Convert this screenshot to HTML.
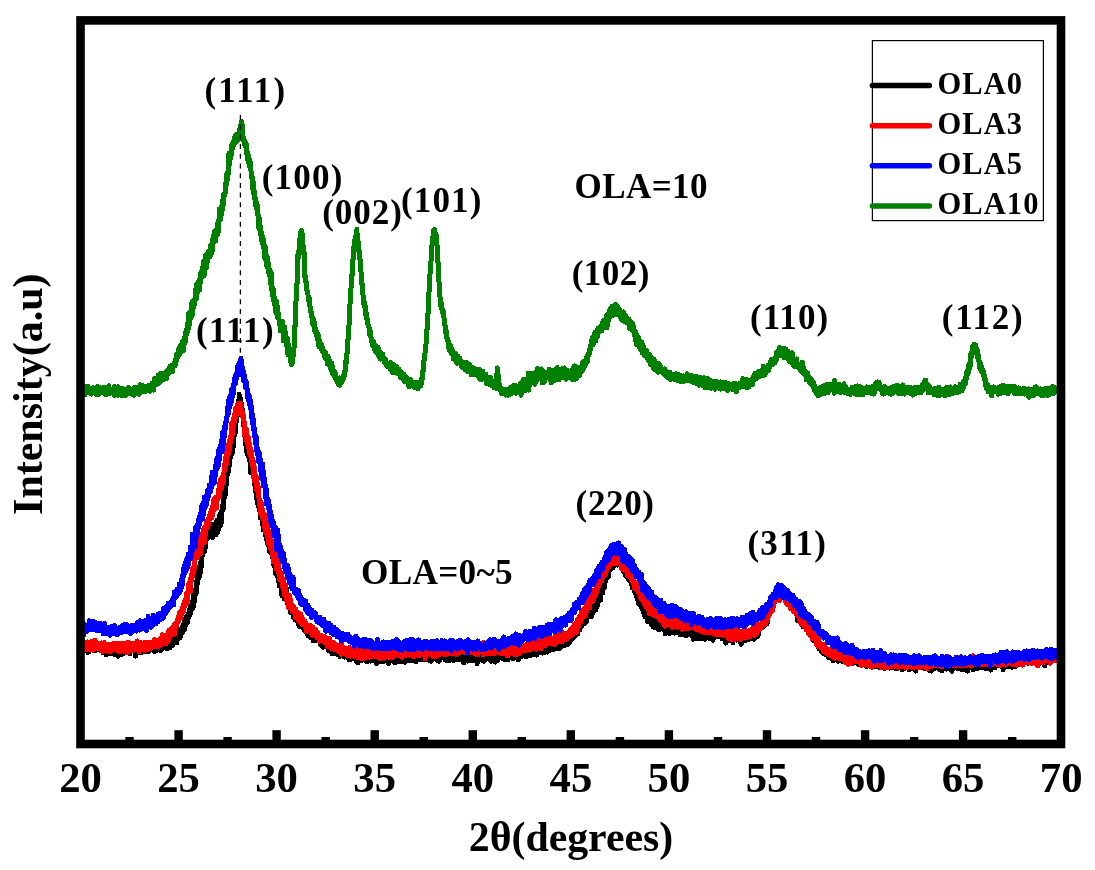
<!DOCTYPE html>
<html><head><meta charset="utf-8"><title>XRD</title>
<style>html,body{margin:0;padding:0;background:#fff;}svg{display:block;}</style>
</head><body>
<svg width="1095" height="870" viewBox="0 0 1095 870">
<rect width="100%" height="100%" fill="#fff"/>
<g fill="none" stroke-width="5" stroke-linejoin="round" stroke-linecap="round" shape-rendering="crispEdges">
<path stroke="#000" d="M82.0,649.2 82.2,650.2 82.4,649.1 82.6,645.7 82.8,650.3 83.0,649.3 83.2,647.3 83.4,649.6 83.6,649.1 83.8,648.9 84.0,648.4 84.2,649.4 84.4,646.8 84.5,647.9 84.7,647.3 84.9,649.5 85.1,648.3 85.3,647.6 85.5,646.6 85.7,647.7 85.9,648.2 86.1,647.6 86.3,650.9 86.5,650.3 86.7,642.5 86.9,644.2 87.1,647.8 87.3,647.2 87.5,648.6 87.7,648.6 87.9,652.5 88.1,645.8 88.3,647.3 88.5,652.3 88.7,649.4 88.9,649.4 89.1,647.0 89.3,644.6 89.4,648.4 89.6,648.3 89.8,645.5 90.0,646.6 90.2,647.9 90.4,646.1 90.6,647.8 90.8,648.2 91.0,648.1 91.2,647.0 91.4,649.3 91.6,649.9 91.8,648.7 92.0,646.3 92.2,649.5 92.4,647.0 92.6,649.8 92.8,645.8 93.0,649.9 93.2,648.0 93.4,645.4 93.6,647.3 93.8,648.1 94.0,648.6 94.2,646.0 94.3,645.7 94.5,648.4 94.7,647.0 94.9,648.5 95.1,649.6 95.3,644.6 95.5,648.5 95.7,650.6 95.9,647.4 96.1,646.3 96.3,649.6 96.5,648.5 96.7,649.9 96.9,647.3 97.1,644.9 97.3,647.8 97.5,647.1 97.7,649.7 97.9,648.5 98.1,644.7 98.3,645.6 98.5,650.0 98.7,649.6 98.9,646.9 99.1,648.2 99.2,649.2 99.4,649.3 99.6,650.1 99.8,648.9 100.0,648.2 100.2,647.9 100.4,650.6 100.6,643.8 100.8,648.2 101.0,648.6 101.2,645.6 101.4,649.3 101.6,647.3 101.8,650.5 102.0,648.5 102.2,650.2 102.4,651.4 102.6,649.7 102.8,647.1 103.0,645.8 103.2,652.7 103.4,648.8 103.6,647.7 103.8,649.5 104.0,648.8 104.1,651.0 104.3,649.4 104.5,649.4 104.7,647.9 104.9,650.4 105.1,647.3 105.3,650.9 105.5,652.7 105.7,646.5 105.9,644.6 106.1,651.0 106.3,655.0 106.5,647.7 106.7,647.2 106.9,651.1 107.1,648.2 107.3,648.9 107.5,649.3 107.7,651.1 107.9,649.2 108.1,650.7 108.3,649.8 108.5,648.4 108.7,649.5 108.9,648.3 109.0,650.3 109.2,648.0 109.4,648.0 109.6,653.3 109.8,650.2 110.0,650.3 110.2,651.5 110.4,649.5 110.6,650.0 110.8,651.3 111.0,651.0 111.2,648.1 111.4,652.2 111.6,649.3 111.8,648.3 112.0,648.6 112.2,649.7 112.4,653.9 112.6,648.1 112.8,650.8 113.0,646.1 113.2,650.5 113.4,652.4 113.6,650.0 113.8,649.2 113.9,651.0 114.1,651.9 114.3,651.9 114.5,654.6 114.7,650.9 114.9,649.3 115.1,650.2 115.3,650.3 115.5,650.7 115.7,650.4 115.9,650.8 116.1,647.0 116.3,652.2 116.5,649.3 116.7,648.0 116.9,651.8 117.1,653.2 117.3,651.4 117.5,650.8 117.7,648.5 117.9,656.3 118.1,652.2 118.3,648.0 118.5,648.8 118.7,650.6 118.8,647.2 119.0,650.7 119.2,649.4 119.4,652.9 119.6,652.3 119.8,644.8 120.0,650.4 120.2,647.0 120.4,652.6 120.6,650.7 120.8,651.4 121.0,648.1 121.2,654.1 121.4,654.5 121.6,648.1 121.8,651.0 122.0,648.9 122.2,650.2 122.4,647.6 122.6,654.1 122.8,648.2 123.0,649.6 123.2,651.3 123.4,648.9 123.6,649.7 123.7,649.0 123.9,649.9 124.1,647.8 124.3,649.3 124.5,649.7 124.7,649.5 124.9,650.3 125.1,649.5 125.3,651.7 125.5,649.5 125.7,649.8 125.9,648.7 126.1,649.0 126.3,647.5 126.5,651.1 126.7,647.7 126.9,648.5 127.1,650.8 127.3,650.9 127.5,649.2 127.7,645.9 127.9,650.9 128.1,650.5 128.3,647.1 128.5,651.6 128.6,648.5 128.8,647.6 129.0,650.2 129.2,649.6 129.4,650.4 129.6,646.6 129.8,653.7 130.0,648.7 130.2,646.7 130.4,651.2 130.6,649.2 130.8,650.6 131.0,649.2 131.2,649.7 131.4,650.4 131.6,648.3 131.8,651.2 132.0,648.9 132.2,648.0 132.4,650.0 132.6,650.7 132.8,649.3 133.0,648.0 133.2,651.1 133.4,646.1 133.5,647.6 133.7,649.8 133.9,646.9 134.1,649.8 134.3,649.6 134.5,651.6 134.7,647.8 134.9,648.4 135.1,650.4 135.3,644.6 135.5,656.1 135.7,648.2 135.9,648.1 136.1,651.4 136.3,649.5 136.5,645.9 136.7,650.9 136.9,651.3 137.1,648.6 137.3,649.0 137.5,650.5 137.7,647.6 137.9,650.4 138.1,649.9 138.3,648.1 138.4,646.6 138.6,649.0 138.8,647.6 139.0,651.5 139.2,649.7 139.4,651.0 139.6,649.7 139.8,649.9 140.0,647.7 140.2,650.7 140.4,653.0 140.6,648.7 140.8,648.1 141.0,649.0 141.2,648.3 141.4,647.8 141.6,649.5 141.8,648.6 142.0,652.2 142.2,649.2 142.4,649.8 142.6,651.1 142.8,648.5 143.0,652.1 143.2,647.8 143.3,647.4 143.5,648.3 143.7,648.8 143.9,646.1 144.1,649.0 144.3,645.5 144.5,651.9 144.7,648.8 144.9,647.6 145.1,647.0 145.3,648.1 145.5,648.4 145.7,646.7 145.9,646.9 146.1,648.4 146.3,647.7 146.5,650.7 146.7,651.1 146.9,648.8 147.1,649.7 147.3,645.9 147.5,650.0 147.7,648.6 147.9,649.6 148.1,651.9 148.2,643.8 148.4,649.1 148.6,646.2 148.8,649.7 149.0,645.7 149.2,647.4 149.4,648.8 149.6,649.6 149.8,648.5 150.0,646.6 150.2,647.1 150.4,650.1 150.6,648.2 150.8,644.6 151.0,649.9 151.2,649.0 151.4,649.9 151.6,647.3 151.8,649.7 152.0,645.7 152.2,649.1 152.4,646.9 152.6,649.3 152.8,649.9 153.0,646.2 153.1,647.6 153.3,647.8 153.5,650.2 153.7,649.1 153.9,645.1 154.1,648.5 154.3,649.1 154.5,651.9 154.7,644.0 154.9,646.3 155.1,650.2 155.3,644.5 155.5,644.8 155.7,648.4 155.9,649.4 156.1,645.8 156.3,648.3 156.5,647.4 156.7,650.3 156.9,647.1 157.1,649.1 157.3,645.1 157.5,646.6 157.7,646.7 157.9,649.3 158.0,648.1 158.2,645.3 158.4,648.2 158.6,648.4 158.8,646.5 159.0,646.2 159.2,646.3 159.4,643.1 159.6,647.0 159.8,647.1 160.0,644.7 160.2,648.1 160.4,643.6 160.6,645.3 160.8,645.4 161.0,650.5 161.2,643.0 161.4,647.5 161.6,648.2 161.8,647.0 162.0,648.7 162.2,644.1 162.4,641.3 162.6,647.7 162.8,643.5 162.9,645.3 163.1,643.5 163.3,648.1 163.5,647.7 163.7,644.3 163.9,647.7 164.1,646.0 164.3,645.4 164.5,645.8 164.7,645.2 164.9,646.9 165.1,646.2 165.3,644.7 165.5,647.5 165.7,644.1 165.9,645.9 166.1,646.1 166.3,648.3 166.5,644.1 166.7,648.7 166.9,645.4 167.1,644.5 167.3,643.5 167.5,646.0 167.7,644.8 167.8,642.3 168.0,642.2 168.2,643.3 168.4,642.9 168.6,646.6 168.8,647.1 169.0,645.9 169.2,644.7 169.4,642.9 169.6,643.8 169.8,645.5 170.0,648.0 170.2,645.3 170.4,642.6 170.6,643.1 170.8,641.9 171.0,641.1 171.2,642.2 171.4,642.9 171.6,646.2 171.8,642.3 172.0,644.9 172.2,645.6 172.4,641.8 172.6,644.9 172.7,642.8 172.9,640.2 173.1,641.5 173.3,640.8 173.5,640.1 173.7,640.0 173.9,640.5 174.1,640.9 174.3,637.9 174.5,639.6 174.7,636.1 174.9,639.8 175.1,640.3 175.3,639.1 175.5,639.2 175.7,639.6 175.9,636.7 176.1,637.4 176.3,638.8 176.5,639.7 176.7,638.1 176.9,642.6 177.1,636.6 177.3,638.7 177.5,639.1 177.6,635.8 177.8,634.1 178.0,633.0 178.2,635.7 178.4,637.6 178.6,635.5 178.8,635.0 179.0,633.6 179.2,635.4 179.4,629.2 179.6,634.2 179.8,633.5 180.0,630.1 180.2,637.6 180.4,629.5 180.6,629.9 180.8,629.4 181.0,634.1 181.2,629.4 181.4,632.5 181.6,632.0 181.8,631.0 182.0,627.1 182.2,628.3 182.4,633.0 182.5,626.1 182.7,626.7 182.9,627.8 183.1,629.6 183.3,627.9 183.5,628.6 183.7,624.2 183.9,628.3 184.1,627.0 184.3,621.7 184.5,628.3 184.7,629.6 184.9,622.2 185.1,623.6 185.3,626.2 185.5,619.2 185.7,617.6 185.9,618.7 186.1,619.9 186.3,619.4 186.5,621.6 186.7,620.3 186.9,616.4 187.1,620.0 187.3,622.6 187.4,620.5 187.6,619.5 187.8,616.8 188.0,618.5 188.2,613.5 188.4,617.0 188.6,614.5 188.8,616.8 189.0,614.8 189.2,610.6 189.4,612.9 189.6,615.0 189.8,609.0 190.0,609.8 190.2,608.0 190.4,605.1 190.6,612.6 190.8,613.2 191.0,611.0 191.2,608.6 191.4,607.1 191.6,607.5 191.8,603.7 192.0,608.4 192.2,608.3 192.3,607.4 192.5,602.0 192.7,603.3 192.9,601.9 193.1,607.7 193.3,601.7 193.5,594.3 193.7,601.1 193.9,605.3 194.1,600.7 194.3,600.6 194.5,597.1 194.7,589.8 194.9,589.6 195.1,590.7 195.3,593.6 195.5,594.2 195.7,594.7 195.9,590.5 196.1,593.9 196.3,589.0 196.5,586.6 196.7,590.8 196.9,584.0 197.1,577.0 197.2,581.4 197.4,584.0 197.6,572.5 197.8,580.3 198.0,579.2 198.2,574.4 198.4,573.0 198.6,575.2 198.8,573.7 199.0,578.4 199.2,574.3 199.4,566.6 199.6,567.8 199.8,571.7 200.0,574.4 200.2,568.3 200.4,566.9 200.6,570.9 200.8,563.6 201.0,561.5 201.2,556.7 201.4,558.5 201.6,566.1 201.8,553.1 202.0,556.6 202.1,550.7 202.3,554.5 202.5,555.8 202.7,550.9 202.9,553.0 203.1,551.8 203.3,549.8 203.5,552.9 203.7,548.9 203.9,544.4 204.1,542.3 204.3,541.0 204.5,544.6 204.7,541.3 204.9,550.6 205.1,547.0 205.3,539.6 205.5,538.6 205.7,544.6 205.9,532.3 206.1,536.4 206.3,540.4 206.5,533.8 206.7,534.7 206.9,534.7 207.0,537.6 207.2,535.5 207.4,536.0 207.6,536.4 207.8,534.3 208.0,537.6 208.2,531.4 208.4,528.9 208.6,527.7 208.8,528.1 209.0,531.4 209.2,536.5 209.4,533.6 209.6,530.9 209.8,529.3 210.0,531.0 210.2,531.3 210.4,530.7 210.6,527.8 210.8,530.8 211.0,535.6 211.2,525.1 211.4,531.4 211.6,525.1 211.8,532.6 211.9,529.5 212.1,525.0 212.3,532.1 212.5,537.7 212.7,532.0 212.9,535.3 213.1,531.2 213.3,524.3 213.5,532.9 213.7,529.8 213.9,526.3 214.1,533.5 214.3,531.8 214.5,529.0 214.7,533.5 214.9,527.7 215.1,532.5 215.3,527.3 215.5,532.0 215.7,526.6 215.9,534.9 216.1,530.8 216.3,534.6 216.5,527.1 216.7,528.1 216.8,532.3 217.0,520.4 217.2,525.8 217.4,532.6 217.6,530.5 217.8,532.1 218.0,527.7 218.2,530.4 218.4,525.9 218.6,523.6 218.8,522.4 219.0,525.9 219.2,525.6 219.4,525.1 219.6,515.2 219.8,519.7 220.0,523.6 220.2,525.2 220.4,521.2 220.6,518.8 220.8,512.7 221.0,525.4 221.2,513.7 221.4,521.5 221.6,519.8 221.7,514.3 221.9,510.3 222.1,511.3 222.3,505.8 222.5,509.2 222.7,507.0 222.9,507.4 223.1,507.5 223.3,508.7 223.5,500.4 223.7,503.8 223.9,496.5 224.1,494.8 224.3,494.4 224.5,491.8 224.7,496.9 224.9,495.4 225.1,495.2 225.3,489.5 225.5,489.1 225.7,484.9 225.9,481.6 226.1,485.4 226.3,483.4 226.5,477.4 226.6,481.5 226.8,472.5 227.0,476.2 227.2,473.3 227.4,472.3 227.6,469.1 227.8,474.4 228.0,471.8 228.2,472.5 228.4,467.8 228.6,461.9 228.8,463.7 229.0,459.8 229.2,464.1 229.4,465.4 229.6,461.5 229.8,457.4 230.0,457.2 230.2,458.2 230.4,451.9 230.6,456.2 230.8,455.5 231.0,452.3 231.2,451.8 231.4,452.9 231.5,448.9 231.7,448.0 231.9,452.4 232.1,449.7 232.3,453.6 232.5,443.9 232.7,440.4 232.9,448.3 233.1,446.8 233.3,441.0 233.5,437.9 233.7,440.5 233.9,434.5 234.1,436.8 234.3,430.2 234.5,433.9 234.7,427.0 234.9,430.5 235.1,433.5 235.3,426.9 235.5,428.0 235.7,422.5 235.9,420.2 236.1,417.0 236.3,422.4 236.4,418.1 236.6,421.4 236.8,412.4 237.0,413.6 237.2,413.1 237.4,415.3 237.6,415.0 237.8,406.9 238.0,404.3 238.2,401.4 238.4,408.6 238.6,403.6 238.8,401.1 239.0,401.9 239.2,394.4 239.4,396.1 239.6,403.0 239.8,401.4 240.0,400.8 240.2,397.9 240.4,402.7 240.6,406.5 240.8,399.0 241.0,403.2 241.2,402.9 241.3,406.1 241.5,406.3 241.7,407.0 241.9,406.3 242.1,409.9 242.3,409.6 242.5,412.2 242.7,413.8 242.9,417.1 243.1,415.1 243.3,417.5 243.5,423.2 243.7,421.9 243.9,424.1 244.1,429.6 244.3,430.4 244.5,432.3 244.7,435.0 244.9,433.2 245.1,439.8 245.3,443.9 245.5,443.2 245.7,438.5 245.9,444.5 246.1,441.7 246.2,444.9 246.4,446.9 246.6,443.3 246.8,452.4 247.0,448.5 247.2,452.0 247.4,452.1 247.6,455.0 247.8,455.1 248.0,447.0 248.2,452.5 248.4,446.0 248.6,452.1 248.8,456.4 249.0,457.7 249.2,459.5 249.4,454.6 249.6,457.5 249.8,457.5 250.0,462.0 250.2,463.8 250.4,458.2 250.6,472.5 250.8,461.0 251.0,460.6 251.1,464.7 251.3,466.1 251.5,466.4 251.7,463.4 251.9,471.3 252.1,467.6 252.3,473.5 252.5,474.0 252.7,466.3 252.9,468.3 253.1,469.3 253.3,474.4 253.5,474.9 253.7,476.7 253.9,474.2 254.1,479.4 254.3,483.7 254.5,475.8 254.7,480.6 254.9,483.2 255.1,483.1 255.3,484.0 255.5,491.6 255.7,491.1 255.9,490.8 256.0,486.6 256.2,497.6 256.4,492.5 256.6,490.6 256.8,492.5 257.0,493.1 257.2,502.7 257.4,497.5 257.6,498.1 257.8,491.9 258.0,502.5 258.2,497.6 258.4,498.4 258.6,505.1 258.8,501.3 259.0,507.9 259.2,509.8 259.4,501.2 259.6,507.6 259.8,503.8 260.0,509.6 260.2,513.7 260.4,507.1 260.6,518.3 260.8,512.3 260.9,510.3 261.1,514.6 261.3,518.5 261.5,512.2 261.7,517.6 261.9,513.9 262.1,523.2 262.3,520.5 262.5,519.4 262.7,525.0 262.9,518.2 263.1,522.0 263.3,530.1 263.5,524.4 263.7,530.1 263.9,527.0 264.1,524.9 264.3,527.1 264.5,528.9 264.7,528.1 264.9,527.5 265.1,528.4 265.3,526.8 265.5,532.7 265.7,534.4 265.8,536.3 266.0,528.6 266.2,537.9 266.4,535.9 266.6,532.0 266.8,537.6 267.0,540.7 267.2,540.4 267.4,541.7 267.6,543.1 267.8,543.6 268.0,541.1 268.2,535.0 268.4,540.0 268.6,544.2 268.8,542.1 269.0,546.4 269.2,547.4 269.4,545.5 269.6,552.0 269.8,543.2 270.0,550.0 270.2,546.0 270.4,545.5 270.6,550.5 270.7,547.1 270.9,552.5 271.1,546.4 271.3,550.9 271.5,548.6 271.7,551.2 271.9,551.3 272.1,549.4 272.3,555.8 272.5,550.2 272.7,551.6 272.9,558.4 273.1,559.3 273.3,558.9 273.5,558.5 273.7,565.5 273.9,554.7 274.1,557.0 274.3,556.9 274.5,563.8 274.7,562.5 274.9,566.1 275.1,566.5 275.3,563.5 275.5,562.4 275.6,562.8 275.8,574.3 276.0,571.3 276.2,571.0 276.4,569.0 276.6,570.4 276.8,570.9 277.0,571.9 277.2,566.0 277.4,574.5 277.6,574.3 277.8,577.2 278.0,577.6 278.2,580.4 278.4,578.2 278.6,581.4 278.8,571.0 279.0,576.3 279.2,586.2 279.4,577.0 279.6,580.7 279.8,584.4 280.0,579.7 280.2,585.4 280.4,578.9 280.5,577.8 280.7,580.1 280.9,579.5 281.1,585.3 281.3,584.8 281.5,587.3 281.7,583.3 281.9,595.5 282.1,587.2 282.3,587.8 282.5,589.9 282.7,588.0 282.9,587.2 283.1,589.9 283.3,593.1 283.5,592.7 283.7,594.0 283.9,589.5 284.1,589.3 284.3,598.8 284.5,591.9 284.7,594.7 284.9,596.0 285.1,598.8 285.3,590.2 285.4,593.5 285.6,594.1 285.8,595.1 286.0,588.7 286.2,596.8 286.4,588.1 286.6,599.1 286.8,600.4 287.0,601.1 287.2,595.7 287.4,603.3 287.6,597.9 287.8,597.2 288.0,598.5 288.2,599.5 288.4,603.3 288.6,606.0 288.8,596.9 289.0,602.5 289.2,607.7 289.4,605.9 289.6,607.4 289.8,601.3 290.0,609.8 290.2,603.5 290.3,608.1 290.5,611.3 290.7,612.9 290.9,610.1 291.1,611.4 291.3,608.3 291.5,609.0 291.7,613.2 291.9,610.9 292.1,610.9 292.3,608.2 292.5,612.2 292.7,613.7 292.9,610.7 293.1,611.7 293.3,616.9 293.5,613.9 293.7,613.1 293.9,611.5 294.1,613.0 294.3,614.2 294.5,618.2 294.7,613.9 294.9,619.8 295.1,613.8 295.2,615.4 295.4,618.5 295.6,616.3 295.8,615.2 296.0,617.1 296.2,618.7 296.4,614.0 296.6,617.6 296.8,618.2 297.0,617.8 297.2,620.7 297.4,618.0 297.6,618.7 297.8,619.9 298.0,621.7 298.2,619.8 298.4,624.0 298.6,618.7 298.8,624.0 299.0,619.3 299.2,621.2 299.4,622.6 299.6,626.7 299.8,624.3 300.0,621.6 300.1,625.7 300.3,622.5 300.5,621.4 300.7,624.4 300.9,623.9 301.1,626.0 301.3,622.8 301.5,625.2 301.7,626.0 301.9,625.4 302.1,624.9 302.3,623.6 302.5,627.4 302.7,625.9 302.9,626.9 303.1,625.2 303.3,626.3 303.5,624.1 303.7,626.8 303.9,628.6 304.1,627.3 304.3,629.2 304.5,628.2 304.7,630.7 304.9,627.4 305.0,624.4 305.2,629.2 305.4,628.1 305.6,626.5 305.8,630.3 306.0,629.6 306.2,630.2 306.4,628.7 306.6,630.0 306.8,630.3 307.0,633.9 307.2,628.6 307.4,630.3 307.6,631.3 307.8,626.9 308.0,627.3 308.2,635.8 308.4,627.3 308.6,632.7 308.8,629.7 309.0,630.1 309.2,627.6 309.4,630.1 309.6,634.0 309.8,629.4 309.9,633.9 310.1,633.5 310.3,637.4 310.5,632.1 310.7,636.1 310.9,635.4 311.1,633.0 311.3,630.1 311.5,637.2 311.7,631.1 311.9,633.2 312.1,636.4 312.3,637.0 312.5,632.9 312.7,634.8 312.9,634.5 313.1,637.8 313.3,640.8 313.5,631.5 313.7,637.7 313.9,629.6 314.1,636.0 314.3,633.7 314.5,640.6 314.7,636.8 314.8,635.0 315.0,635.6 315.2,635.6 315.4,637.4 315.6,636.8 315.8,638.7 316.0,640.8 316.2,639.1 316.4,635.1 316.6,634.4 316.8,636.4 317.0,640.5 317.2,637.6 317.4,637.0 317.6,638.9 317.8,635.7 318.0,636.4 318.2,640.1 318.4,638.5 318.6,638.3 318.8,640.1 319.0,638.3 319.2,638.2 319.4,638.9 319.6,641.3 319.7,640.3 319.9,637.7 320.1,639.8 320.3,641.9 320.5,644.7 320.7,638.4 320.9,641.7 321.1,640.5 321.3,643.0 321.5,642.3 321.7,644.6 321.9,642.7 322.1,640.6 322.3,640.7 322.5,642.9 322.7,643.0 322.9,647.4 323.1,646.0 323.3,640.1 323.5,643.5 323.7,640.0 323.9,639.5 324.1,644.7 324.3,644.4 324.5,641.2 324.6,647.0 324.8,641.6 325.0,641.3 325.2,645.3 325.4,644.6 325.6,643.9 325.8,644.2 326.0,645.0 326.2,644.3 326.4,644.4 326.6,640.9 326.8,642.2 327.0,646.5 327.2,643.8 327.4,646.6 327.6,648.2 327.8,645.0 328.0,646.4 328.2,650.3 328.4,647.6 328.6,650.1 328.8,649.6 329.0,648.1 329.2,646.4 329.4,645.0 329.5,644.6 329.7,648.0 329.9,648.1 330.1,646.9 330.3,649.2 330.5,646.3 330.7,650.0 330.9,647.9 331.1,647.8 331.3,648.0 331.5,647.9 331.7,653.4 331.9,645.0 332.1,648.9 332.3,651.2 332.5,650.2 332.7,648.2 332.9,652.6 333.1,646.9 333.3,646.5 333.5,650.5 333.7,646.4 333.9,644.6 334.1,651.5 334.3,651.3 334.4,651.4 334.6,649.0 334.8,650.4 335.0,648.2 335.2,653.9 335.4,652.0 335.6,652.0 335.8,646.6 336.0,652.3 336.2,653.8 336.4,653.4 336.6,652.6 336.8,651.0 337.0,650.4 337.2,652.5 337.4,652.1 337.6,651.9 337.8,650.9 338.0,655.0 338.2,649.3 338.4,651.7 338.6,650.6 338.8,654.0 339.0,654.9 339.2,654.6 339.3,653.7 339.5,649.3 339.7,656.5 339.9,653.4 340.1,652.2 340.3,652.5 340.5,651.8 340.7,653.4 340.9,653.3 341.1,652.0 341.3,647.5 341.5,652.7 341.7,653.8 341.9,654.0 342.1,652.7 342.3,654.0 342.5,655.2 342.7,652.2 342.9,656.2 343.1,649.3 343.3,650.8 343.5,651.6 343.7,648.5 343.9,651.5 344.1,656.1 344.2,656.2 344.4,653.9 344.6,657.2 344.8,654.3 345.0,652.8 345.2,654.4 345.4,653.7 345.6,655.5 345.8,651.0 346.0,656.2 346.2,653.2 346.4,656.0 346.6,651.1 346.8,653.5 347.0,654.5 347.2,656.3 347.4,652.0 347.6,657.9 347.8,655.6 348.0,653.6 348.2,657.2 348.4,654.9 348.6,657.1 348.8,659.5 349.0,656.4 349.1,653.9 349.3,654.1 349.5,656.2 349.7,655.7 349.9,653.4 350.1,653.8 350.3,656.6 350.5,660.0 350.7,650.0 350.9,656.8 351.1,655.0 351.3,657.0 351.5,657.2 351.7,655.6 351.9,653.5 352.1,652.8 352.3,651.9 352.5,658.2 352.7,655.3 352.9,654.7 353.1,655.3 353.3,653.2 353.5,656.5 353.7,658.6 353.9,658.3 354.0,652.9 354.2,658.8 354.4,654.6 354.6,652.3 354.8,653.7 355.0,654.3 355.2,656.3 355.4,654.2 355.6,653.3 355.8,655.8 356.0,660.3 356.2,655.0 356.4,657.4 356.6,656.7 356.8,661.9 357.0,652.8 357.2,658.8 357.4,654.1 357.6,655.5 357.8,656.5 358.0,663.1 358.2,655.2 358.4,653.0 358.6,659.4 358.8,655.2 358.9,656.4 359.1,656.9 359.3,657.1 359.5,656.6 359.7,657.5 359.9,657.8 360.1,658.8 360.3,656.2 360.5,655.6 360.7,655.0 360.9,658.3 361.1,657.1 361.3,658.3 361.5,658.3 361.7,660.6 361.9,657.7 362.1,658.8 362.3,654.9 362.5,655.2 362.7,656.7 362.9,654.9 363.1,658.8 363.3,654.7 363.5,657.5 363.7,652.5 363.8,655.2 364.0,656.8 364.2,657.0 364.4,653.9 364.6,657.7 364.8,659.5 365.0,658.8 365.2,656.2 365.4,656.4 365.6,655.2 365.8,658.8 366.0,660.5 366.2,656.6 366.4,654.2 366.6,658.0 366.8,659.1 367.0,652.2 367.2,658.0 367.4,662.0 367.6,659.3 367.8,658.8 368.0,658.5 368.2,659.9 368.4,655.9 368.6,656.1 368.7,658.6 368.9,656.4 369.1,658.3 369.3,654.0 369.5,659.3 369.7,659.5 369.9,657.9 370.1,658.2 370.3,661.1 370.5,655.7 370.7,656.1 370.9,655.7 371.1,657.1 371.3,655.9 371.5,658.0 371.7,656.7 371.9,655.1 372.1,654.9 372.3,660.4 372.5,657.9 372.7,657.6 372.9,658.1 373.1,657.9 373.3,659.5 373.5,659.2 373.6,656.9 373.8,656.4 374.0,655.9 374.2,655.6 374.4,660.9 374.6,656.3 374.8,654.1 375.0,656.4 375.2,656.5 375.4,658.8 375.6,656.4 375.8,659.2 376.0,658.9 376.2,660.7 376.4,662.5 376.6,663.8 376.8,660.9 377.0,655.8 377.2,657.4 377.4,658.7 377.6,662.3 377.8,659.5 378.0,660.6 378.2,657.8 378.4,659.4 378.5,659.6 378.7,657.3 378.9,659.7 379.1,660.3 379.3,657.9 379.5,660.2 379.7,661.5 379.9,658.3 380.1,658.2 380.3,657.6 380.5,657.0 380.7,658.5 380.9,657.4 381.1,657.6 381.3,656.7 381.5,655.1 381.7,656.3 381.9,658.9 382.1,655.8 382.3,656.9 382.5,661.5 382.7,660.4 382.9,656.8 383.1,659.4 383.3,656.9 383.4,661.4 383.6,657.0 383.8,658.3 384.0,660.9 384.2,656.5 384.4,660.8 384.6,656.5 384.8,658.6 385.0,657.6 385.2,658.0 385.4,658.5 385.6,658.0 385.8,656.1 386.0,659.9 386.2,659.6 386.4,660.7 386.6,660.9 386.8,655.4 387.0,660.7 387.2,660.7 387.4,657.0 387.6,660.2 387.8,661.0 388.0,657.0 388.2,655.3 388.3,657.4 388.5,663.7 388.7,658.5 388.9,655.6 389.1,657.5 389.3,656.1 389.5,657.2 389.7,658.2 389.9,652.9 390.1,658.7 390.3,660.8 390.5,657.6 390.7,657.2 390.9,660.2 391.1,655.5 391.3,655.5 391.5,655.2 391.7,657.7 391.9,658.7 392.1,657.8 392.3,659.0 392.5,659.6 392.7,658.9 392.9,656.3 393.1,657.4 393.2,660.4 393.4,655.8 393.6,657.4 393.8,657.0 394.0,657.5 394.2,655.7 394.4,655.2 394.6,663.0 394.8,659.7 395.0,656.4 395.2,657.7 395.4,659.2 395.6,657.1 395.8,659.0 396.0,656.6 396.2,657.1 396.4,657.6 396.6,656.8 396.8,652.8 397.0,657.8 397.2,658.3 397.4,658.7 397.6,655.7 397.8,658.4 398.0,658.1 398.1,654.1 398.3,653.3 398.5,658.6 398.7,655.7 398.9,659.7 399.1,661.9 399.3,656.5 399.5,656.2 399.7,657.6 399.9,658.9 400.1,655.3 400.3,660.1 400.5,659.5 400.7,658.9 400.9,656.5 401.1,659.4 401.3,659.2 401.5,655.1 401.7,661.7 401.9,656.9 402.1,658.2 402.3,656.4 402.5,658.2 402.7,659.8 402.9,655.8 403.0,654.1 403.2,656.5 403.4,654.8 403.6,655.9 403.8,657.1 404.0,657.2 404.2,660.0 404.4,655.3 404.6,658.0 404.8,656.3 405.0,660.1 405.2,662.4 405.4,657.9 405.6,660.6 405.8,656.2 406.0,654.1 406.2,654.7 406.4,654.1 406.6,655.3 406.8,656.7 407.0,659.5 407.2,658.6 407.4,658.1 407.6,656.3 407.8,655.7 407.9,657.2 408.1,657.4 408.3,657.6 408.5,657.9 408.7,656.9 408.9,653.2 409.1,654.8 409.3,655.4 409.5,660.5 409.7,656.2 409.9,658.4 410.1,660.0 410.3,657.7 410.5,656.2 410.7,656.4 410.9,654.9 411.1,657.6 411.3,659.2 411.5,658.1 411.7,658.5 411.9,658.4 412.1,660.9 412.3,655.6 412.5,657.2 412.7,658.3 412.8,659.4 413.0,652.0 413.2,655.8 413.4,656.4 413.6,654.8 413.8,658.5 414.0,657.3 414.2,656.0 414.4,653.5 414.6,654.1 414.8,654.8 415.0,657.7 415.2,654.3 415.4,652.6 415.6,653.8 415.8,655.5 416.0,660.1 416.2,661.7 416.4,655.7 416.6,658.6 416.8,659.5 417.0,659.2 417.2,656.4 417.4,654.0 417.6,655.6 417.7,652.9 417.9,657.1 418.1,658.2 418.3,652.8 418.5,656.5 418.7,657.2 418.9,659.1 419.1,659.3 419.3,658.1 419.5,655.1 419.7,655.8 419.9,658.9 420.1,655.3 420.3,656.4 420.5,659.6 420.7,656.7 420.9,653.7 421.1,655.9 421.3,657.7 421.5,656.1 421.7,658.8 421.9,659.0 422.1,655.1 422.3,655.4 422.5,656.2 422.6,654.0 422.8,657.1 423.0,656.0 423.2,657.9 423.4,655.1 423.6,654.6 423.8,660.0 424.0,654.6 424.2,655.1 424.4,654.8 424.6,655.7 424.8,654.4 425.0,656.2 425.2,654.9 425.4,655.4 425.6,657.0 425.8,657.7 426.0,657.2 426.2,654.8 426.4,657.0 426.6,656.0 426.8,656.0 427.0,652.7 427.2,657.6 427.4,655.9 427.5,659.6 427.7,657.5 427.9,653.9 428.1,653.4 428.3,658.5 428.5,654.4 428.7,657.5 428.9,655.6 429.1,660.4 429.3,656.3 429.5,659.2 429.7,658.8 429.9,655.2 430.1,655.5 430.3,659.1 430.5,656.1 430.7,654.4 430.9,658.6 431.1,661.3 431.3,656.1 431.5,659.0 431.7,655.8 431.9,658.9 432.1,655.7 432.3,658.8 432.4,657.2 432.6,655.8 432.8,656.6 433.0,655.1 433.2,653.9 433.4,654.0 433.6,656.0 433.8,654.0 434.0,657.1 434.2,657.2 434.4,657.1 434.6,655.2 434.8,656.3 435.0,656.1 435.2,658.8 435.4,654.5 435.6,655.4 435.8,655.7 436.0,655.9 436.2,654.7 436.4,654.9 436.6,658.2 436.8,654.9 437.0,658.0 437.2,660.3 437.3,658.8 437.5,652.5 437.7,657.7 437.9,657.2 438.1,657.3 438.3,652.9 438.5,657.7 438.7,654.0 438.9,658.8 439.1,658.4 439.3,661.3 439.5,655.4 439.7,653.1 439.9,658.3 440.1,658.0 440.3,655.4 440.5,658.9 440.7,657.6 440.9,653.6 441.1,655.5 441.3,655.3 441.5,656.0 441.7,656.6 441.9,654.8 442.1,655.8 442.2,657.4 442.4,656.1 442.6,655.7 442.8,655.6 443.0,656.0 443.2,652.4 443.4,656.6 443.6,654.2 443.8,656.5 444.0,653.3 444.2,658.1 444.4,656.7 444.6,653.5 444.8,656.7 445.0,654.7 445.2,659.9 445.4,657.3 445.6,654.7 445.8,656.8 446.0,656.2 446.2,658.7 446.4,657.0 446.6,657.4 446.8,654.1 447.0,657.9 447.1,660.6 447.3,657.6 447.5,656.3 447.7,656.7 447.9,654.5 448.1,656.8 448.3,654.2 448.5,656.5 448.7,655.6 448.9,654.7 449.1,657.6 449.3,653.4 449.5,656.4 449.7,653.8 449.9,660.1 450.1,660.4 450.3,658.2 450.5,660.3 450.7,657.7 450.9,657.6 451.1,655.6 451.3,654.7 451.5,656.8 451.7,655.4 451.9,655.6 452.0,658.0 452.2,656.3 452.4,653.4 452.6,656.1 452.8,655.0 453.0,656.0 453.2,654.4 453.4,659.0 453.6,660.4 453.8,654.4 454.0,657.9 454.2,657.8 454.4,654.5 454.6,656.8 454.8,659.5 455.0,658.3 455.2,659.9 455.4,654.3 455.6,655.2 455.8,657.3 456.0,657.4 456.2,656.7 456.4,655.9 456.6,655.9 456.8,655.5 456.9,657.6 457.1,651.2 457.3,659.9 457.5,655.7 457.7,653.9 457.9,657.8 458.1,653.9 458.3,657.5 458.5,656.0 458.7,658.0 458.9,658.4 459.1,659.4 459.3,655.8 459.5,656.2 459.7,656.8 459.9,654.0 460.1,658.0 460.3,657.1 460.5,654.1 460.7,659.3 460.9,659.6 461.1,654.2 461.3,658.0 461.5,659.4 461.7,658.6 461.8,654.9 462.0,654.1 462.2,656.7 462.4,655.9 462.6,656.9 462.8,656.7 463.0,658.0 463.2,655.8 463.4,656.6 463.6,662.9 463.8,656.7 464.0,658.5 464.2,657.6 464.4,657.4 464.6,655.2 464.8,658.1 465.0,656.9 465.2,658.7 465.4,661.2 465.6,657.4 465.8,658.6 466.0,655.0 466.2,657.3 466.4,660.2 466.6,657.0 466.7,655.8 466.9,657.5 467.1,656.7 467.3,656.6 467.5,656.4 467.7,661.1 467.9,655.4 468.1,656.3 468.3,656.0 468.5,659.6 468.7,656.6 468.9,659.8 469.1,657.5 469.3,657.1 469.5,654.3 469.7,659.6 469.9,658.3 470.1,658.0 470.3,657.0 470.5,656.4 470.7,654.7 470.9,659.1 471.1,657.8 471.3,656.5 471.5,656.0 471.6,657.5 471.8,657.1 472.0,660.6 472.2,658.8 472.4,656.1 472.6,655.1 472.8,656.8 473.0,655.5 473.2,657.5 473.4,658.1 473.6,658.6 473.8,658.2 474.0,657.0 474.2,658.6 474.4,655.6 474.6,657.2 474.8,659.0 475.0,658.0 475.2,654.8 475.4,655.1 475.6,654.2 475.8,661.0 476.0,654.3 476.2,657.1 476.4,661.1 476.5,659.6 476.7,660.1 476.9,656.4 477.1,658.9 477.3,663.6 477.5,657.4 477.7,658.3 477.9,656.8 478.1,657.4 478.3,658.2 478.5,660.3 478.7,655.7 478.9,654.6 479.1,657.5 479.3,657.9 479.5,660.3 479.7,658.9 479.9,656.2 480.1,658.6 480.3,659.7 480.5,658.1 480.7,656.8 480.9,658.9 481.1,656.8 481.3,653.8 481.4,660.2 481.6,654.9 481.8,656.8 482.0,656.9 482.2,656.8 482.4,656.9 482.6,654.6 482.8,658.6 483.0,657.6 483.2,657.6 483.4,659.6 483.6,659.7 483.8,660.2 484.0,661.2 484.2,658.4 484.4,654.4 484.6,657.9 484.8,657.5 485.0,657.6 485.2,656.3 485.4,655.7 485.6,659.1 485.8,659.4 486.0,655.2 486.2,658.5 486.3,657.1 486.5,656.7 486.7,658.8 486.9,657.3 487.1,656.3 487.3,657.5 487.5,653.4 487.7,656.2 487.9,656.5 488.1,654.6 488.3,657.7 488.5,657.9 488.7,656.1 488.9,657.0 489.1,658.7 489.3,659.4 489.5,655.8 489.7,658.0 489.9,659.4 490.1,657.2 490.3,655.7 490.5,655.7 490.7,656.6 490.9,655.1 491.1,661.2 491.2,656.0 491.4,657.9 491.6,657.5 491.8,658.4 492.0,656.4 492.2,654.5 492.4,660.4 492.6,656.9 492.8,657.3 493.0,657.5 493.2,659.6 493.4,658.6 493.6,659.4 493.8,658.7 494.0,657.3 494.2,657.5 494.4,655.5 494.6,653.1 494.8,656.5 495.0,654.8 495.2,662.1 495.4,660.0 495.6,659.2 495.8,655.7 496.0,661.0 496.1,653.4 496.3,654.4 496.5,655.2 496.7,654.8 496.9,657.0 497.1,657.1 497.3,660.6 497.5,658.7 497.7,659.1 497.9,657.5 498.1,656.4 498.3,655.2 498.5,653.6 498.7,654.8 498.9,655.8 499.1,658.1 499.3,653.1 499.5,653.8 499.7,656.9 499.9,654.4 500.1,657.1 500.3,655.6 500.5,654.9 500.7,653.7 500.9,656.2 501.0,654.9 501.2,655.1 501.4,655.0 501.6,656.7 501.8,656.6 502.0,652.8 502.2,655.9 502.4,657.0 502.6,658.3 502.8,657.8 503.0,656.6 503.2,653.8 503.4,654.6 503.6,658.0 503.8,654.7 504.0,658.1 504.2,658.6 504.4,653.9 504.6,656.9 504.8,655.8 505.0,660.1 505.2,657.6 505.4,654.9 505.6,656.7 505.8,654.0 505.9,655.6 506.1,656.3 506.3,656.1 506.5,656.4 506.7,653.9 506.9,652.0 507.1,655.0 507.3,653.9 507.5,654.3 507.7,660.0 507.9,658.0 508.1,655.3 508.3,652.7 508.5,653.0 508.7,656.3 508.9,657.7 509.1,655.0 509.3,655.8 509.5,656.0 509.7,657.6 509.9,651.7 510.1,655.7 510.3,656.2 510.5,657.3 510.7,656.2 510.8,653.1 511.0,654.2 511.2,652.2 511.4,655.7 511.6,655.7 511.8,656.3 512.0,653.3 512.2,652.9 512.4,658.3 512.6,655.5 512.8,658.7 513.0,656.0 513.2,652.1 513.4,656.7 513.6,657.5 513.8,654.1 514.0,651.1 514.2,656.3 514.4,654.6 514.6,655.5 514.8,649.4 515.0,655.8 515.2,649.3 515.4,653.0 515.6,656.6 515.7,651.1 515.9,650.9 516.1,653.8 516.3,658.0 516.5,657.9 516.7,653.4 516.9,656.6 517.1,655.7 517.3,655.1 517.5,655.2 517.7,653.0 517.9,656.1 518.1,656.6 518.3,659.9 518.5,656.2 518.7,649.3 518.9,651.8 519.1,654.9 519.3,654.4 519.5,650.4 519.7,653.9 519.9,653.4 520.1,654.0 520.3,653.8 520.5,655.9 520.6,657.0 520.8,655.4 521.0,651.7 521.2,652.2 521.4,652.5 521.6,653.7 521.8,653.0 522.0,653.1 522.2,651.9 522.4,655.7 522.6,655.4 522.8,655.6 523.0,653.5 523.2,654.5 523.4,651.7 523.6,651.5 523.8,652.4 524.0,654.7 524.2,653.1 524.4,651.1 524.6,653.6 524.8,654.2 525.0,653.6 525.2,651.9 525.4,653.4 525.5,652.3 525.7,652.5 525.9,652.9 526.1,654.6 526.3,656.8 526.5,656.2 526.7,654.3 526.9,652.1 527.1,652.3 527.3,652.3 527.5,655.2 527.7,647.1 527.9,653.3 528.1,648.7 528.3,652.7 528.5,655.4 528.7,650.7 528.9,647.9 529.1,655.2 529.3,655.6 529.5,653.5 529.7,655.0 529.9,650.7 530.1,654.7 530.3,655.8 530.4,653.6 530.6,652.8 530.8,654.8 531.0,654.5 531.2,650.6 531.4,654.9 531.6,653.6 531.8,652.3 532.0,654.6 532.2,653.8 532.4,653.4 532.6,650.8 532.8,653.5 533.0,649.5 533.2,651.5 533.4,648.2 533.6,648.1 533.8,652.5 534.0,651.4 534.2,651.7 534.4,652.7 534.6,652.2 534.8,649.6 535.0,651.5 535.2,651.2 535.3,650.2 535.5,651.0 535.7,650.4 535.9,649.8 536.1,650.4 536.3,651.6 536.5,655.3 536.7,649.3 536.9,652.0 537.1,647.9 537.3,654.1 537.5,650.1 537.7,651.1 537.9,653.4 538.1,652.7 538.3,647.6 538.5,651.8 538.7,650.1 538.9,651.8 539.1,650.8 539.3,652.0 539.5,651.0 539.7,650.1 539.9,652.8 540.1,647.1 540.2,649.4 540.4,648.2 540.6,649.9 540.8,649.2 541.0,649.8 541.2,649.0 541.4,649.0 541.6,646.6 541.8,649.8 542.0,650.5 542.2,648.6 542.4,648.4 542.6,648.4 542.8,653.2 543.0,650.1 543.2,650.4 543.4,649.0 543.6,648.5 543.8,647.7 544.0,652.7 544.2,645.9 544.4,650.0 544.6,649.3 544.8,648.8 545.0,646.0 545.1,646.7 545.3,651.2 545.5,647.7 545.7,650.9 545.9,650.4 546.1,650.2 546.3,650.5 546.5,646.4 546.7,647.9 546.9,650.2 547.1,646.2 547.3,652.2 547.5,647.5 547.7,648.5 547.9,646.5 548.1,649.3 548.3,647.0 548.5,648.0 548.7,646.1 548.9,650.9 549.1,644.9 549.3,649.2 549.5,648.7 549.7,649.1 549.9,646.0 550.0,650.2 550.2,650.0 550.4,648.3 550.6,648.6 550.8,647.6 551.0,649.2 551.2,646.1 551.4,648.9 551.6,648.5 551.8,644.7 552.0,642.1 552.2,647.3 552.4,647.1 552.6,650.0 552.8,647.5 553.0,646.3 553.2,644.4 553.4,647.0 553.6,645.9 553.8,644.8 554.0,646.8 554.2,649.2 554.4,647.1 554.6,644.7 554.8,647.5 554.9,644.5 555.1,643.4 555.3,647.7 555.5,645.4 555.7,648.8 555.9,647.1 556.1,644.7 556.3,646.8 556.5,649.0 556.7,645.8 556.9,643.9 557.1,644.7 557.3,644.3 557.5,643.5 557.7,643.2 557.9,646.7 558.1,648.1 558.3,644.9 558.5,647.3 558.7,647.4 558.9,649.0 559.1,645.0 559.3,644.6 559.5,646.1 559.7,645.4 559.8,645.7 560.0,647.8 560.2,644.1 560.4,645.3 560.6,642.7 560.8,644.4 561.0,643.2 561.2,643.0 561.4,644.0 561.6,643.5 561.8,645.1 562.0,645.9 562.2,641.0 562.4,646.2 562.6,639.3 562.8,644.4 563.0,645.3 563.2,642.4 563.4,643.2 563.6,641.9 563.8,645.4 564.0,636.7 564.2,641.2 564.4,639.1 564.6,643.5 564.7,645.8 564.9,645.5 565.1,644.2 565.3,643.3 565.5,641.0 565.7,645.1 565.9,643.7 566.1,640.5 566.3,639.4 566.5,640.7 566.7,644.2 566.9,644.4 567.1,645.0 567.3,639.8 567.5,640.5 567.7,644.0 567.9,641.4 568.1,642.4 568.3,637.7 568.5,639.6 568.7,640.2 568.9,639.3 569.1,638.9 569.3,636.1 569.5,642.9 569.6,639.5 569.8,635.9 570.0,641.1 570.2,638.7 570.4,639.9 570.6,637.7 570.8,636.2 571.0,636.1 571.2,638.2 571.4,638.9 571.6,638.1 571.8,638.2 572.0,639.1 572.2,636.9 572.4,638.2 572.6,638.2 572.8,636.2 573.0,635.1 573.2,634.1 573.4,632.2 573.6,631.1 573.8,637.1 574.0,634.0 574.2,632.5 574.4,636.9 574.5,635.3 574.7,633.1 574.9,634.9 575.1,632.0 575.3,632.9 575.5,635.9 575.7,633.9 575.9,630.7 576.1,632.6 576.3,633.4 576.5,630.2 576.7,629.3 576.9,634.1 577.1,629.0 577.3,626.5 577.5,629.4 577.7,633.9 577.9,630.0 578.1,630.5 578.3,623.2 578.5,626.6 578.7,630.2 578.9,626.4 579.1,629.9 579.3,627.8 579.4,627.3 579.6,630.0 579.8,624.8 580.0,624.6 580.2,625.6 580.4,625.6 580.6,621.0 580.8,627.3 581.0,624.8 581.2,623.7 581.4,625.2 581.6,622.6 581.8,626.0 582.0,623.2 582.2,624.4 582.4,620.5 582.6,621.6 582.8,622.8 583.0,619.6 583.2,620.0 583.4,621.1 583.6,623.6 583.8,622.5 584.0,622.6 584.2,621.0 584.3,622.2 584.5,623.4 584.7,620.0 584.9,620.4 585.1,620.5 585.3,614.4 585.5,618.5 585.7,619.5 585.9,620.1 586.1,617.4 586.3,620.1 586.5,616.2 586.7,617.1 586.9,621.2 587.1,613.9 587.3,616.7 587.5,616.3 587.7,616.2 587.9,615.0 588.1,617.5 588.3,613.3 588.5,612.5 588.7,616.5 588.9,612.4 589.1,615.8 589.2,614.8 589.4,612.9 589.6,613.5 589.8,613.9 590.0,614.9 590.2,612.2 590.4,612.9 590.6,609.9 590.8,612.3 591.0,608.3 591.2,612.4 591.4,611.2 591.6,616.9 591.8,614.8 592.0,611.2 592.2,613.6 592.4,611.8 592.6,608.2 592.8,604.9 593.0,613.0 593.2,611.0 593.4,605.2 593.6,611.1 593.8,611.5 594.0,607.4 594.1,610.6 594.3,604.4 594.5,607.7 594.7,608.0 594.9,609.5 595.1,608.3 595.3,607.6 595.5,608.0 595.7,604.8 595.9,609.6 596.1,604.9 596.3,607.2 596.5,604.9 596.7,604.0 596.9,605.5 597.1,604.8 597.3,606.5 597.5,605.4 597.7,601.1 597.9,603.2 598.1,601.7 598.3,599.1 598.5,597.9 598.7,600.7 598.9,598.3 599.0,595.7 599.2,598.3 599.4,598.6 599.6,597.7 599.8,594.0 600.0,595.0 600.2,599.2 600.4,593.5 600.6,594.0 600.8,599.9 601.0,594.5 601.2,591.8 601.4,587.7 601.6,592.7 601.8,587.9 602.0,590.7 602.2,588.0 602.4,585.4 602.6,593.1 602.8,588.1 603.0,590.1 603.2,589.0 603.4,584.8 603.6,586.2 603.8,584.5 603.9,587.2 604.1,585.3 604.3,582.7 604.5,587.2 604.7,583.7 604.9,583.0 605.1,579.2 605.3,581.7 605.5,576.3 605.7,580.6 605.9,576.5 606.1,578.8 606.3,577.0 606.5,577.7 606.7,577.5 606.9,575.9 607.1,575.3 607.3,571.1 607.5,569.5 607.7,577.1 607.9,574.8 608.1,569.0 608.3,577.1 608.5,569.9 608.7,572.5 608.8,571.8 609.0,570.5 609.2,571.3 609.4,565.7 609.6,568.7 609.8,567.7 610.0,568.1 610.2,566.8 610.4,565.4 610.6,564.7 610.8,568.5 611.0,563.6 611.2,566.4 611.4,566.0 611.6,564.5 611.8,565.5 612.0,565.4 612.2,562.3 612.4,564.3 612.6,568.1 612.8,560.0 613.0,561.8 613.2,560.3 613.4,567.3 613.6,558.2 613.7,561.7 613.9,563.9 614.1,559.0 614.3,560.8 614.5,559.1 614.7,557.3 614.9,560.5 615.1,561.9 615.3,559.5 615.5,560.9 615.7,562.3 615.9,563.6 616.1,557.2 616.3,562.1 616.5,558.9 616.7,555.6 616.9,558.5 617.1,562.3 617.3,561.5 617.5,557.9 617.7,565.1 617.9,562.1 618.1,561.0 618.3,559.9 618.5,562.5 618.6,560.6 618.8,564.7 619.0,562.8 619.2,563.7 619.4,561.5 619.6,558.7 619.8,564.1 620.0,560.3 620.2,562.9 620.4,563.4 620.6,561.6 620.8,566.2 621.0,560.5 621.2,568.3 621.4,563.2 621.6,567.5 621.8,568.7 622.0,563.4 622.2,564.0 622.4,568.6 622.6,567.0 622.8,567.0 623.0,562.4 623.2,563.2 623.4,569.2 623.5,571.8 623.7,566.6 623.9,566.6 624.1,569.7 624.3,570.7 624.5,571.3 624.7,569.1 624.9,565.6 625.1,574.7 625.3,570.0 625.5,574.8 625.7,566.9 625.9,573.3 626.1,571.4 626.3,570.3 626.5,575.9 626.7,577.1 626.9,572.7 627.1,576.2 627.3,572.2 627.5,573.7 627.7,575.0 627.9,575.1 628.1,577.9 628.3,573.6 628.4,579.5 628.6,579.8 628.8,577.2 629.0,575.1 629.2,572.4 629.4,578.6 629.6,577.3 629.8,579.6 630.0,577.1 630.2,580.0 630.4,580.2 630.6,580.7 630.8,581.8 631.0,582.1 631.2,584.2 631.4,580.2 631.6,584.3 631.8,583.3 632.0,582.3 632.2,581.2 632.4,587.7 632.6,585.1 632.8,583.7 633.0,585.5 633.2,585.8 633.3,584.9 633.5,583.3 633.7,587.5 633.9,587.2 634.1,587.3 634.3,590.9 634.5,585.7 634.7,587.1 634.9,590.3 635.1,592.4 635.3,592.3 635.5,593.1 635.7,586.4 635.9,593.4 636.1,593.7 636.3,594.9 636.5,592.0 636.7,595.4 636.9,597.1 637.1,599.0 637.3,596.3 637.5,593.0 637.7,596.8 637.9,598.7 638.1,598.9 638.2,602.7 638.4,598.2 638.6,596.7 638.8,598.1 639.0,601.7 639.2,598.7 639.4,598.6 639.6,599.6 639.8,604.9 640.0,603.1 640.2,602.2 640.4,605.5 640.6,605.6 640.8,602.2 641.0,606.9 641.2,606.0 641.4,601.0 641.6,603.5 641.8,607.4 642.0,608.4 642.2,607.0 642.4,605.8 642.6,609.1 642.8,604.7 643.0,610.7 643.1,609.5 643.3,610.2 643.5,609.1 643.7,613.0 643.9,606.1 644.1,609.8 644.3,613.6 644.5,611.0 644.7,616.4 644.9,614.3 645.1,611.9 645.3,616.6 645.5,614.2 645.7,616.1 645.9,613.6 646.1,614.0 646.3,617.3 646.5,616.2 646.7,614.5 646.9,614.5 647.1,618.3 647.3,621.1 647.5,615.4 647.7,619.1 647.9,611.2 648.0,614.9 648.2,619.8 648.4,622.0 648.6,618.7 648.8,620.0 649.0,619.5 649.2,621.4 649.4,616.8 649.6,620.8 649.8,618.5 650.0,618.9 650.2,619.8 650.4,619.5 650.6,618.4 650.8,619.7 651.0,618.2 651.2,623.9 651.4,622.2 651.6,619.9 651.8,624.5 652.0,623.9 652.2,622.3 652.4,620.1 652.6,622.0 652.8,622.8 652.9,624.8 653.1,621.4 653.3,620.6 653.5,627.2 653.7,625.3 653.9,623.0 654.1,620.3 654.3,623.6 654.5,625.1 654.7,624.4 654.9,624.7 655.1,623.0 655.3,625.6 655.5,621.8 655.7,622.2 655.9,622.2 656.1,622.0 656.3,627.9 656.5,619.8 656.7,624.2 656.9,621.6 657.1,621.1 657.3,624.2 657.5,620.6 657.7,624.0 657.8,629.4 658.0,624.1 658.2,625.4 658.4,622.6 658.6,625.7 658.8,621.3 659.0,625.2 659.2,624.5 659.4,629.7 659.6,624.8 659.8,624.2 660.0,623.9 660.2,622.5 660.4,627.0 660.6,628.6 660.8,624.6 661.0,627.0 661.2,624.7 661.4,626.5 661.6,626.7 661.8,622.5 662.0,624.1 662.2,627.9 662.4,621.7 662.6,626.0 662.7,625.3 662.9,624.0 663.1,626.3 663.3,626.9 663.5,627.5 663.7,620.5 663.9,630.1 664.1,625.4 664.3,628.8 664.5,626.3 664.7,625.3 664.9,626.5 665.1,633.8 665.3,630.3 665.5,626.1 665.7,627.4 665.9,629.4 666.1,628.3 666.3,627.2 666.5,626.7 666.7,624.7 666.9,628.8 667.1,629.7 667.3,632.2 667.5,626.1 667.6,628.8 667.8,627.3 668.0,630.2 668.2,627.2 668.4,626.1 668.6,623.8 668.8,629.2 669.0,628.0 669.2,630.2 669.4,626.5 669.6,633.5 669.8,626.2 670.0,628.9 670.2,628.8 670.4,630.3 670.6,627.5 670.8,625.9 671.0,625.8 671.2,629.8 671.4,628.3 671.6,628.8 671.8,626.3 672.0,628.4 672.2,628.6 672.4,629.6 672.5,625.0 672.7,626.5 672.9,632.1 673.1,627.4 673.3,628.2 673.5,627.5 673.7,625.1 673.9,626.0 674.1,629.3 674.3,627.0 674.5,633.1 674.7,625.2 674.9,624.3 675.1,627.8 675.3,626.0 675.5,631.8 675.7,627.8 675.9,629.9 676.1,625.6 676.3,630.3 676.5,630.3 676.7,631.6 676.9,629.4 677.1,630.1 677.3,629.4 677.4,631.1 677.6,628.1 677.8,630.3 678.0,627.9 678.2,630.7 678.4,628.6 678.6,627.8 678.8,627.8 679.0,632.6 679.2,625.9 679.4,626.1 679.6,630.8 679.8,627.3 680.0,628.5 680.2,628.5 680.4,634.7 680.6,628.2 680.8,628.1 681.0,628.9 681.2,630.3 681.4,631.0 681.6,626.6 681.8,630.9 682.0,634.3 682.2,626.1 682.3,631.4 682.5,631.9 682.7,630.6 682.9,629.9 683.1,625.1 683.3,633.1 683.5,629.7 683.7,630.1 683.9,633.3 684.1,625.5 684.3,630.6 684.5,632.1 684.7,632.4 684.9,632.2 685.1,635.5 685.3,631.7 685.5,633.3 685.7,632.9 685.9,628.0 686.1,629.6 686.3,636.0 686.5,630.8 686.7,631.4 686.9,628.7 687.1,630.9 687.2,628.8 687.4,630.4 687.6,633.1 687.8,630.1 688.0,630.6 688.2,635.0 688.4,633.1 688.6,633.3 688.8,634.4 689.0,631.1 689.2,631.5 689.4,627.9 689.6,634.1 689.8,632.1 690.0,632.6 690.2,630.3 690.4,634.1 690.6,634.2 690.8,633.3 691.0,629.5 691.2,631.2 691.4,633.0 691.6,631.3 691.8,634.0 692.0,635.5 692.1,631.7 692.3,633.0 692.5,631.9 692.7,635.7 692.9,635.5 693.1,639.4 693.3,633.7 693.5,631.7 693.7,634.7 693.9,633.3 694.1,634.3 694.3,636.6 694.5,633.3 694.7,635.6 694.9,629.4 695.1,636.4 695.3,634.4 695.5,633.6 695.7,633.1 695.9,637.3 696.1,633.2 696.3,637.1 696.5,633.3 696.7,634.5 696.9,635.2 697.0,638.9 697.2,635.0 697.4,635.0 697.6,634.4 697.8,633.9 698.0,633.3 698.2,638.6 698.4,637.8 698.6,633.1 698.8,635.0 699.0,632.1 699.2,636.7 699.4,636.2 699.6,634.9 699.8,632.9 700.0,636.4 700.2,636.1 700.4,634.3 700.6,636.3 700.8,631.8 701.0,633.4 701.2,632.6 701.4,635.0 701.6,638.4 701.8,634.8 701.9,637.2 702.1,634.7 702.3,633.8 702.5,636.9 702.7,635.9 702.9,637.8 703.1,636.8 703.3,632.9 703.5,629.2 703.7,635.0 703.9,632.2 704.1,631.6 704.3,631.5 704.5,633.3 704.7,634.3 704.9,634.7 705.1,639.2 705.3,632.1 705.5,634.7 705.7,632.0 705.9,632.5 706.1,634.9 706.3,635.6 706.5,631.9 706.7,637.2 706.8,632.7 707.0,636.8 707.2,634.6 707.4,636.7 707.6,636.0 707.8,634.1 708.0,635.8 708.2,631.8 708.4,631.9 708.6,633.9 708.8,637.7 709.0,633.1 709.2,633.4 709.4,638.4 709.6,634.8 709.8,634.7 710.0,632.4 710.2,634.8 710.4,636.0 710.6,634.6 710.8,636.4 711.0,635.4 711.2,637.0 711.4,636.5 711.6,634.4 711.7,636.6 711.9,638.7 712.1,635.4 712.3,632.1 712.5,635.1 712.7,634.3 712.9,640.4 713.1,636.4 713.3,632.3 713.5,634.3 713.7,637.9 713.9,632.2 714.1,633.6 714.3,634.7 714.5,634.4 714.7,633.4 714.9,635.0 715.1,631.6 715.3,633.4 715.5,633.4 715.7,634.0 715.9,634.0 716.1,634.7 716.3,633.9 716.5,633.8 716.6,635.5 716.8,636.7 717.0,636.8 717.2,632.2 717.4,635.2 717.6,636.3 717.8,634.1 718.0,635.7 718.2,634.2 718.4,635.5 718.6,631.4 718.8,635.7 719.0,633.6 719.2,633.1 719.4,634.0 719.6,636.8 719.8,636.7 720.0,635.2 720.2,636.6 720.4,633.8 720.6,632.0 720.8,630.6 721.0,634.6 721.2,634.4 721.4,634.8 721.5,634.9 721.7,637.4 721.9,632.7 722.1,633.1 722.3,638.9 722.5,636.5 722.7,634.1 722.9,630.4 723.1,633.0 723.3,634.0 723.5,634.7 723.7,635.3 723.9,634.4 724.1,637.4 724.3,632.3 724.5,634.3 724.7,633.5 724.9,636.7 725.1,635.4 725.3,636.7 725.5,635.2 725.7,643.2 725.9,636.6 726.1,633.5 726.3,635.1 726.4,634.3 726.6,636.8 726.8,637.3 727.0,636.1 727.2,634.9 727.4,633.8 727.6,638.8 727.8,637.8 728.0,629.0 728.2,635.6 728.4,633.6 728.6,634.7 728.8,639.2 729.0,633.1 729.2,633.3 729.4,641.0 729.6,634.6 729.8,635.2 730.0,638.2 730.2,634.6 730.4,635.9 730.6,636.4 730.8,638.9 731.0,632.4 731.2,634.1 731.3,635.7 731.5,638.0 731.7,634.6 731.9,637.1 732.1,635.0 732.3,635.3 732.5,638.9 732.7,635.7 732.9,642.7 733.1,637.0 733.3,638.7 733.5,637.9 733.7,633.0 733.9,633.1 734.1,637.5 734.3,634.1 734.5,635.3 734.7,635.8 734.9,634.6 735.1,639.2 735.3,638.3 735.5,637.0 735.7,637.9 735.9,634.7 736.1,638.6 736.2,634.9 736.4,640.2 736.6,635.4 736.8,635.7 737.0,639.4 737.2,638.3 737.4,634.9 737.6,638.3 737.8,637.0 738.0,637.1 738.2,638.4 738.4,638.4 738.6,639.3 738.8,638.2 739.0,637.9 739.2,637.0 739.4,640.4 739.6,635.5 739.8,641.4 740.0,642.0 740.2,642.0 740.4,637.0 740.6,641.9 740.8,639.8 741.0,639.7 741.1,644.5 741.3,637.8 741.5,638.7 741.7,634.7 741.9,632.6 742.1,638.1 742.3,638.4 742.5,639.0 742.7,638.2 742.9,633.2 743.1,638.3 743.3,640.0 743.5,640.9 743.7,635.5 743.9,635.6 744.1,636.1 744.3,636.2 744.5,634.1 744.7,636.1 744.9,641.0 745.1,635.3 745.3,633.5 745.5,636.9 745.7,636.4 745.9,639.0 746.0,635.9 746.2,637.1 746.4,635.6 746.6,635.3 746.8,638.1 747.0,637.6 747.2,637.1 747.4,638.3 747.6,635.3 747.8,637.1 748.0,637.4 748.2,639.5 748.4,632.8 748.6,636.0 748.8,637.7 749.0,635.4 749.2,636.7 749.4,637.9 749.6,637.4 749.8,632.5 750.0,633.5 750.2,629.9 750.4,637.4 750.6,636.3 750.8,638.7 750.9,635.7 751.1,633.0 751.3,637.7 751.5,632.4 751.7,635.1 751.9,634.5 752.1,636.5 752.3,636.7 752.5,633.7 752.7,632.8 752.9,634.2 753.1,632.9 753.3,636.1 753.5,634.7 753.7,636.8 753.9,639.3 754.1,631.5 754.3,631.9 754.5,634.2 754.7,633.8 754.9,632.0 755.1,628.9 755.3,638.1 755.5,632.5 755.7,629.6 755.8,626.7 756.0,634.9 756.2,632.4 756.4,631.5 756.6,629.0 756.8,630.9 757.0,630.1 757.2,625.3 757.4,636.6 757.6,631.4 757.8,629.5 758.0,628.0 758.2,628.6 758.4,635.2 758.6,630.5 758.8,626.4 759.0,631.2 759.2,630.2 759.4,630.1 759.6,628.4 759.8,628.2 760.0,628.9 760.2,627.7 760.4,624.9 760.6,625.6 760.7,627.6 760.9,623.8 761.1,626.9 761.3,626.2 761.5,628.3 761.7,626.8 761.9,625.5 762.1,625.2 762.3,626.5 762.5,627.4 762.7,622.5 762.9,621.1 763.1,622.6 763.3,618.7 763.5,621.8 763.7,625.2 763.9,625.1 764.1,626.1 764.3,622.3 764.5,622.1 764.7,620.0 764.9,619.8 765.1,621.3 765.3,622.3 765.5,620.8 765.6,614.7 765.8,620.1 766.0,618.6 766.2,616.7 766.4,618.0 766.6,619.3 766.8,617.1 767.0,614.7 767.2,623.8 767.4,614.0 767.6,616.1 767.8,617.5 768.0,612.1 768.2,615.0 768.4,611.2 768.6,612.1 768.8,610.5 769.0,616.0 769.2,608.1 769.4,612.1 769.6,610.5 769.8,605.3 770.0,613.7 770.2,607.7 770.4,608.0 770.5,608.7 770.7,605.6 770.9,605.4 771.1,606.7 771.3,604.3 771.5,606.2 771.7,608.5 771.9,602.6 772.1,600.8 772.3,603.9 772.5,604.7 772.7,605.0 772.9,600.3 773.1,596.8 773.3,604.2 773.5,603.4 773.7,605.0 773.9,598.6 774.1,601.9 774.3,602.6 774.5,595.3 774.7,602.0 774.9,602.5 775.1,600.1 775.3,599.7 775.4,599.8 775.6,597.0 775.8,593.9 776.0,594.8 776.2,596.3 776.4,594.4 776.6,598.7 776.8,594.9 777.0,595.4 777.2,591.0 777.4,596.1 777.6,593.2 777.8,598.4 778.0,590.2 778.2,595.1 778.4,593.1 778.6,593.0 778.8,597.9 779.0,596.0 779.2,591.4 779.4,596.8 779.6,591.6 779.8,595.1 780.0,588.8 780.2,592.2 780.3,592.2 780.5,592.1 780.7,588.9 780.9,588.2 781.1,592.8 781.3,594.3 781.5,592.9 781.7,592.1 781.9,589.2 782.1,592.3 782.3,591.7 782.5,591.3 782.7,593.6 782.9,593.7 783.1,594.4 783.3,592.9 783.5,591.6 783.7,593.2 783.9,593.1 784.1,590.0 784.3,593.3 784.5,590.2 784.7,589.6 784.9,592.6 785.1,593.2 785.2,596.7 785.4,594.4 785.6,596.6 785.8,599.1 786.0,596.0 786.2,596.9 786.4,594.5 786.6,598.4 786.8,596.8 787.0,597.0 787.2,594.4 787.4,595.1 787.6,596.0 787.8,598.1 788.0,600.8 788.2,594.7 788.4,597.8 788.6,598.2 788.8,604.7 789.0,599.0 789.2,598.5 789.4,601.9 789.6,597.7 789.8,602.0 790.0,597.0 790.1,606.2 790.3,601.5 790.5,600.9 790.7,599.1 790.9,602.2 791.1,603.1 791.3,601.4 791.5,606.4 791.7,603.0 791.9,604.4 792.1,605.2 792.3,608.0 792.5,604.2 792.7,605.6 792.9,606.5 793.1,607.6 793.3,602.1 793.5,609.5 793.7,606.8 793.9,605.8 794.1,607.7 794.3,603.6 794.5,606.6 794.7,609.2 794.9,612.3 795.0,609.3 795.2,610.7 795.4,609.4 795.6,612.5 795.8,609.8 796.0,612.2 796.2,610.6 796.4,609.4 796.6,609.7 796.8,610.8 797.0,615.4 797.2,620.4 797.4,612.8 797.6,611.9 797.8,615.1 798.0,615.3 798.2,613.2 798.4,619.2 798.6,617.1 798.8,617.5 799.0,615.7 799.2,616.2 799.4,618.4 799.6,613.2 799.8,614.8 799.9,617.1 800.1,613.8 800.3,621.2 800.5,616.2 800.7,616.9 800.9,618.9 801.1,621.9 801.3,618.6 801.5,617.2 801.7,617.1 801.9,620.1 802.1,618.5 802.3,625.5 802.5,623.2 802.7,613.4 802.9,618.8 803.1,622.0 803.3,626.7 803.5,617.2 803.7,621.0 803.9,625.1 804.1,621.0 804.3,623.1 804.5,622.1 804.7,625.0 804.8,621.3 805.0,624.1 805.2,621.1 805.4,626.9 805.6,626.3 805.8,625.2 806.0,625.6 806.2,625.9 806.4,625.3 806.6,626.8 806.8,627.6 807.0,626.9 807.2,626.1 807.4,626.8 807.6,627.0 807.8,629.3 808.0,629.0 808.2,633.3 808.4,628.9 808.6,629.7 808.8,628.5 809.0,630.4 809.2,629.5 809.4,628.9 809.6,631.5 809.7,634.9 809.9,629.8 810.1,630.6 810.3,632.3 810.5,633.2 810.7,635.8 810.9,631.9 811.1,633.3 811.3,632.2 811.5,632.3 811.7,633.5 811.9,632.4 812.1,636.1 812.3,637.7 812.5,634.6 812.7,634.5 812.9,639.2 813.1,636.2 813.3,640.2 813.5,631.0 813.7,637.2 813.9,635.7 814.1,637.0 814.3,640.2 814.5,641.1 814.6,638.7 814.8,641.4 815.0,637.2 815.2,640.5 815.4,639.9 815.6,636.9 815.8,642.7 816.0,639.7 816.2,642.3 816.4,640.1 816.6,642.3 816.8,643.6 817.0,642.5 817.2,641.8 817.4,644.4 817.6,643.8 817.8,642.8 818.0,644.0 818.2,644.0 818.4,643.7 818.6,646.6 818.8,648.7 819.0,644.2 819.2,645.3 819.4,643.8 819.5,643.2 819.7,648.7 819.9,645.1 820.1,647.5 820.3,644.2 820.5,646.0 820.7,648.5 820.9,648.8 821.1,648.5 821.3,649.1 821.5,648.9 821.7,650.8 821.9,652.4 822.1,650.3 822.3,649.1 822.5,647.4 822.7,648.8 822.9,649.3 823.1,653.2 823.3,647.2 823.5,649.0 823.7,648.7 823.9,652.8 824.1,649.7 824.3,647.6 824.4,647.3 824.6,652.3 824.8,648.5 825.0,654.3 825.2,654.4 825.4,650.1 825.6,651.8 825.8,652.7 826.0,649.8 826.2,650.5 826.4,651.8 826.6,653.2 826.8,653.9 827.0,649.7 827.2,654.1 827.4,653.5 827.6,653.3 827.8,653.1 828.0,656.2 828.2,657.4 828.4,653.4 828.6,654.1 828.8,651.3 829.0,653.8 829.2,656.1 829.3,654.5 829.5,655.5 829.7,654.7 829.9,655.2 830.1,656.4 830.3,656.6 830.5,651.2 830.7,654.8 830.9,649.4 831.1,655.4 831.3,654.3 831.5,654.3 831.7,658.7 831.9,656.3 832.1,657.9 832.3,657.0 832.5,659.2 832.7,655.3 832.9,655.4 833.1,655.8 833.3,660.9 833.5,655.2 833.7,656.2 833.9,658.9 834.1,658.1 834.2,655.3 834.4,659.8 834.6,657.4 834.8,659.4 835.0,657.7 835.2,658.1 835.4,655.1 835.6,659.5 835.8,655.3 836.0,656.9 836.2,659.0 836.4,656.2 836.6,657.1 836.8,657.0 837.0,657.3 837.2,658.2 837.4,654.1 837.6,656.1 837.8,661.3 838.0,653.3 838.2,656.0 838.4,658.9 838.6,653.7 838.8,655.7 839.0,655.8 839.1,660.6 839.3,655.8 839.5,658.8 839.7,656.4 839.9,657.7 840.1,655.4 840.3,654.8 840.5,656.9 840.7,655.1 840.9,657.5 841.1,658.2 841.3,658.8 841.5,661.1 841.7,660.9 841.9,655.9 842.1,656.6 842.3,661.5 842.5,658.1 842.7,657.5 842.9,660.4 843.1,657.1 843.3,660.2 843.5,657.8 843.7,661.0 843.9,658.2 844.0,660.2 844.2,660.7 844.4,661.8 844.6,657.0 844.8,657.9 845.0,655.9 845.2,655.3 845.4,657.8 845.6,659.1 845.8,661.3 846.0,658.1 846.2,662.7 846.4,659.3 846.6,660.7 846.8,658.5 847.0,656.5 847.2,662.2 847.4,658.5 847.6,661.4 847.8,658.5 848.0,660.4 848.2,658.9 848.4,658.6 848.6,659.0 848.8,660.7 848.9,657.0 849.1,657.5 849.3,661.4 849.5,658.0 849.7,659.9 849.9,656.9 850.1,659.1 850.3,661.8 850.5,659.8 850.7,660.1 850.9,658.9 851.1,659.9 851.3,656.2 851.5,656.5 851.7,660.6 851.9,656.3 852.1,662.4 852.3,661.6 852.5,657.5 852.7,655.6 852.9,655.1 853.1,660.6 853.3,659.8 853.5,662.7 853.7,661.0 853.8,663.2 854.0,661.9 854.2,658.3 854.4,659.8 854.6,658.5 854.8,659.6 855.0,659.2 855.2,659.8 855.4,663.0 855.6,659.2 855.8,658.0 856.0,659.1 856.2,659.4 856.4,659.3 856.6,660.1 856.8,659.6 857.0,662.7 857.2,662.3 857.4,659.0 857.6,662.5 857.8,663.4 858.0,660.6 858.2,659.0 858.4,661.6 858.6,660.6 858.7,661.4 858.9,658.7 859.1,664.9 859.3,660.4 859.5,661.9 859.7,659.7 859.9,661.2 860.1,656.4 860.3,658.4 860.5,656.1 860.7,663.0 860.9,658.3 861.1,658.0 861.3,663.3 861.5,660.1 861.7,660.8 861.9,663.3 862.1,662.2 862.3,661.8 862.5,662.5 862.7,657.4 862.9,663.8 863.1,663.9 863.3,665.0 863.5,657.2 863.6,659.7 863.8,660.3 864.0,664.8 864.2,662.6 864.4,665.0 864.6,662.4 864.8,660.3 865.0,659.0 865.2,660.4 865.4,664.3 865.6,659.9 865.8,658.1 866.0,662.2 866.2,664.4 866.4,666.5 866.6,664.2 866.8,663.6 867.0,658.2 867.2,661.0 867.4,661.1 867.6,662.1 867.8,660.0 868.0,663.4 868.2,664.3 868.4,662.1 868.5,661.3 868.7,662.3 868.9,662.7 869.1,663.5 869.3,660.3 869.5,664.9 869.7,662.1 869.9,661.7 870.1,663.4 870.3,660.7 870.5,663.8 870.7,666.4 870.9,663.0 871.1,662.6 871.3,661.2 871.5,665.1 871.7,664.5 871.9,659.3 872.1,664.2 872.3,661.0 872.5,660.0 872.7,662.2 872.9,661.0 873.1,664.6 873.3,659.9 873.4,659.8 873.6,660.5 873.8,662.1 874.0,663.6 874.2,660.3 874.4,661.1 874.6,659.4 874.8,662.1 875.0,660.5 875.2,666.8 875.4,666.4 875.6,660.8 875.8,662.9 876.0,663.5 876.2,661.6 876.4,661.9 876.6,664.0 876.8,662.2 877.0,662.1 877.2,662.7 877.4,665.2 877.6,662.3 877.8,663.6 878.0,663.3 878.2,664.3 878.3,662.5 878.5,661.9 878.7,661.6 878.9,663.4 879.1,663.2 879.3,662.5 879.5,663.5 879.7,667.7 879.9,664.6 880.1,659.5 880.3,665.6 880.5,663.4 880.7,661.2 880.9,665.8 881.1,663.0 881.3,665.2 881.5,662.0 881.7,665.3 881.9,662.7 882.1,665.2 882.3,664.9 882.5,661.1 882.7,664.1 882.9,664.3 883.1,663.3 883.2,659.9 883.4,664.0 883.6,662.8 883.8,665.8 884.0,661.4 884.2,665.4 884.4,663.8 884.6,668.5 884.8,661.6 885.0,665.4 885.2,662.6 885.4,661.8 885.6,665.7 885.8,664.8 886.0,665.7 886.2,660.6 886.4,661.4 886.6,664.9 886.8,662.1 887.0,666.4 887.2,667.1 887.4,663.6 887.6,663.9 887.8,663.9 888.0,663.3 888.1,663.8 888.3,663.5 888.5,664.8 888.7,663.3 888.9,663.0 889.1,663.4 889.3,662.8 889.5,663.9 889.7,665.1 889.9,668.1 890.1,660.9 890.3,661.4 890.5,664.0 890.7,664.2 890.9,664.1 891.1,667.8 891.3,660.6 891.5,663.9 891.7,661.8 891.9,663.7 892.1,665.3 892.3,661.5 892.5,666.3 892.7,662.7 892.9,662.3 893.0,661.2 893.2,663.0 893.4,662.9 893.6,666.0 893.8,661.4 894.0,664.9 894.2,666.1 894.4,664.0 894.6,666.0 894.8,663.2 895.0,665.3 895.2,663.9 895.4,668.7 895.6,664.0 895.8,664.0 896.0,665.4 896.2,663.6 896.4,664.3 896.6,665.3 896.8,666.4 897.0,663.5 897.2,664.8 897.4,664.4 897.6,666.1 897.8,666.3 897.9,665.5 898.1,665.3 898.3,668.3 898.5,663.1 898.7,668.0 898.9,665.9 899.1,661.9 899.3,665.1 899.5,662.1 899.7,664.7 899.9,661.0 900.1,666.3 900.3,663.4 900.5,668.2 900.7,663.6 900.9,665.1 901.1,662.4 901.3,664.8 901.5,665.1 901.7,666.0 901.9,669.9 902.1,668.3 902.3,666.6 902.5,664.5 902.7,664.6 902.8,664.5 903.0,663.5 903.2,666.5 903.4,665.1 903.6,666.2 903.8,664.8 904.0,666.0 904.2,668.7 904.4,666.0 904.6,667.1 904.8,663.7 905.0,665.1 905.2,664.6 905.4,666.4 905.6,666.0 905.8,664.1 906.0,666.1 906.2,665.7 906.4,662.4 906.6,665.4 906.8,667.8 907.0,663.8 907.2,667.7 907.4,666.9 907.6,665.9 907.7,666.5 907.9,664.1 908.1,667.0 908.3,662.9 908.5,663.5 908.7,666.7 908.9,663.6 909.1,669.6 909.3,666.4 909.5,667.5 909.7,667.6 909.9,665.0 910.1,665.8 910.3,666.7 910.5,665.8 910.7,668.9 910.9,667.8 911.1,666.3 911.3,668.3 911.5,666.0 911.7,667.4 911.9,666.2 912.1,665.4 912.3,664.1 912.5,664.6 912.6,666.1 912.8,666.8 913.0,661.8 913.2,665.2 913.4,667.1 913.6,665.7 913.8,663.9 914.0,664.0 914.2,669.3 914.4,662.9 914.6,665.4 914.8,667.6 915.0,662.2 915.2,667.3 915.4,663.1 915.6,668.0 915.8,671.2 916.0,663.7 916.2,666.0 916.4,666.8 916.6,665.0 916.8,667.2 917.0,664.8 917.2,665.1 917.4,664.6 917.5,666.1 917.7,667.1 917.9,668.1 918.1,666.0 918.3,664.2 918.5,665.3 918.7,665.3 918.9,665.5 919.1,667.4 919.3,666.0 919.5,666.5 919.7,666.4 919.9,666.1 920.1,665.4 920.3,667.7 920.5,666.2 920.7,666.1 920.9,664.2 921.1,665.0 921.3,665.2 921.5,667.5 921.7,663.0 921.9,667.8 922.1,666.6 922.3,665.0 922.4,664.8 922.6,667.4 922.8,666.8 923.0,662.6 923.2,665.1 923.4,664.7 923.6,666.3 923.8,665.2 924.0,667.3 924.2,665.5 924.4,665.9 924.6,668.9 924.8,666.0 925.0,665.5 925.2,666.6 925.4,664.0 925.6,663.4 925.8,666.5 926.0,665.4 926.2,663.8 926.4,668.3 926.6,667.9 926.8,667.0 927.0,665.5 927.2,666.2 927.3,665.4 927.5,668.2 927.7,663.8 927.9,667.1 928.1,666.6 928.3,664.4 928.5,667.8 928.7,665.9 928.9,670.2 929.1,668.9 929.3,666.5 929.5,665.9 929.7,665.3 929.9,665.2 930.1,667.2 930.3,663.9 930.5,668.5 930.7,668.0 930.9,666.4 931.1,668.1 931.3,671.1 931.5,667.2 931.7,669.9 931.9,666.1 932.1,665.5 932.2,668.6 932.4,663.0 932.6,668.5 932.8,666.6 933.0,665.7 933.2,666.8 933.4,666.9 933.6,669.0 933.8,668.3 934.0,667.0 934.2,666.2 934.4,664.8 934.6,667.0 934.8,661.7 935.0,668.5 935.2,666.6 935.4,663.4 935.6,667.7 935.8,664.9 936.0,665.7 936.2,663.2 936.4,665.2 936.6,666.9 936.8,666.4 937.0,667.2 937.1,665.2 937.3,667.7 937.5,663.7 937.7,665.5 937.9,661.5 938.1,666.0 938.3,665.5 938.5,666.2 938.7,667.6 938.9,669.1 939.1,664.3 939.3,666.1 939.5,662.7 939.7,670.0 939.9,669.0 940.1,667.4 940.3,668.8 940.5,668.1 940.7,665.3 940.9,667.9 941.1,668.7 941.3,668.0 941.5,666.3 941.7,665.7 941.9,671.0 942.0,667.0 942.2,667.5 942.4,663.7 942.6,667.7 942.8,666.9 943.0,664.8 943.2,668.9 943.4,666.4 943.6,667.6 943.8,667.3 944.0,665.0 944.2,666.9 944.4,669.0 944.6,664.2 944.8,664.3 945.0,664.6 945.2,667.7 945.4,665.4 945.6,666.9 945.8,668.5 946.0,664.1 946.2,669.1 946.4,666.3 946.6,665.9 946.8,669.2 946.9,667.1 947.1,663.7 947.3,666.1 947.5,664.7 947.7,666.7 947.9,665.3 948.1,665.5 948.3,668.0 948.5,662.9 948.7,666.7 948.9,665.7 949.1,666.7 949.3,661.5 949.5,664.3 949.7,665.3 949.9,669.3 950.1,663.6 950.3,663.9 950.5,665.7 950.7,666.6 950.9,664.8 951.1,666.2 951.3,662.8 951.5,669.3 951.7,665.3 951.8,666.2 952.0,671.2 952.2,664.9 952.4,663.5 952.6,664.0 952.8,669.1 953.0,665.5 953.2,664.4 953.4,665.8 953.6,665.8 953.8,667.8 954.0,667.2 954.2,666.6 954.4,666.8 954.6,664.3 954.8,663.4 955.0,666.6 955.2,666.8 955.4,666.1 955.6,666.3 955.8,667.0 956.0,663.5 956.2,665.1 956.4,664.0 956.6,662.1 956.7,666.7 956.9,665.2 957.1,666.5 957.3,666.9 957.5,663.9 957.7,668.6 957.9,666.2 958.1,667.6 958.3,668.9 958.5,664.7 958.7,664.4 958.9,665.9 959.1,667.7 959.3,667.8 959.5,661.7 959.7,668.3 959.9,664.6 960.1,666.4 960.3,662.9 960.5,663.8 960.7,666.2 960.9,662.0 961.1,667.0 961.3,664.4 961.5,666.0 961.6,665.7 961.8,664.3 962.0,667.9 962.2,669.9 962.4,666.6 962.6,662.0 962.8,665.6 963.0,664.9 963.2,667.1 963.4,665.4 963.6,669.5 963.8,666.6 964.0,666.5 964.2,664.6 964.4,663.6 964.6,665.1 964.8,665.6 965.0,666.2 965.2,665.6 965.4,664.7 965.6,665.3 965.8,664.3 966.0,663.3 966.2,663.5 966.4,666.1 966.5,666.6 966.7,664.7 966.9,664.9 967.1,666.2 967.3,664.9 967.5,671.2 967.7,665.4 967.9,664.1 968.1,661.6 968.3,665.5 968.5,667.1 968.7,665.0 968.9,667.5 969.1,663.9 969.3,664.9 969.5,664.7 969.7,663.6 969.9,662.2 970.1,663.2 970.3,661.3 970.5,666.5 970.7,664.7 970.9,664.8 971.1,663.9 971.3,666.8 971.4,663.4 971.6,668.3 971.8,667.1 972.0,663.6 972.2,664.6 972.4,666.2 972.6,667.4 972.8,663.4 973.0,664.0 973.2,669.8 973.4,666.7 973.6,666.7 973.8,668.7 974.0,665.8 974.2,664.0 974.4,661.6 974.6,666.6 974.8,662.7 975.0,666.2 975.2,661.1 975.4,664.0 975.6,664.8 975.8,662.4 976.0,663.8 976.2,663.3 976.3,665.1 976.5,662.4 976.7,664.3 976.9,667.5 977.1,667.6 977.3,668.5 977.5,665.6 977.7,664.0 977.9,665.5 978.1,666.2 978.3,665.4 978.5,667.6 978.7,663.5 978.9,664.4 979.1,661.8 979.3,664.0 979.5,667.2 979.7,664.9 979.9,666.2 980.1,665.6 980.3,666.6 980.5,663.1 980.7,665.8 980.9,666.1 981.1,667.0 981.2,667.5 981.4,663.8 981.6,662.0 981.8,663.5 982.0,667.3 982.2,662.8 982.4,662.1 982.6,662.2 982.8,662.2 983.0,666.1 983.2,663.2 983.4,663.5 983.6,666.9 983.8,666.5 984.0,666.4 984.2,663.2 984.4,661.4 984.6,665.4 984.8,668.1 985.0,664.0 985.2,664.1 985.4,658.4 985.6,668.0 985.8,664.3 986.0,661.3 986.1,664.5 986.3,663.5 986.5,665.9 986.7,668.8 986.9,663.1 987.1,664.9 987.3,663.9 987.5,663.3 987.7,665.5 987.9,667.6 988.1,665.5 988.3,663.8 988.5,665.6 988.7,665.1 988.9,666.2 989.1,663.5 989.3,664.9 989.5,667.8 989.7,664.6 989.9,666.5 990.1,664.6 990.3,664.7 990.5,663.1 990.7,670.1 990.9,666.9 991.0,666.8 991.2,666.8 991.4,662.6 991.6,663.1 991.8,664.2 992.0,661.3 992.2,662.8 992.4,666.1 992.6,660.4 992.8,662.8 993.0,664.3 993.2,664.3 993.4,664.4 993.6,663.0 993.8,666.2 994.0,659.9 994.2,665.3 994.4,661.5 994.6,663.0 994.8,664.3 995.0,667.6 995.2,662.7 995.4,661.6 995.6,666.3 995.8,664.3 995.9,664.4 996.1,665.5 996.3,666.4 996.5,664.7 996.7,660.3 996.9,664.0 997.1,664.4 997.3,662.1 997.5,662.4 997.7,665.6 997.9,664.8 998.1,662.6 998.3,665.5 998.5,664.6 998.7,661.8 998.9,663.8 999.1,661.8 999.3,662.6 999.5,664.9 999.7,661.9 999.9,661.9 1000.1,665.0 1000.3,662.3 1000.5,663.8 1000.7,663.8 1000.8,664.0 1001.0,665.0 1001.2,663.4 1001.4,662.7 1001.6,663.3 1001.8,666.5 1002.0,666.0 1002.2,664.1 1002.4,666.6 1002.6,665.6 1002.8,662.1 1003.0,667.1 1003.2,669.7 1003.4,664.9 1003.6,661.0 1003.8,667.1 1004.0,665.3 1004.2,663.9 1004.4,660.2 1004.6,663.9 1004.8,663.5 1005.0,663.5 1005.2,663.3 1005.4,666.0 1005.6,663.3 1005.7,664.9 1005.9,660.4 1006.1,662.1 1006.3,664.0 1006.5,662.3 1006.7,664.1 1006.9,663.9 1007.1,664.4 1007.3,663.3 1007.5,665.2 1007.7,661.3 1007.9,663.2 1008.1,666.9 1008.3,663.1 1008.5,666.9 1008.7,664.6 1008.9,663.4 1009.1,664.0 1009.3,666.9 1009.5,663.2 1009.7,661.6 1009.9,664.7 1010.1,665.1 1010.3,665.4 1010.5,660.7 1010.6,664.4 1010.8,663.8 1011.0,663.1 1011.2,662.6 1011.4,664.4 1011.6,663.4 1011.8,663.4 1012.0,667.4 1012.2,663.5 1012.4,661.1 1012.6,661.5 1012.8,661.8 1013.0,660.1 1013.2,665.4 1013.4,666.8 1013.6,661.9 1013.8,664.9 1014.0,661.6 1014.2,661.7 1014.4,659.6 1014.6,662.9 1014.8,665.4 1015.0,665.4 1015.2,663.9 1015.4,662.3 1015.5,665.2 1015.7,666.2 1015.9,661.2 1016.1,663.2 1016.3,662.5 1016.5,661.3 1016.7,660.2 1016.9,660.9 1017.1,662.7 1017.3,662.9 1017.5,662.7 1017.7,664.9 1017.9,661.0 1018.1,659.8 1018.3,659.9 1018.5,663.0 1018.7,661.1 1018.9,658.8 1019.1,663.9 1019.3,664.8 1019.5,662.3 1019.7,663.2 1019.9,659.1 1020.1,659.0 1020.3,662.1 1020.4,662.1 1020.6,661.3 1020.8,661.1 1021.0,660.4 1021.2,664.4 1021.4,659.8 1021.6,661.2 1021.8,663.5 1022.0,659.4 1022.2,661.6 1022.4,661.0 1022.6,662.4 1022.8,656.4 1023.0,660.5 1023.2,659.5 1023.4,663.2 1023.6,660.9 1023.8,659.8 1024.0,662.7 1024.2,662.1 1024.4,662.8 1024.6,662.9 1024.8,662.2 1025.0,659.5 1025.2,661.2 1025.3,661.2 1025.5,661.3 1025.7,661.2 1025.9,660.6 1026.1,659.6 1026.3,660.2 1026.5,658.4 1026.7,658.5 1026.9,661.7 1027.1,659.5 1027.3,660.3 1027.5,659.0 1027.7,656.8 1027.9,659.2 1028.1,663.2 1028.3,659.7 1028.5,658.5 1028.7,661.2 1028.9,658.8 1029.1,658.5 1029.3,656.6 1029.5,656.3 1029.7,660.4 1029.9,659.9 1030.1,659.6 1030.2,660.9 1030.4,658.5 1030.6,659.5 1030.8,657.7 1031.0,657.6 1031.2,657.8 1031.4,661.2 1031.6,660.6 1031.8,657.2 1032.0,658.5 1032.2,659.4 1032.4,657.5 1032.6,660.4 1032.8,657.5 1033.0,658.3 1033.2,658.3 1033.4,655.2 1033.6,655.4 1033.8,657.1 1034.0,661.2 1034.2,659.9 1034.4,659.7 1034.6,657.5 1034.8,657.8 1035.0,658.8 1035.1,659.2 1035.3,655.6 1035.5,657.2 1035.7,657.0 1035.9,661.2 1036.1,657.4 1036.3,656.9 1036.5,660.1 1036.7,657.6 1036.9,660.3 1037.1,656.5 1037.3,662.1 1037.5,658.2 1037.7,658.6 1037.9,657.8 1038.1,658.2 1038.3,658.3 1038.5,657.6 1038.7,660.7 1038.9,653.7 1039.1,655.8 1039.3,657.5 1039.5,657.9 1039.7,661.1 1039.9,659.3 1040.0,658.2 1040.2,656.6 1040.4,662.1 1040.6,659.9 1040.8,663.2 1041.0,655.2 1041.2,661.6 1041.4,657.9 1041.6,656.4 1041.8,658.4 1042.0,658.4 1042.2,657.5 1042.4,655.2 1042.6,657.4 1042.8,655.6 1043.0,658.3 1043.2,655.4 1043.4,658.6 1043.6,657.3 1043.8,660.0 1044.0,656.6 1044.2,655.4 1044.4,655.3 1044.6,658.7 1044.8,666.0 1044.9,655.4 1045.1,656.9 1045.3,661.2 1045.5,659.4 1045.7,660.7 1045.9,658.8 1046.1,659.1 1046.3,658.2 1046.5,655.9 1046.7,658.6 1046.9,656.2 1047.1,659.4 1047.3,652.7 1047.5,654.0 1047.7,657.8 1047.9,658.3 1048.1,661.8 1048.3,656.5 1048.5,659.4 1048.7,654.5 1048.9,662.9 1049.1,652.9 1049.3,661.1 1049.5,657.4 1049.7,654.5 1049.8,657.0 1050.0,659.9 1050.2,657.8 1050.4,656.4 1050.6,658.4 1050.8,658.1 1051.0,659.9 1051.2,659.5 1051.4,657.2 1051.6,656.6 1051.8,658.2 1052.0,657.8 1052.2,658.7 1052.4,656.1 1052.6,658.4 1052.8,656.6 1053.0,659.3 1053.2,658.8 1053.4,657.7 1053.6,655.1 1053.8,660.5 1054.0,656.6 1054.2,657.4 1054.4,658.2 1054.6,659.2 1054.7,657.3 1054.9,657.3 1055.1,655.5 1055.3,660.5 1055.5,657.5 1055.7,657.5 1055.9,654.3 1056.1,657.3 1056.3,660.3 1056.5,660.7 1056.7,656.5 1056.9,658.7 1057.1,659.9 1057.3,655.8 1057.5,657.9 1057.7,660.1 1057.9,660.9"/>
<path stroke="#f00" d="M82.0,646.6 82.2,645.1 82.4,645.3 82.6,641.0 82.8,649.9 83.0,648.5 83.2,645.4 83.4,647.6 83.6,646.6 83.8,644.8 84.0,648.0 84.2,645.3 84.4,645.2 84.5,644.2 84.7,646.8 84.9,645.6 85.1,647.0 85.3,644.5 85.5,646.0 85.7,643.9 85.9,647.5 86.1,646.1 86.3,646.4 86.5,646.6 86.7,643.5 86.9,647.3 87.1,650.0 87.3,642.2 87.5,642.0 87.7,642.4 87.9,647.4 88.1,645.9 88.3,647.8 88.5,647.1 88.7,646.0 88.9,646.1 89.1,645.2 89.3,647.3 89.4,643.1 89.6,644.6 89.8,646.0 90.0,649.3 90.2,643.9 90.4,643.2 90.6,644.3 90.8,647.5 91.0,645.0 91.2,648.2 91.4,641.5 91.6,647.8 91.8,647.6 92.0,642.5 92.2,645.8 92.4,648.0 92.6,645.6 92.8,647.5 93.0,650.4 93.2,646.0 93.4,644.8 93.6,643.8 93.8,646.8 94.0,645.0 94.2,645.0 94.3,645.2 94.5,646.8 94.7,643.2 94.9,642.2 95.1,640.3 95.3,647.9 95.5,645.6 95.7,648.6 95.9,645.4 96.1,643.8 96.3,646.4 96.5,645.2 96.7,642.8 96.9,643.6 97.1,649.1 97.3,646.2 97.5,646.3 97.7,644.9 97.9,644.0 98.1,647.4 98.3,645.3 98.5,643.9 98.7,645.3 98.9,643.7 99.1,646.0 99.2,648.0 99.4,643.9 99.6,648.7 99.8,644.3 100.0,646.1 100.2,644.0 100.4,645.4 100.6,646.0 100.8,645.0 101.0,644.5 101.2,644.5 101.4,644.3 101.6,642.8 101.8,645.5 102.0,647.0 102.2,648.1 102.4,647.6 102.6,651.4 102.8,647.0 103.0,645.4 103.2,650.3 103.4,644.2 103.6,648.5 103.8,644.5 104.0,647.3 104.1,642.5 104.3,648.5 104.5,646.4 104.7,644.7 104.9,650.3 105.1,648.4 105.3,647.0 105.5,645.3 105.7,646.9 105.9,646.6 106.1,648.5 106.3,648.7 106.5,645.7 106.7,646.0 106.9,646.1 107.1,644.4 107.3,646.0 107.5,647.1 107.7,648.8 107.9,650.1 108.1,645.7 108.3,648.6 108.5,646.5 108.7,651.8 108.9,647.4 109.0,648.6 109.2,645.6 109.4,645.9 109.6,648.1 109.8,646.9 110.0,648.4 110.2,644.4 110.4,649.1 110.6,645.9 110.8,651.3 111.0,647.2 111.2,650.1 111.4,644.9 111.6,648.7 111.8,645.9 112.0,646.8 112.2,647.9 112.4,647.1 112.6,648.3 112.8,649.4 113.0,649.2 113.2,647.6 113.4,645.0 113.6,646.1 113.8,647.4 113.9,643.4 114.1,649.3 114.3,647.3 114.5,647.2 114.7,649.7 114.9,649.2 115.1,648.2 115.3,645.7 115.5,648.4 115.7,648.5 115.9,645.9 116.1,649.9 116.3,648.8 116.5,643.6 116.7,647.9 116.9,645.0 117.1,650.0 117.3,649.3 117.5,645.4 117.7,645.8 117.9,647.8 118.1,647.1 118.3,650.8 118.5,649.2 118.7,647.0 118.8,648.8 119.0,643.3 119.2,648.2 119.4,649.4 119.6,647.2 119.8,646.0 120.0,648.7 120.2,651.6 120.4,647.9 120.6,645.1 120.8,650.5 121.0,643.5 121.2,648.5 121.4,646.2 121.6,649.4 121.8,645.6 122.0,650.2 122.2,648.0 122.4,643.8 122.6,643.2 122.8,646.7 123.0,650.0 123.2,647.6 123.4,647.4 123.6,646.8 123.7,648.8 123.9,648.0 124.1,647.8 124.3,645.2 124.5,649.7 124.7,650.1 124.9,644.5 125.1,652.0 125.3,648.7 125.5,646.1 125.7,643.2 125.9,648.5 126.1,648.3 126.3,645.9 126.5,643.4 126.7,649.4 126.9,645.8 127.1,646.1 127.3,653.0 127.5,651.5 127.7,649.0 127.9,646.1 128.1,648.4 128.3,642.2 128.5,647.2 128.6,645.4 128.8,644.3 129.0,643.7 129.2,648.1 129.4,647.1 129.6,647.3 129.8,648.7 130.0,645.2 130.2,644.3 130.4,643.2 130.6,646.2 130.8,648.5 131.0,646.6 131.2,648.2 131.4,644.4 131.6,645.9 131.8,645.2 132.0,644.2 132.2,650.7 132.4,648.6 132.6,645.2 132.8,645.2 133.0,646.7 133.2,643.8 133.4,647.7 133.5,644.1 133.7,646.0 133.9,644.6 134.1,645.8 134.3,644.0 134.5,643.5 134.7,644.7 134.9,645.3 135.1,646.1 135.3,646.9 135.5,649.9 135.7,648.4 135.9,646.2 136.1,648.2 136.3,645.2 136.5,649.7 136.7,647.8 136.9,643.8 137.1,648.2 137.3,648.3 137.5,641.0 137.7,645.0 137.9,645.6 138.1,642.6 138.3,644.4 138.4,644.6 138.6,647.6 138.8,647.2 139.0,652.0 139.2,645.7 139.4,648.9 139.6,646.7 139.8,647.1 140.0,644.1 140.2,642.5 140.4,644.9 140.6,648.1 140.8,649.8 141.0,647.7 141.2,647.5 141.4,644.7 141.6,649.6 141.8,649.2 142.0,645.3 142.2,646.3 142.4,644.3 142.6,649.4 142.8,647.2 143.0,646.1 143.2,647.2 143.3,647.2 143.5,645.4 143.7,643.7 143.9,643.5 144.1,642.6 144.3,647.2 144.5,650.8 144.7,642.6 144.9,646.4 145.1,647.0 145.3,644.0 145.5,646.5 145.7,643.8 145.9,648.6 146.1,644.8 146.3,646.2 146.5,647.4 146.7,645.0 146.9,642.1 147.1,644.8 147.3,647.4 147.5,645.6 147.7,646.2 147.9,643.5 148.1,646.0 148.2,647.2 148.4,645.7 148.6,649.6 148.8,645.1 149.0,643.3 149.2,642.1 149.4,647.8 149.6,645.2 149.8,647.4 150.0,646.2 150.2,648.6 150.4,647.8 150.6,644.3 150.8,645.7 151.0,647.3 151.2,642.4 151.4,648.0 151.6,647.4 151.8,646.9 152.0,644.3 152.2,645.3 152.4,642.3 152.6,644.7 152.8,643.3 153.0,644.7 153.1,643.4 153.3,645.0 153.5,646.8 153.7,641.5 153.9,646.1 154.1,639.9 154.3,639.5 154.5,643.7 154.7,643.9 154.9,644.8 155.1,640.3 155.3,643.6 155.5,643.9 155.7,646.2 155.9,643.3 156.1,644.6 156.3,641.3 156.5,642.9 156.7,642.3 156.9,644.6 157.1,641.0 157.3,641.2 157.5,644.2 157.7,646.7 157.9,643.6 158.0,643.3 158.2,641.9 158.4,644.8 158.6,643.6 158.8,646.0 159.0,643.0 159.2,640.1 159.4,640.8 159.6,639.8 159.8,639.2 160.0,644.4 160.2,643.3 160.4,638.9 160.6,645.2 160.8,641.8 161.0,639.1 161.2,641.9 161.4,640.8 161.6,639.1 161.8,636.5 162.0,640.6 162.2,641.0 162.4,634.7 162.6,641.3 162.8,641.3 162.9,638.8 163.1,639.9 163.3,639.0 163.5,637.6 163.7,638.5 163.9,642.0 164.1,635.8 164.3,639.3 164.5,639.0 164.7,636.9 164.9,637.4 165.1,635.1 165.3,636.1 165.5,637.8 165.7,638.4 165.9,635.5 166.1,643.9 166.3,635.9 166.5,637.2 166.7,636.3 166.9,635.7 167.1,639.2 167.3,635.2 167.5,638.9 167.7,638.3 167.8,633.4 168.0,637.7 168.2,633.9 168.4,641.1 168.6,634.1 168.8,632.7 169.0,630.3 169.2,631.5 169.4,632.8 169.6,631.7 169.8,631.0 170.0,632.0 170.2,632.8 170.4,636.3 170.6,629.1 170.8,631.4 171.0,630.3 171.2,628.8 171.4,629.1 171.6,629.7 171.8,633.0 172.0,630.7 172.2,629.7 172.4,632.0 172.6,631.0 172.7,629.6 172.9,630.6 173.1,627.6 173.3,630.6 173.5,629.9 173.7,627.6 173.9,625.5 174.1,631.3 174.3,627.8 174.5,634.1 174.7,625.5 174.9,628.5 175.1,625.3 175.3,626.5 175.5,627.5 175.7,623.4 175.9,624.7 176.1,624.9 176.3,624.4 176.5,625.2 176.7,625.8 176.9,625.0 177.1,623.3 177.3,621.5 177.5,619.4 177.6,619.9 177.8,620.0 178.0,622.4 178.2,619.6 178.4,617.2 178.6,621.1 178.8,617.4 179.0,617.1 179.2,617.9 179.4,619.0 179.6,612.0 179.8,614.5 180.0,617.0 180.2,615.3 180.4,613.7 180.6,613.9 180.8,617.9 181.0,613.2 181.2,615.4 181.4,615.1 181.6,611.7 181.8,613.3 182.0,610.7 182.2,609.8 182.4,608.0 182.5,612.2 182.7,608.7 182.9,607.8 183.1,605.9 183.3,612.3 183.5,609.2 183.7,606.6 183.9,604.7 184.1,602.1 184.3,605.9 184.5,605.4 184.7,600.7 184.9,606.3 185.1,604.8 185.3,600.1 185.5,600.5 185.7,600.2 185.9,601.0 186.1,599.5 186.3,593.7 186.5,604.0 186.7,599.3 186.9,602.0 187.1,601.4 187.3,595.6 187.4,596.9 187.6,597.6 187.8,597.1 188.0,593.1 188.2,590.9 188.4,592.4 188.6,588.8 188.8,588.9 189.0,583.0 189.2,589.7 189.4,585.1 189.6,585.9 189.8,586.9 190.0,587.3 190.2,592.0 190.4,585.1 190.6,578.5 190.8,582.9 191.0,579.4 191.2,581.8 191.4,577.0 191.6,575.9 191.8,575.5 192.0,574.0 192.2,568.7 192.3,571.7 192.5,572.9 192.7,576.1 192.9,569.8 193.1,568.4 193.3,570.7 193.5,569.6 193.7,572.3 193.9,567.7 194.1,564.6 194.3,568.5 194.5,568.2 194.7,560.3 194.9,561.7 195.1,554.5 195.3,558.4 195.5,555.8 195.7,557.5 195.9,555.9 196.1,556.3 196.3,555.8 196.5,557.3 196.7,555.7 196.9,552.3 197.1,549.1 197.2,557.4 197.4,557.4 197.6,550.3 197.8,553.3 198.0,545.4 198.2,544.7 198.4,548.6 198.6,554.2 198.8,544.8 199.0,545.0 199.2,553.0 199.4,540.2 199.6,548.6 199.8,547.5 200.0,544.5 200.2,545.4 200.4,553.4 200.6,539.7 200.8,542.1 201.0,541.8 201.2,539.7 201.4,536.9 201.6,546.6 201.8,541.3 202.0,533.8 202.1,537.0 202.3,540.3 202.5,539.7 202.7,532.7 202.9,536.9 203.1,537.5 203.3,537.4 203.5,536.9 203.7,528.5 203.9,540.8 204.1,534.5 204.3,539.5 204.5,542.7 204.7,531.5 204.9,527.1 205.1,533.9 205.3,529.7 205.5,528.2 205.7,525.5 205.9,534.5 206.1,526.5 206.3,522.5 206.5,525.3 206.7,522.2 206.9,526.3 207.0,523.7 207.2,520.9 207.4,526.1 207.6,521.2 207.8,525.4 208.0,526.7 208.2,520.5 208.4,518.9 208.6,521.3 208.8,523.2 209.0,519.5 209.2,519.4 209.4,518.2 209.6,518.9 209.8,519.4 210.0,514.2 210.2,514.4 210.4,515.7 210.6,512.6 210.8,514.9 211.0,515.7 211.2,513.2 211.4,510.6 211.6,509.5 211.8,517.8 211.9,514.2 212.1,506.6 212.3,507.1 212.5,516.1 212.7,514.3 212.9,509.0 213.1,512.1 213.3,502.3 213.5,507.0 213.7,509.1 213.9,499.5 214.1,502.8 214.3,507.8 214.5,508.6 214.7,502.0 214.9,504.7 215.1,508.8 215.3,501.3 215.5,497.5 215.7,501.5 215.9,499.9 216.1,505.3 216.3,500.9 216.5,497.0 216.7,507.7 216.8,497.1 217.0,500.0 217.2,500.2 217.4,500.1 217.6,497.4 217.8,498.3 218.0,495.5 218.2,490.2 218.4,493.9 218.6,493.4 218.8,492.9 219.0,493.5 219.2,490.2 219.4,496.5 219.6,496.7 219.8,482.9 220.0,490.0 220.2,486.8 220.4,479.5 220.6,489.4 220.8,485.2 221.0,485.3 221.2,483.6 221.4,489.0 221.6,488.7 221.7,484.6 221.9,485.2 222.1,481.5 222.3,481.5 222.5,477.5 222.7,479.3 222.9,475.7 223.1,478.5 223.3,479.2 223.5,476.3 223.7,478.4 223.9,482.6 224.1,464.8 224.3,471.1 224.5,468.0 224.7,467.4 224.9,463.1 225.1,467.0 225.3,464.8 225.5,462.4 225.7,462.7 225.9,460.4 226.1,453.2 226.3,464.1 226.5,458.2 226.6,454.9 226.8,458.2 227.0,453.8 227.2,447.4 227.4,457.2 227.6,447.2 227.8,451.3 228.0,451.4 228.2,454.7 228.4,453.1 228.6,448.4 228.8,444.1 229.0,444.3 229.2,448.5 229.4,449.8 229.6,444.4 229.8,439.2 230.0,444.0 230.2,438.0 230.4,436.8 230.6,436.2 230.8,438.2 231.0,436.0 231.2,437.5 231.4,437.6 231.5,433.8 231.7,422.8 231.9,424.1 232.1,429.6 232.3,427.9 232.5,434.8 232.7,426.1 232.9,424.8 233.1,427.1 233.3,426.5 233.5,422.0 233.7,423.1 233.9,417.8 234.1,417.4 234.3,422.4 234.5,414.3 234.7,419.9 234.9,418.4 235.1,417.9 235.3,417.6 235.5,416.0 235.7,408.0 235.9,410.6 236.1,411.2 236.3,415.0 236.4,409.0 236.6,409.7 236.8,410.2 237.0,414.4 237.2,406.5 237.4,406.4 237.6,411.4 237.8,403.6 238.0,410.0 238.2,407.6 238.4,404.3 238.6,407.2 238.8,405.5 239.0,408.6 239.2,409.0 239.4,412.1 239.6,408.0 239.8,408.4 240.0,406.6 240.2,408.3 240.4,411.5 240.6,403.6 240.8,410.9 241.0,408.0 241.2,410.0 241.3,411.1 241.5,413.0 241.7,411.7 241.9,410.5 242.1,412.9 242.3,412.6 242.5,412.5 242.7,414.3 242.9,417.2 243.1,416.3 243.3,417.7 243.5,415.2 243.7,419.9 243.9,416.6 244.1,425.1 244.3,421.8 244.5,429.0 244.7,434.7 244.9,426.4 245.1,432.1 245.3,430.6 245.5,428.9 245.7,429.0 245.9,433.8 246.1,438.0 246.2,435.3 246.4,429.6 246.6,432.1 246.8,435.8 247.0,442.2 247.2,439.2 247.4,440.2 247.6,444.1 247.8,440.0 248.0,441.2 248.2,441.7 248.4,436.9 248.6,445.6 248.8,446.2 249.0,449.0 249.2,442.2 249.4,444.4 249.6,451.4 249.8,450.1 250.0,454.7 250.2,447.7 250.4,452.3 250.6,450.2 250.8,454.6 251.0,452.7 251.1,457.3 251.3,460.2 251.5,459.8 251.7,452.1 251.9,462.7 252.1,462.0 252.3,457.8 252.5,459.4 252.7,463.6 252.9,466.6 253.1,464.1 253.3,461.1 253.5,468.8 253.7,469.5 253.9,478.5 254.1,466.5 254.3,481.0 254.5,479.3 254.7,475.3 254.9,481.2 255.1,476.7 255.3,480.9 255.5,475.9 255.7,479.8 255.9,477.0 256.0,476.1 256.2,481.7 256.4,481.4 256.6,486.7 256.8,490.1 257.0,486.0 257.2,487.8 257.4,489.2 257.6,483.7 257.8,491.5 258.0,491.6 258.2,492.3 258.4,489.6 258.6,487.5 258.8,494.5 259.0,497.5 259.2,502.0 259.4,502.3 259.6,504.4 259.8,501.5 260.0,505.2 260.2,501.4 260.4,505.3 260.6,507.3 260.8,514.4 260.9,506.7 261.1,502.3 261.3,512.6 261.5,505.9 261.7,509.3 261.9,509.4 262.1,508.2 262.3,516.9 262.5,515.2 262.7,511.8 262.9,515.1 263.1,514.2 263.3,518.7 263.5,516.1 263.7,515.5 263.9,516.8 264.1,518.3 264.3,521.6 264.5,518.2 264.7,521.9 264.9,524.5 265.1,531.9 265.3,527.4 265.5,514.7 265.7,524.1 265.8,525.2 266.0,528.4 266.2,533.5 266.4,531.3 266.6,521.3 266.8,531.2 267.0,531.1 267.2,532.9 267.4,536.9 267.6,528.9 267.8,537.3 268.0,528.3 268.2,534.9 268.4,536.7 268.6,544.0 268.8,534.2 269.0,531.3 269.2,540.3 269.4,536.2 269.6,544.7 269.8,537.3 270.0,537.3 270.2,545.4 270.4,542.0 270.6,545.8 270.7,537.9 270.9,549.4 271.1,542.1 271.3,547.7 271.5,542.0 271.7,540.7 271.9,545.9 272.1,548.0 272.3,553.6 272.5,550.0 272.7,551.9 272.9,552.4 273.1,561.6 273.3,548.5 273.5,556.5 273.7,552.2 273.9,554.3 274.1,552.1 274.3,558.8 274.5,551.0 274.7,551.4 274.9,556.0 275.1,553.3 275.3,560.5 275.5,562.0 275.6,556.7 275.8,562.8 276.0,558.4 276.2,561.2 276.4,562.1 276.6,569.3 276.8,563.4 277.0,560.9 277.2,561.5 277.4,569.6 277.6,560.2 277.8,565.1 278.0,566.1 278.2,559.5 278.4,567.1 278.6,573.0 278.8,570.9 279.0,567.7 279.2,574.0 279.4,574.0 279.6,580.0 279.8,571.0 280.0,573.0 280.2,575.2 280.4,575.3 280.5,576.8 280.7,576.8 280.9,575.5 281.1,573.0 281.3,577.3 281.5,575.1 281.7,577.0 281.9,579.4 282.1,583.8 282.3,585.7 282.5,579.7 282.7,585.0 282.9,587.4 283.1,585.1 283.3,580.1 283.5,578.9 283.7,589.8 283.9,590.8 284.1,589.1 284.3,585.0 284.5,594.4 284.7,594.1 284.9,590.2 285.1,590.1 285.3,584.6 285.4,594.6 285.6,586.8 285.8,595.4 286.0,596.1 286.2,594.4 286.4,600.1 286.6,594.0 286.8,597.7 287.0,598.9 287.2,597.5 287.4,595.6 287.6,601.9 287.8,599.6 288.0,597.9 288.2,598.5 288.4,600.0 288.6,608.0 288.8,600.8 289.0,600.0 289.2,597.6 289.4,597.5 289.6,595.6 289.8,603.5 290.0,603.2 290.2,599.9 290.3,598.7 290.5,603.2 290.7,602.9 290.9,600.4 291.1,606.6 291.3,606.4 291.5,606.1 291.7,609.3 291.9,604.7 292.1,610.6 292.3,605.3 292.5,609.3 292.7,609.9 292.9,608.1 293.1,609.9 293.3,606.4 293.5,606.2 293.7,609.6 293.9,608.7 294.1,612.1 294.3,611.1 294.5,612.8 294.7,612.4 294.9,612.5 295.1,612.5 295.2,611.8 295.4,611.8 295.6,618.0 295.8,609.4 296.0,613.4 296.2,616.5 296.4,615.4 296.6,618.0 296.8,616.3 297.0,612.4 297.2,614.8 297.4,612.6 297.6,618.4 297.8,619.7 298.0,615.7 298.2,618.2 298.4,616.3 298.6,614.2 298.8,616.7 299.0,614.4 299.2,617.0 299.4,619.0 299.6,620.5 299.8,622.0 300.0,618.5 300.1,620.1 300.3,620.8 300.5,621.3 300.7,613.8 300.9,618.7 301.1,622.6 301.3,618.4 301.5,621.8 301.7,623.4 301.9,617.4 302.1,621.5 302.3,622.7 302.5,622.4 302.7,619.1 302.9,623.6 303.1,621.8 303.3,625.1 303.5,624.4 303.7,622.4 303.9,624.3 304.1,622.5 304.3,622.7 304.5,620.9 304.7,624.2 304.9,626.7 305.0,625.3 305.2,625.2 305.4,624.1 305.6,624.5 305.8,627.5 306.0,622.7 306.2,630.9 306.4,626.3 306.6,631.5 306.8,629.4 307.0,626.0 307.2,628.8 307.4,627.9 307.6,628.5 307.8,629.5 308.0,626.6 308.2,626.7 308.4,627.3 308.6,625.3 308.8,628.0 309.0,629.2 309.2,629.5 309.4,629.5 309.6,628.4 309.8,631.2 309.9,625.0 310.1,628.8 310.3,629.2 310.5,632.0 310.7,631.7 310.9,632.1 311.1,630.6 311.3,632.8 311.5,628.6 311.7,631.1 311.9,626.5 312.1,635.1 312.3,635.0 312.5,630.3 312.7,629.9 312.9,627.3 313.1,628.7 313.3,632.5 313.5,632.0 313.7,629.3 313.9,631.6 314.1,631.3 314.3,634.0 314.5,634.7 314.7,632.8 314.8,633.7 315.0,633.5 315.2,629.1 315.4,634.2 315.6,633.8 315.8,635.8 316.0,630.3 316.2,636.1 316.4,633.2 316.6,635.3 316.8,637.5 317.0,631.8 317.2,632.3 317.4,637.4 317.6,632.9 317.8,633.5 318.0,637.0 318.2,635.4 318.4,637.6 318.6,636.7 318.8,636.2 319.0,638.5 319.2,641.2 319.4,636.4 319.6,640.0 319.7,639.4 319.9,637.3 320.1,638.2 320.3,635.3 320.5,636.1 320.7,638.2 320.9,637.6 321.1,640.7 321.3,635.2 321.5,637.5 321.7,636.9 321.9,638.1 322.1,641.0 322.3,636.1 322.5,640.6 322.7,637.7 322.9,638.4 323.1,641.3 323.3,638.7 323.5,640.9 323.7,639.9 323.9,639.4 324.1,639.1 324.3,636.3 324.5,638.6 324.6,640.7 324.8,640.9 325.0,637.4 325.2,642.9 325.4,642.1 325.6,638.2 325.8,638.9 326.0,642.4 326.2,637.7 326.4,640.0 326.6,641.6 326.8,641.5 327.0,641.8 327.2,642.9 327.4,640.5 327.6,641.3 327.8,646.9 328.0,639.7 328.2,641.8 328.4,643.1 328.6,641.7 328.8,645.8 329.0,643.5 329.2,645.0 329.4,638.0 329.5,646.2 329.7,646.3 329.9,642.4 330.1,646.8 330.3,644.8 330.5,646.3 330.7,648.3 330.9,644.8 331.1,642.6 331.3,644.8 331.5,642.3 331.7,643.4 331.9,643.6 332.1,643.8 332.3,647.9 332.5,647.3 332.7,643.8 332.9,648.2 333.1,642.4 333.3,644.7 333.5,645.9 333.7,648.8 333.9,647.9 334.1,647.5 334.3,649.3 334.4,648.2 334.6,649.7 334.8,645.3 335.0,643.5 335.2,646.3 335.4,649.0 335.6,647.9 335.8,649.3 336.0,649.0 336.2,648.7 336.4,649.5 336.6,646.3 336.8,650.2 337.0,645.9 337.2,647.9 337.4,645.3 337.6,649.3 337.8,645.1 338.0,651.4 338.2,645.7 338.4,649.2 338.6,648.4 338.8,646.9 339.0,651.4 339.2,648.0 339.3,652.0 339.5,646.9 339.7,647.5 339.9,645.0 340.1,650.4 340.3,651.2 340.5,649.8 340.7,649.1 340.9,647.6 341.1,654.4 341.3,651.2 341.5,645.9 341.7,649.1 341.9,644.4 342.1,653.1 342.3,654.0 342.5,653.0 342.7,649.9 342.9,648.9 343.1,647.2 343.3,651.3 343.5,648.7 343.7,649.5 343.9,649.1 344.1,649.8 344.2,652.4 344.4,654.0 344.6,650.9 344.8,650.7 345.0,648.4 345.2,648.3 345.4,648.7 345.6,652.7 345.8,651.5 346.0,653.0 346.2,652.0 346.4,650.3 346.6,648.6 346.8,650.5 347.0,648.4 347.2,655.5 347.4,652.0 347.6,650.7 347.8,655.6 348.0,650.8 348.2,652.8 348.4,651.3 348.6,652.5 348.8,651.0 349.0,652.9 349.1,654.8 349.3,649.3 349.5,647.4 349.7,654.8 349.9,652.4 350.1,653.9 350.3,651.6 350.5,655.4 350.7,656.0 350.9,649.9 351.1,653.8 351.3,651.2 351.5,649.1 351.7,651.9 351.9,653.7 352.1,649.8 352.3,650.0 352.5,655.2 352.7,652.8 352.9,653.6 353.1,650.4 353.3,651.5 353.5,653.1 353.7,653.3 353.9,653.2 354.0,656.3 354.2,653.3 354.4,649.9 354.6,651.3 354.8,653.0 355.0,655.8 355.2,651.7 355.4,652.4 355.6,653.2 355.8,651.8 356.0,651.6 356.2,652.8 356.4,655.4 356.6,654.4 356.8,652.8 357.0,654.2 357.2,650.8 357.4,655.5 357.6,655.0 357.8,654.1 358.0,650.2 358.2,657.8 358.4,647.6 358.6,651.6 358.8,651.8 358.9,655.1 359.1,650.6 359.3,654.2 359.5,653.4 359.7,653.2 359.9,655.5 360.1,656.7 360.3,654.6 360.5,653.3 360.7,649.2 360.9,656.9 361.1,653.3 361.3,650.1 361.5,654.3 361.7,656.9 361.9,653.7 362.1,651.6 362.3,658.6 362.5,655.3 362.7,654.7 362.9,656.1 363.1,649.6 363.3,653.9 363.5,653.7 363.7,658.7 363.8,652.9 364.0,652.9 364.2,651.2 364.4,652.4 364.6,653.7 364.8,654.6 365.0,653.7 365.2,658.2 365.4,655.1 365.6,655.4 365.8,656.9 366.0,655.4 366.2,653.0 366.4,650.9 366.6,654.8 366.8,652.4 367.0,656.8 367.2,652.5 367.4,649.5 367.6,654.2 367.8,656.3 368.0,653.6 368.2,654.4 368.4,654.4 368.6,657.6 368.7,654.7 368.9,653.9 369.1,652.8 369.3,650.6 369.5,656.9 369.7,656.4 369.9,652.0 370.1,655.2 370.3,654.7 370.5,653.2 370.7,653.3 370.9,655.5 371.1,651.5 371.3,652.9 371.5,653.8 371.7,653.9 371.9,653.5 372.1,654.4 372.3,655.0 372.5,652.0 372.7,654.1 372.9,652.8 373.1,657.0 373.3,651.0 373.5,653.4 373.6,655.3 373.8,653.2 374.0,653.1 374.2,652.7 374.4,654.5 374.6,651.4 374.8,653.6 375.0,653.6 375.2,650.8 375.4,654.3 375.6,652.8 375.8,654.4 376.0,655.5 376.2,654.5 376.4,651.3 376.6,654.4 376.8,650.4 377.0,652.2 377.2,657.2 377.4,653.7 377.6,656.9 377.8,653.3 378.0,653.7 378.2,651.4 378.4,655.6 378.5,653.3 378.7,655.0 378.9,654.6 379.1,654.8 379.3,654.4 379.5,653.6 379.7,653.7 379.9,652.3 380.1,649.3 380.3,654.7 380.5,658.0 380.7,655.9 380.9,658.5 381.1,654.7 381.3,651.7 381.5,651.6 381.7,655.2 381.9,654.4 382.1,653.3 382.3,655.2 382.5,651.9 382.7,654.7 382.9,653.1 383.1,654.0 383.3,656.1 383.4,653.4 383.6,656.5 383.8,656.4 384.0,652.1 384.2,658.4 384.4,651.1 384.6,653.4 384.8,655.1 385.0,648.9 385.2,655.7 385.4,656.0 385.6,653.4 385.8,654.2 386.0,654.0 386.2,653.2 386.4,655.8 386.6,652.8 386.8,653.5 387.0,654.3 387.2,655.3 387.4,655.8 387.6,650.5 387.8,649.3 388.0,653.3 388.2,653.4 388.3,651.3 388.5,654.1 388.7,654.8 388.9,654.3 389.1,656.9 389.3,651.3 389.5,653.5 389.7,657.5 389.9,654.9 390.1,651.2 390.3,653.9 390.5,655.9 390.7,657.7 390.9,654.8 391.1,655.8 391.3,651.1 391.5,652.9 391.7,655.9 391.9,651.4 392.1,653.3 392.3,649.5 392.5,656.4 392.7,653.1 392.9,654.5 393.1,650.2 393.2,650.6 393.4,657.1 393.6,652.6 393.8,652.2 394.0,654.4 394.2,654.5 394.4,649.2 394.6,651.3 394.8,653.4 395.0,653.3 395.2,654.0 395.4,652.4 395.6,652.7 395.8,653.7 396.0,651.8 396.2,651.5 396.4,652.1 396.6,653.2 396.8,652.9 397.0,652.2 397.2,652.7 397.4,653.1 397.6,653.9 397.8,653.9 398.0,650.5 398.1,655.2 398.3,649.9 398.5,654.3 398.7,651.7 398.9,654.3 399.1,655.3 399.3,649.2 399.5,654.4 399.7,653.7 399.9,652.1 400.1,653.9 400.3,652.1 400.5,653.3 400.7,650.9 400.9,654.7 401.1,654.3 401.3,654.6 401.5,651.7 401.7,656.8 401.9,657.1 402.1,652.9 402.3,652.2 402.5,652.2 402.7,654.4 402.9,655.1 403.0,651.5 403.2,648.8 403.4,653.9 403.6,652.9 403.8,653.3 404.0,654.0 404.2,650.7 404.4,653.1 404.6,652.3 404.8,653.7 405.0,655.4 405.2,652.9 405.4,651.1 405.6,655.5 405.8,654.3 406.0,652.5 406.2,649.2 406.4,651.1 406.6,653.1 406.8,654.0 407.0,651.7 407.2,653.7 407.4,651.5 407.6,651.9 407.8,653.9 407.9,652.2 408.1,653.1 408.3,654.6 408.5,655.1 408.7,651.5 408.9,652.2 409.1,650.0 409.3,650.0 409.5,653.3 409.7,651.6 409.9,648.9 410.1,653.8 410.3,651.0 410.5,652.0 410.7,653.5 410.9,653.5 411.1,652.5 411.3,648.6 411.5,653.8 411.7,651.4 411.9,649.7 412.1,648.1 412.3,655.3 412.5,652.9 412.7,652.8 412.8,653.8 413.0,652.4 413.2,649.5 413.4,654.0 413.6,654.6 413.8,653.6 414.0,655.7 414.2,656.5 414.4,650.9 414.6,651.6 414.8,654.4 415.0,652.9 415.2,653.0 415.4,654.4 415.6,654.0 415.8,651.6 416.0,652.8 416.2,651.0 416.4,652.1 416.6,650.2 416.8,648.5 417.0,651.5 417.2,651.3 417.4,654.3 417.6,655.7 417.7,652.5 417.9,653.4 418.1,651.1 418.3,650.5 418.5,651.8 418.7,651.8 418.9,653.0 419.1,652.6 419.3,655.8 419.5,652.0 419.7,649.0 419.9,652.6 420.1,651.0 420.3,652.8 420.5,654.7 420.7,651.1 420.9,652.2 421.1,653.4 421.3,650.4 421.5,652.8 421.7,653.5 421.9,654.0 422.1,654.6 422.3,653.5 422.5,653.1 422.6,649.5 422.8,646.8 423.0,650.3 423.2,655.2 423.4,652.5 423.6,647.7 423.8,651.4 424.0,653.0 424.2,648.5 424.4,653.4 424.6,649.9 424.8,654.4 425.0,652.3 425.2,658.6 425.4,649.5 425.6,652.8 425.8,649.2 426.0,654.6 426.2,652.5 426.4,654.1 426.6,652.4 426.8,649.8 427.0,650.8 427.2,649.6 427.4,650.0 427.5,652.5 427.7,654.3 427.9,653.9 428.1,653.2 428.3,651.0 428.5,653.2 428.7,650.4 428.9,652.5 429.1,653.8 429.3,651.7 429.5,651.1 429.7,651.2 429.9,653.3 430.1,651.4 430.3,649.1 430.5,651.2 430.7,649.9 430.9,655.1 431.1,652.0 431.3,649.0 431.5,652.5 431.7,653.5 431.9,652.8 432.1,651.2 432.3,652.3 432.4,652.5 432.6,654.0 432.8,652.7 433.0,656.6 433.2,651.5 433.4,655.0 433.6,652.0 433.8,648.4 434.0,649.5 434.2,648.2 434.4,648.4 434.6,654.3 434.8,650.5 435.0,653.1 435.2,650.0 435.4,651.8 435.6,649.7 435.8,653.6 436.0,651.3 436.2,650.9 436.4,651.5 436.6,656.2 436.8,652.7 437.0,653.5 437.2,649.2 437.3,650.4 437.5,652.4 437.7,647.9 437.9,654.5 438.1,652.3 438.3,651.7 438.5,651.3 438.7,651.2 438.9,650.6 439.1,654.5 439.3,653.1 439.5,654.2 439.7,651.0 439.9,649.8 440.1,654.4 440.3,649.1 440.5,650.4 440.7,653.0 440.9,653.8 441.1,648.9 441.3,651.0 441.5,651.6 441.7,651.3 441.9,649.8 442.1,652.9 442.2,650.4 442.4,651.0 442.6,646.9 442.8,651.2 443.0,647.5 443.2,652.9 443.4,652.4 443.6,650.4 443.8,651.7 444.0,651.6 444.2,651.1 444.4,652.1 444.6,651.1 444.8,650.4 445.0,649.7 445.2,654.7 445.4,651.7 445.6,651.2 445.8,652.7 446.0,650.5 446.2,650.5 446.4,652.6 446.6,653.3 446.8,652.6 447.0,648.1 447.1,651.3 447.3,651.1 447.5,652.1 447.7,649.3 447.9,649.0 448.1,650.9 448.3,649.3 448.5,648.9 448.7,650.9 448.9,652.9 449.1,651.3 449.3,653.3 449.5,649.0 449.7,652.4 449.9,650.9 450.1,649.2 450.3,650.1 450.5,649.2 450.7,650.5 450.9,649.4 451.1,653.4 451.3,650.1 451.5,647.9 451.7,650.4 451.9,651.6 452.0,650.1 452.2,652.5 452.4,648.9 452.6,649.0 452.8,654.0 453.0,650.7 453.2,651.8 453.4,651.7 453.6,651.8 453.8,650.7 454.0,650.3 454.2,652.8 454.4,649.6 454.6,650.8 454.8,652.0 455.0,649.8 455.2,647.4 455.4,651.5 455.6,652.7 455.8,651.0 456.0,647.1 456.2,651.8 456.4,654.5 456.6,647.3 456.8,644.9 456.9,649.9 457.1,650.6 457.3,652.0 457.5,652.0 457.7,650.6 457.9,651.4 458.1,651.0 458.3,650.6 458.5,650.2 458.7,650.0 458.9,651.7 459.1,651.1 459.3,649.4 459.5,652.4 459.7,648.7 459.9,649.7 460.1,650.5 460.3,646.3 460.5,649.4 460.7,651.9 460.9,651.8 461.1,647.7 461.3,648.4 461.5,647.9 461.7,649.6 461.8,649.9 462.0,646.8 462.2,650.7 462.4,650.2 462.6,649.9 462.8,648.6 463.0,649.6 463.2,646.4 463.4,650.4 463.6,650.4 463.8,649.7 464.0,647.5 464.2,652.5 464.4,652.2 464.6,646.1 464.8,650.7 465.0,650.1 465.2,644.6 465.4,650.9 465.6,651.1 465.8,651.2 466.0,650.1 466.2,648.4 466.4,648.7 466.6,650.8 466.7,652.1 466.9,648.7 467.1,649.1 467.3,651.1 467.5,645.3 467.7,650.6 467.9,649.2 468.1,645.2 468.3,651.2 468.5,647.8 468.7,651.2 468.9,652.4 469.1,647.1 469.3,647.2 469.5,649.5 469.7,646.0 469.9,651.0 470.1,649.9 470.3,651.5 470.5,645.8 470.7,649.9 470.9,650.4 471.1,645.9 471.3,651.3 471.5,646.7 471.6,649.8 471.8,646.8 472.0,651.0 472.2,652.9 472.4,649.6 472.6,649.5 472.8,652.0 473.0,648.5 473.2,649.5 473.4,651.1 473.6,650.3 473.8,652.6 474.0,651.8 474.2,653.3 474.4,649.4 474.6,651.7 474.8,647.8 475.0,651.2 475.2,653.0 475.4,654.2 475.6,646.9 475.8,649.1 476.0,650.9 476.2,647.6 476.4,650.5 476.5,650.5 476.7,648.4 476.9,648.3 477.1,647.5 477.3,650.0 477.5,652.0 477.7,650.0 477.9,655.0 478.1,646.4 478.3,648.2 478.5,650.7 478.7,647.0 478.9,650.1 479.1,651.0 479.3,649.7 479.5,648.9 479.7,651.3 479.9,650.2 480.1,650.8 480.3,650.4 480.5,648.0 480.7,647.1 480.9,648.6 481.1,649.7 481.3,648.9 481.4,651.2 481.6,649.8 481.8,651.3 482.0,649.5 482.2,647.8 482.4,651.0 482.6,650.3 482.8,647.6 483.0,648.5 483.2,655.0 483.4,642.4 483.6,651.6 483.8,649.4 484.0,649.1 484.2,648.7 484.4,648.2 484.6,654.1 484.8,648.4 485.0,648.7 485.2,650.9 485.4,650.1 485.6,648.9 485.8,648.7 486.0,646.6 486.2,651.5 486.3,647.2 486.5,644.4 486.7,651.5 486.9,650.9 487.1,650.1 487.3,648.3 487.5,651.8 487.7,647.2 487.9,644.9 488.1,649.7 488.3,651.1 488.5,650.7 488.7,653.7 488.9,651.2 489.1,649.0 489.3,649.1 489.5,651.3 489.7,649.4 489.9,649.3 490.1,645.9 490.3,648.9 490.5,646.9 490.7,650.1 490.9,649.9 491.1,651.1 491.2,653.4 491.4,649.3 491.6,652.7 491.8,647.4 492.0,650.1 492.2,651.7 492.4,653.8 492.6,647.6 492.8,649.3 493.0,650.2 493.2,649.7 493.4,648.0 493.6,646.6 493.8,647.4 494.0,649.8 494.2,647.3 494.4,653.7 494.6,652.6 494.8,646.2 495.0,649.1 495.2,652.9 495.4,653.1 495.6,652.5 495.8,647.3 496.0,649.5 496.1,652.9 496.3,650.5 496.5,649.4 496.7,651.4 496.9,652.4 497.1,650.7 497.3,650.9 497.5,652.6 497.7,649.3 497.9,648.6 498.1,652.1 498.3,648.1 498.5,651.6 498.7,649.1 498.9,652.3 499.1,648.2 499.3,653.0 499.5,651.3 499.7,650.1 499.9,648.9 500.1,650.4 500.3,648.9 500.5,648.3 500.7,653.0 500.9,652.1 501.0,653.4 501.2,648.1 501.4,646.9 501.6,647.7 501.8,652.3 502.0,652.6 502.2,647.2 502.4,653.1 502.6,650.1 502.8,648.6 503.0,650.9 503.2,652.2 503.4,650.6 503.6,650.7 503.8,649.4 504.0,648.2 504.2,650.4 504.4,647.8 504.6,652.4 504.8,649.4 505.0,653.9 505.2,648.0 505.4,654.1 505.6,649.4 505.8,649.4 505.9,651.9 506.1,653.1 506.3,651.2 506.5,650.6 506.7,655.4 506.9,652.4 507.1,648.9 507.3,650.8 507.5,654.8 507.7,652.0 507.9,653.1 508.1,655.6 508.3,650.2 508.5,652.2 508.7,650.0 508.9,651.4 509.1,652.5 509.3,648.7 509.5,651.7 509.7,651.7 509.9,653.6 510.1,650.2 510.3,648.8 510.5,652.2 510.7,649.1 510.8,651.8 511.0,652.6 511.2,649.6 511.4,651.1 511.6,649.2 511.8,645.5 512.0,648.3 512.2,647.0 512.4,651.3 512.6,649.1 512.8,650.9 513.0,651.1 513.2,653.4 513.4,650.4 513.6,650.3 513.8,652.2 514.0,654.4 514.2,650.9 514.4,651.7 514.6,650.6 514.8,649.5 515.0,647.7 515.2,650.7 515.4,650.3 515.6,650.3 515.7,654.9 515.9,650.0 516.1,651.4 516.3,649.9 516.5,653.1 516.7,650.0 516.9,654.4 517.1,649.9 517.3,652.0 517.5,652.5 517.7,649.8 517.9,652.1 518.1,650.4 518.3,648.6 518.5,648.7 518.7,650.8 518.9,653.7 519.1,649.0 519.3,651.0 519.5,648.2 519.7,650.3 519.9,647.0 520.1,648.0 520.3,649.6 520.5,648.0 520.6,648.9 520.8,651.5 521.0,649.1 521.2,647.8 521.4,646.7 521.6,648.1 521.8,651.5 522.0,648.9 522.2,648.7 522.4,650.4 522.6,650.6 522.8,650.9 523.0,648.0 523.2,646.8 523.4,645.1 523.6,647.1 523.8,647.7 524.0,649.9 524.2,649.0 524.4,647.1 524.6,650.0 524.8,645.5 525.0,645.8 525.2,645.5 525.4,645.6 525.5,647.3 525.7,646.0 525.9,646.1 526.1,650.4 526.3,644.5 526.5,645.3 526.7,646.9 526.9,648.2 527.1,648.2 527.3,646.6 527.5,646.3 527.7,646.4 527.9,648.5 528.1,644.9 528.3,641.9 528.5,647.1 528.7,644.2 528.9,646.4 529.1,649.4 529.3,646.6 529.5,650.2 529.7,642.9 529.9,646.7 530.1,646.9 530.3,647.8 530.4,644.5 530.6,646.2 530.8,646.1 531.0,646.0 531.2,642.8 531.4,642.0 531.6,646.7 531.8,646.2 532.0,645.5 532.2,646.7 532.4,647.6 532.6,642.8 532.8,646.8 533.0,648.2 533.2,647.2 533.4,646.2 533.6,646.4 533.8,641.8 534.0,643.7 534.2,646.9 534.4,647.8 534.6,645.6 534.8,643.6 535.0,644.2 535.2,646.2 535.3,648.6 535.5,646.0 535.7,643.2 535.9,645.5 536.1,645.1 536.3,649.2 536.5,645.3 536.7,644.1 536.9,643.8 537.1,641.3 537.3,641.6 537.5,642.8 537.7,642.0 537.9,644.1 538.1,643.8 538.3,645.6 538.5,646.7 538.7,643.8 538.9,643.0 539.1,639.5 539.3,644.2 539.5,644.7 539.7,641.6 539.9,642.4 540.1,641.7 540.2,645.4 540.4,644.4 540.6,645.6 540.8,640.4 541.0,648.6 541.2,641.1 541.4,640.7 541.6,643.2 541.8,641.6 542.0,646.6 542.2,641.8 542.4,641.2 542.6,644.7 542.8,645.2 543.0,640.7 543.2,641.5 543.4,641.7 543.6,642.1 543.8,646.0 544.0,645.0 544.2,644.5 544.4,645.0 544.6,642.2 544.8,644.0 545.0,642.0 545.1,640.5 545.3,645.6 545.5,638.3 545.7,642.0 545.9,640.7 546.1,638.4 546.3,641.0 546.5,642.0 546.7,642.8 546.9,640.0 547.1,643.3 547.3,642.3 547.5,643.4 547.7,637.5 547.9,640.6 548.1,640.2 548.3,642.7 548.5,639.9 548.7,640.3 548.9,638.9 549.1,638.8 549.3,639.3 549.5,643.3 549.7,639.0 549.9,636.0 550.0,641.8 550.2,640.1 550.4,642.2 550.6,642.2 550.8,640.3 551.0,640.1 551.2,639.7 551.4,640.9 551.6,639.2 551.8,641.2 552.0,643.7 552.2,639.3 552.4,639.3 552.6,639.3 552.8,641.9 553.0,642.0 553.2,643.6 553.4,642.0 553.6,640.7 553.8,641.4 554.0,637.6 554.2,641.6 554.4,640.7 554.6,644.7 554.8,643.2 554.9,638.4 555.1,638.9 555.3,642.0 555.5,635.6 555.7,638.0 555.9,640.8 556.1,641.3 556.3,640.3 556.5,642.3 556.7,639.2 556.9,639.9 557.1,639.3 557.3,637.3 557.5,639.7 557.7,638.4 557.9,639.7 558.1,633.8 558.3,639.6 558.5,638.2 558.7,638.0 558.9,639.3 559.1,638.2 559.3,641.1 559.5,641.7 559.7,640.9 559.8,641.0 560.0,639.7 560.2,638.9 560.4,636.0 560.6,637.9 560.8,641.3 561.0,640.2 561.2,637.5 561.4,638.7 561.6,640.7 561.8,638.0 562.0,641.8 562.2,636.6 562.4,639.8 562.6,639.6 562.8,638.4 563.0,638.6 563.2,639.0 563.4,632.9 563.6,638.7 563.8,640.1 564.0,638.4 564.2,640.0 564.4,634.9 564.6,637.2 564.7,638.0 564.9,636.6 565.1,639.7 565.3,638.1 565.5,635.8 565.7,638.6 565.9,638.5 566.1,635.6 566.3,637.8 566.5,637.2 566.7,637.0 566.9,633.4 567.1,638.7 567.3,637.2 567.5,635.6 567.7,636.3 567.9,636.1 568.1,634.5 568.3,633.7 568.5,635.0 568.7,633.4 568.9,633.4 569.1,631.7 569.3,633.5 569.5,636.1 569.6,634.2 569.8,633.6 570.0,632.6 570.2,632.1 570.4,629.6 570.6,636.3 570.8,630.8 571.0,628.9 571.2,632.8 571.4,632.3 571.6,630.3 571.8,628.0 572.0,628.0 572.2,634.2 572.4,630.2 572.6,628.8 572.8,634.1 573.0,628.5 573.2,627.4 573.4,630.4 573.6,629.8 573.8,632.1 574.0,624.9 574.2,628.8 574.4,624.1 574.5,628.6 574.7,625.8 574.9,626.0 575.1,625.0 575.3,628.3 575.5,629.8 575.7,625.6 575.9,624.9 576.1,624.1 576.3,626.1 576.5,622.3 576.7,632.3 576.9,623.5 577.1,627.6 577.3,623.7 577.5,620.0 577.7,619.3 577.9,621.5 578.1,620.5 578.3,621.3 578.5,618.9 578.7,626.6 578.9,625.8 579.1,616.5 579.3,621.4 579.4,622.7 579.6,618.9 579.8,618.8 580.0,621.5 580.2,619.9 580.4,615.6 580.6,620.9 580.8,616.6 581.0,621.7 581.2,614.9 581.4,611.5 581.6,616.7 581.8,619.0 582.0,617.0 582.2,615.9 582.4,613.0 582.6,617.0 582.8,610.2 583.0,616.1 583.2,611.1 583.4,612.2 583.6,610.2 583.8,610.8 584.0,616.2 584.2,609.6 584.3,612.5 584.5,609.8 584.7,613.8 584.9,607.9 585.1,610.7 585.3,612.5 585.5,615.4 585.7,606.9 585.9,607.3 586.1,608.9 586.3,612.2 586.5,605.8 586.7,609.9 586.9,606.0 587.1,604.7 587.3,603.0 587.5,606.7 587.7,608.4 587.9,605.4 588.1,600.2 588.3,603.5 588.5,606.8 588.7,606.2 588.9,604.4 589.1,606.9 589.2,599.9 589.4,599.6 589.6,608.0 589.8,603.4 590.0,600.9 590.2,599.8 590.4,594.3 590.6,602.2 590.8,594.7 591.0,594.6 591.2,598.9 591.4,602.3 591.6,597.3 591.8,598.8 592.0,596.4 592.2,598.0 592.4,592.6 592.6,601.5 592.8,593.5 593.0,596.9 593.2,590.1 593.4,599.2 593.6,595.5 593.8,599.0 594.0,592.0 594.1,595.9 594.3,592.5 594.5,592.5 594.7,595.5 594.9,589.6 595.1,593.4 595.3,596.1 595.5,595.2 595.7,593.1 595.9,590.9 596.1,587.3 596.3,593.0 596.5,587.2 596.7,591.6 596.9,587.4 597.1,587.8 597.3,587.4 597.5,588.5 597.7,585.5 597.9,586.6 598.1,584.4 598.3,586.7 598.5,585.7 598.7,585.6 598.9,581.9 599.0,584.5 599.2,583.4 599.4,584.3 599.6,582.5 599.8,579.5 600.0,583.4 600.2,579.4 600.4,581.4 600.6,574.9 600.8,581.1 601.0,581.0 601.2,576.5 601.4,580.0 601.6,577.0 601.8,581.1 602.0,578.8 602.2,573.5 602.4,575.7 602.6,571.2 602.8,574.5 603.0,576.4 603.2,576.7 603.4,573.8 603.6,573.0 603.8,573.6 603.9,571.2 604.1,573.2 604.3,574.9 604.5,572.0 604.7,573.4 604.9,568.7 605.1,569.0 605.3,570.8 605.5,574.8 605.7,571.8 605.9,573.2 606.1,568.4 606.3,571.2 606.5,563.1 606.7,568.5 606.9,561.3 607.1,569.7 607.3,567.3 607.5,568.8 607.7,566.4 607.9,563.7 608.1,562.7 608.3,564.8 608.5,567.9 608.7,565.3 608.8,561.9 609.0,561.5 609.2,560.8 609.4,561.8 609.6,561.8 609.8,560.5 610.0,561.5 610.2,557.0 610.4,565.1 610.6,561.3 610.8,564.5 611.0,560.9 611.2,559.4 611.4,559.9 611.6,560.0 611.8,557.4 612.0,558.0 612.2,563.9 612.4,561.1 612.6,557.0 612.8,559.6 613.0,555.8 613.2,561.7 613.4,555.1 613.6,560.0 613.7,557.6 613.9,557.5 614.1,555.1 614.3,556.5 614.5,555.0 614.7,554.7 614.9,558.2 615.1,563.6 615.3,555.9 615.5,559.5 615.7,556.7 615.9,554.9 616.1,560.4 616.3,558.5 616.5,559.9 616.7,557.2 616.9,557.3 617.1,554.8 617.3,556.3 617.5,561.6 617.7,551.1 617.9,558.4 618.1,561.4 618.3,559.7 618.5,560.1 618.6,557.2 618.8,561.1 619.0,561.3 619.2,558.3 619.4,563.1 619.6,557.5 619.8,552.4 620.0,559.2 620.2,559.2 620.4,557.4 620.6,558.7 620.8,558.8 621.0,555.6 621.2,564.0 621.4,561.0 621.6,568.4 621.8,561.5 622.0,562.9 622.2,558.1 622.4,565.1 622.6,559.8 622.8,564.4 623.0,565.8 623.2,565.6 623.4,561.8 623.5,562.2 623.7,566.6 623.9,568.0 624.1,569.1 624.3,565.5 624.5,565.7 624.7,571.0 624.9,565.1 625.1,568.9 625.3,566.5 625.5,563.9 625.7,565.1 625.9,569.5 626.1,569.2 626.3,570.3 626.5,568.4 626.7,568.4 626.9,570.8 627.1,569.9 627.3,566.5 627.5,569.9 627.7,575.8 627.9,569.7 628.1,573.5 628.3,572.2 628.4,574.6 628.6,570.8 628.8,570.0 629.0,574.8 629.2,572.2 629.4,574.2 629.6,573.8 629.8,577.3 630.0,575.8 630.2,575.8 630.4,573.3 630.6,572.0 630.8,574.2 631.0,578.8 631.2,578.7 631.4,578.8 631.6,576.6 631.8,575.3 632.0,581.2 632.2,579.1 632.4,580.3 632.6,576.9 632.8,577.9 633.0,581.6 633.2,582.2 633.3,578.2 633.5,581.8 633.7,578.5 633.9,584.9 634.1,583.8 634.3,588.3 634.5,586.7 634.7,581.6 634.9,584.1 635.1,582.8 635.3,584.8 635.5,586.7 635.7,585.2 635.9,585.7 636.1,582.6 636.3,587.8 636.5,586.7 636.7,588.7 636.9,590.1 637.1,588.0 637.3,590.0 637.5,587.2 637.7,591.4 637.9,589.4 638.1,588.4 638.2,589.7 638.4,587.1 638.6,589.4 638.8,590.4 639.0,591.9 639.2,592.0 639.4,591.0 639.6,592.5 639.8,588.1 640.0,594.0 640.2,595.5 640.4,596.4 640.6,597.5 640.8,594.8 641.0,595.4 641.2,594.9 641.4,595.2 641.6,597.1 641.8,600.4 642.0,593.4 642.2,596.7 642.4,598.9 642.6,596.2 642.8,599.9 643.0,596.0 643.1,598.8 643.3,596.0 643.5,601.0 643.7,598.8 643.9,602.5 644.1,600.6 644.3,599.3 644.5,601.0 644.7,602.6 644.9,602.6 645.1,602.3 645.3,602.4 645.5,603.5 645.7,605.8 645.9,602.7 646.1,605.4 646.3,601.5 646.5,607.1 646.7,606.1 646.9,604.7 647.1,605.0 647.3,602.0 647.5,606.5 647.7,605.9 647.9,603.5 648.0,605.9 648.2,608.6 648.4,607.8 648.6,608.3 648.8,606.6 649.0,610.0 649.2,608.2 649.4,610.4 649.6,613.8 649.8,604.2 650.0,607.9 650.2,609.2 650.4,607.7 650.6,612.0 650.8,609.0 651.0,613.9 651.2,611.9 651.4,611.3 651.6,610.5 651.8,612.7 652.0,612.1 652.2,614.5 652.4,612.2 652.6,613.8 652.8,612.6 652.9,612.6 653.1,608.4 653.3,612.2 653.5,613.2 653.7,609.8 653.9,609.5 654.1,612.1 654.3,613.7 654.5,609.2 654.7,614.0 654.9,615.7 655.1,613.1 655.3,614.3 655.5,615.0 655.7,612.6 655.9,615.7 656.1,615.4 656.3,611.7 656.5,615.9 656.7,616.8 656.9,612.5 657.1,617.1 657.3,614.7 657.5,612.3 657.7,613.2 657.8,613.6 658.0,617.0 658.2,614.8 658.4,615.2 658.6,613.3 658.8,616.4 659.0,613.6 659.2,615.1 659.4,618.1 659.6,618.4 659.8,615.8 660.0,617.0 660.2,618.4 660.4,617.3 660.6,620.2 660.8,620.6 661.0,617.5 661.2,615.0 661.4,617.5 661.6,621.1 661.8,620.7 662.0,620.9 662.2,620.9 662.4,617.3 662.6,619.2 662.7,621.1 662.9,619.3 663.1,620.8 663.3,616.6 663.5,616.3 663.7,623.7 663.9,621.0 664.1,620.7 664.3,622.7 664.5,624.5 664.7,626.1 664.9,614.2 665.1,620.6 665.3,622.2 665.5,615.5 665.7,615.9 665.9,619.7 666.1,624.4 666.3,622.4 666.5,625.2 666.7,621.0 666.9,622.9 667.1,624.0 667.3,621.6 667.5,620.6 667.6,621.0 667.8,612.4 668.0,621.6 668.2,616.7 668.4,619.1 668.6,622.7 668.8,622.1 669.0,616.7 669.2,622.5 669.4,623.1 669.6,621.9 669.8,623.0 670.0,622.8 670.2,617.7 670.4,621.2 670.6,621.0 670.8,619.0 671.0,621.7 671.2,620.0 671.4,621.8 671.6,620.0 671.8,624.5 672.0,627.2 672.2,620.9 672.4,622.3 672.5,622.4 672.7,623.4 672.9,622.0 673.1,617.4 673.3,623.3 673.5,622.3 673.7,620.2 673.9,622.2 674.1,621.6 674.3,623.3 674.5,622.1 674.7,622.2 674.9,623.2 675.1,623.5 675.3,623.1 675.5,625.7 675.7,623.7 675.9,621.4 676.1,627.1 676.3,623.5 676.5,626.8 676.7,620.9 676.9,624.7 677.1,627.3 677.3,626.3 677.4,623.7 677.6,622.2 677.8,622.2 678.0,623.2 678.2,621.5 678.4,622.0 678.6,621.5 678.8,621.5 679.0,624.4 679.2,619.8 679.4,624.3 679.6,625.5 679.8,621.8 680.0,621.9 680.2,624.1 680.4,624.0 680.6,626.2 680.8,619.6 681.0,624.0 681.2,627.3 681.4,624.4 681.6,628.2 681.8,629.2 682.0,623.1 682.2,627.7 682.3,625.5 682.5,624.3 682.7,623.8 682.9,623.9 683.1,622.4 683.3,624.1 683.5,626.6 683.7,627.4 683.9,623.7 684.1,625.8 684.3,625.7 684.5,619.3 684.7,626.3 684.9,621.9 685.1,622.1 685.3,626.6 685.5,628.5 685.7,622.3 685.9,622.8 686.1,622.7 686.3,623.6 686.5,624.0 686.7,623.0 686.9,621.2 687.1,628.9 687.2,623.8 687.4,623.2 687.6,627.0 687.8,624.1 688.0,627.4 688.2,626.8 688.4,627.2 688.6,624.1 688.8,626.5 689.0,621.6 689.2,622.0 689.4,625.3 689.6,624.4 689.8,628.2 690.0,624.6 690.2,621.2 690.4,625.3 690.6,624.6 690.8,625.7 691.0,622.6 691.2,623.5 691.4,625.4 691.6,627.0 691.8,626.3 692.0,627.1 692.1,622.1 692.3,624.9 692.5,625.9 692.7,627.6 692.9,626.1 693.1,624.9 693.3,625.2 693.5,625.3 693.7,622.3 693.9,625.6 694.1,627.4 694.3,627.2 694.5,621.4 694.7,625.6 694.9,622.3 695.1,628.2 695.3,626.9 695.5,627.3 695.7,624.3 695.9,621.4 696.1,623.5 696.3,625.0 696.5,622.5 696.7,623.6 696.9,629.8 697.0,623.0 697.2,627.2 697.4,621.8 697.6,626.6 697.8,627.9 698.0,627.0 698.2,628.8 698.4,630.1 698.6,623.0 698.8,626.7 699.0,627.3 699.2,627.2 699.4,629.8 699.6,626.9 699.8,629.0 700.0,628.9 700.2,626.7 700.4,627.7 700.6,624.7 700.8,627.2 701.0,627.0 701.2,626.2 701.4,625.6 701.6,628.8 701.8,626.4 701.9,631.8 702.1,629.7 702.3,628.5 702.5,625.6 702.7,628.9 702.9,627.3 703.1,627.2 703.3,624.6 703.5,628.4 703.7,627.7 703.9,626.1 704.1,625.7 704.3,626.6 704.5,624.4 704.7,626.1 704.9,630.5 705.1,626.0 705.3,632.7 705.5,624.6 705.7,630.0 705.9,630.1 706.1,630.3 706.3,629.0 706.5,624.2 706.7,630.4 706.8,630.3 707.0,628.0 707.2,622.7 707.4,630.4 707.6,626.0 707.8,627.5 708.0,630.9 708.2,631.2 708.4,629.1 708.6,627.1 708.8,632.2 709.0,631.0 709.2,628.1 709.4,626.4 709.6,629.2 709.8,625.6 710.0,632.6 710.2,629.8 710.4,628.0 710.6,629.7 710.8,625.1 711.0,628.7 711.2,627.5 711.4,625.5 711.6,627.6 711.7,629.9 711.9,625.9 712.1,628.7 712.3,626.0 712.5,629.7 712.7,625.4 712.9,631.0 713.1,630.9 713.3,631.3 713.5,633.5 713.7,629.9 713.9,629.9 714.1,631.0 714.3,628.7 714.5,625.5 714.7,627.1 714.9,627.1 715.1,630.3 715.3,628.5 715.5,629.1 715.7,631.3 715.9,630.5 716.1,634.6 716.3,630.1 716.5,628.1 716.6,633.1 716.8,629.4 717.0,630.2 717.2,632.6 717.4,630.8 717.6,632.0 717.8,629.2 718.0,629.9 718.2,632.0 718.4,629.5 718.6,629.8 718.8,630.7 719.0,634.3 719.2,634.1 719.4,631.4 719.6,631.1 719.8,629.5 720.0,634.0 720.2,632.0 720.4,633.2 720.6,628.1 720.8,633.0 721.0,631.6 721.2,633.0 721.4,633.6 721.5,631.4 721.7,630.6 721.9,633.0 722.1,628.8 722.3,634.7 722.5,632.4 722.7,629.2 722.9,634.5 723.1,633.9 723.3,635.2 723.5,634.0 723.7,633.0 723.9,631.8 724.1,629.6 724.3,633.7 724.5,633.4 724.7,631.2 724.9,633.4 725.1,630.2 725.3,634.6 725.5,632.6 725.7,632.8 725.9,630.7 726.1,634.5 726.3,632.8 726.4,631.2 726.6,633.3 726.8,632.1 727.0,634.9 727.2,629.2 727.4,630.1 727.6,637.1 727.8,631.6 728.0,633.8 728.2,631.9 728.4,633.3 728.6,638.6 728.8,628.5 729.0,634.1 729.2,633.1 729.4,633.1 729.6,631.3 729.8,631.0 730.0,636.1 730.2,634.2 730.4,630.5 730.6,633.2 730.8,630.3 731.0,639.6 731.2,634.1 731.3,629.4 731.5,635.4 731.7,634.8 731.9,634.1 732.1,633.9 732.3,632.3 732.5,633.1 732.7,629.1 732.9,636.5 733.1,638.0 733.3,634.8 733.5,635.0 733.7,630.7 733.9,632.8 734.1,630.7 734.3,630.9 734.5,635.0 734.7,637.0 734.9,633.8 735.1,639.4 735.3,635.8 735.5,629.0 735.7,633.1 735.9,636.9 736.1,634.4 736.2,636.4 736.4,630.4 736.6,636.9 736.8,631.6 737.0,634.9 737.2,638.9 737.4,634.4 737.6,633.7 737.8,636.0 738.0,632.5 738.2,632.2 738.4,636.5 738.6,631.1 738.8,631.7 739.0,638.3 739.2,631.7 739.4,635.4 739.6,636.9 739.8,634.3 740.0,632.2 740.2,636.3 740.4,632.5 740.6,639.2 740.8,639.4 741.0,632.3 741.1,635.9 741.3,633.0 741.5,635.4 741.7,634.1 741.9,632.5 742.1,635.8 742.3,631.0 742.5,635.3 742.7,634.3 742.9,632.9 743.1,636.7 743.3,634.8 743.5,633.9 743.7,634.3 743.9,634.2 744.1,636.7 744.3,634.1 744.5,628.3 744.7,627.9 744.9,632.4 745.1,631.9 745.3,634.1 745.5,631.7 745.7,632.9 745.9,637.5 746.0,631.7 746.2,636.5 746.4,634.3 746.6,637.4 746.8,636.5 747.0,634.6 747.2,636.8 747.4,634.9 747.6,631.9 747.8,635.4 748.0,635.4 748.2,634.0 748.4,634.7 748.6,633.2 748.8,634.8 749.0,633.4 749.2,630.5 749.4,633.3 749.6,637.3 749.8,635.5 750.0,636.9 750.2,633.5 750.4,632.5 750.6,631.0 750.8,633.6 750.9,635.4 751.1,634.9 751.3,634.6 751.5,631.7 751.7,633.0 751.9,630.9 752.1,634.4 752.3,633.7 752.5,630.9 752.7,632.5 752.9,627.1 753.1,633.5 753.3,630.0 753.5,630.9 753.7,632.9 753.9,632.9 754.1,629.8 754.3,634.7 754.5,635.5 754.7,634.1 754.9,633.7 755.1,630.8 755.3,633.6 755.5,628.4 755.7,627.8 755.8,630.5 756.0,630.5 756.2,627.9 756.4,633.6 756.6,626.3 756.8,624.8 757.0,628.3 757.2,632.8 757.4,630.6 757.6,629.6 757.8,629.0 758.0,629.8 758.2,629.1 758.4,628.4 758.6,627.8 758.8,624.3 759.0,629.9 759.2,626.7 759.4,628.3 759.6,628.4 759.8,629.5 760.0,625.3 760.2,628.7 760.4,628.6 760.6,626.3 760.7,626.2 760.9,626.5 761.1,623.7 761.3,624.7 761.5,623.0 761.7,628.0 761.9,623.3 762.1,622.4 762.3,624.9 762.5,625.5 762.7,623.1 762.9,621.5 763.1,624.4 763.3,625.0 763.5,619.1 763.7,624.5 763.9,618.1 764.1,623.3 764.3,620.5 764.5,620.6 764.7,622.5 764.9,623.8 765.1,624.9 765.3,622.9 765.5,621.0 765.6,615.9 765.8,617.7 766.0,618.6 766.2,616.5 766.4,618.8 766.6,616.5 766.8,620.9 767.0,615.9 767.2,613.0 767.4,614.3 767.6,613.4 767.8,616.3 768.0,617.6 768.2,616.3 768.4,615.9 768.6,611.5 768.8,610.1 769.0,610.4 769.2,611.9 769.4,610.6 769.6,611.7 769.8,613.0 770.0,610.4 770.2,613.8 770.4,607.6 770.5,610.5 770.7,608.4 770.9,610.5 771.1,607.7 771.3,606.1 771.5,606.7 771.7,604.5 771.9,603.5 772.1,607.7 772.3,603.9 772.5,607.9 772.7,610.6 772.9,603.3 773.1,605.9 773.3,603.3 773.5,598.6 773.7,602.5 773.9,605.9 774.1,599.1 774.3,601.3 774.5,600.9 774.7,597.5 774.9,601.4 775.1,600.0 775.3,601.4 775.4,599.9 775.6,596.0 775.8,599.5 776.0,600.4 776.2,598.0 776.4,599.7 776.6,599.4 776.8,592.6 777.0,599.1 777.2,592.4 777.4,593.9 777.6,596.5 777.8,594.3 778.0,594.5 778.2,599.0 778.4,593.5 778.6,598.8 778.8,600.2 779.0,599.0 779.2,592.8 779.4,591.6 779.6,595.4 779.8,600.4 780.0,594.6 780.2,593.6 780.3,594.7 780.5,596.8 780.7,597.8 780.9,594.9 781.1,594.6 781.3,596.1 781.5,595.0 781.7,593.9 781.9,590.7 782.1,595.3 782.3,593.6 782.5,594.6 782.7,594.5 782.9,593.1 783.1,596.8 783.3,598.1 783.5,596.9 783.7,594.1 783.9,596.3 784.1,597.7 784.3,595.9 784.5,597.9 784.7,593.0 784.9,596.0 785.1,600.2 785.2,599.3 785.4,596.8 785.6,597.6 785.8,602.7 786.0,600.3 786.2,596.1 786.4,598.8 786.6,597.2 786.8,597.1 787.0,595.8 787.2,600.7 787.4,604.6 787.6,601.5 787.8,596.5 788.0,601.2 788.2,596.6 788.4,601.0 788.6,603.2 788.8,604.5 789.0,601.5 789.2,602.3 789.4,601.8 789.6,601.6 789.8,606.1 790.0,600.3 790.1,599.1 790.3,607.4 790.5,608.9 790.7,599.9 790.9,606.3 791.1,606.3 791.3,603.6 791.5,602.7 791.7,605.6 791.9,604.7 792.1,607.8 792.3,604.6 792.5,609.3 792.7,605.3 792.9,610.9 793.1,609.5 793.3,610.4 793.5,607.1 793.7,607.8 793.9,608.4 794.1,611.7 794.3,607.7 794.5,607.7 794.7,609.3 794.9,611.0 795.0,610.3 795.2,610.6 795.4,608.0 795.6,609.9 795.8,609.2 796.0,614.4 796.2,612.2 796.4,614.1 796.6,609.8 796.8,613.0 797.0,614.3 797.2,611.3 797.4,612.5 797.6,613.1 797.8,614.9 798.0,615.5 798.2,611.8 798.4,616.1 798.6,616.1 798.8,616.6 799.0,614.1 799.2,616.2 799.4,619.6 799.6,619.5 799.8,615.7 799.9,621.0 800.1,616.6 800.3,615.8 800.5,620.6 800.7,619.0 800.9,623.8 801.1,618.2 801.3,619.3 801.5,620.9 801.7,620.1 801.9,618.8 802.1,620.0 802.3,620.2 802.5,620.5 802.7,620.7 802.9,617.5 803.1,623.3 803.3,620.1 803.5,621.2 803.7,620.3 803.9,621.8 804.1,624.8 804.3,625.7 804.5,623.9 804.7,623.8 804.8,622.5 805.0,623.3 805.2,624.7 805.4,624.1 805.6,622.5 805.8,625.2 806.0,622.9 806.2,630.2 806.4,626.5 806.6,624.8 806.8,627.4 807.0,625.0 807.2,626.4 807.4,630.7 807.6,630.4 807.8,625.1 808.0,625.6 808.2,627.2 808.4,633.6 808.6,629.0 808.8,629.8 809.0,628.3 809.2,632.7 809.4,632.2 809.6,626.5 809.7,628.7 809.9,626.8 810.1,628.6 810.3,629.6 810.5,628.8 810.7,630.6 810.9,633.8 811.1,635.1 811.3,633.1 811.5,634.7 811.7,630.4 811.9,636.9 812.1,639.0 812.3,633.9 812.5,635.8 812.7,635.6 812.9,630.4 813.1,637.6 813.3,636.7 813.5,632.4 813.7,635.3 813.9,639.0 814.1,638.0 814.3,634.0 814.5,636.1 814.6,636.1 814.8,638.2 815.0,636.6 815.2,638.5 815.4,638.3 815.6,635.7 815.8,640.1 816.0,640.0 816.2,638.2 816.4,641.6 816.6,645.1 816.8,637.1 817.0,641.2 817.2,642.8 817.4,641.3 817.6,640.3 817.8,646.4 818.0,640.9 818.2,642.0 818.4,641.1 818.6,645.3 818.8,638.4 819.0,641.3 819.2,642.5 819.4,644.4 819.5,644.7 819.7,646.3 819.9,644.1 820.1,643.1 820.3,644.7 820.5,643.3 820.7,644.2 820.9,644.5 821.1,646.4 821.3,647.7 821.5,643.9 821.7,645.1 821.9,646.6 822.1,646.8 822.3,646.5 822.5,648.4 822.7,647.0 822.9,644.0 823.1,650.6 823.3,645.4 823.5,651.6 823.7,648.9 823.9,649.2 824.1,645.7 824.3,649.5 824.4,648.7 824.6,647.5 824.8,650.6 825.0,651.2 825.2,652.2 825.4,647.4 825.6,648.5 825.8,653.1 826.0,651.5 826.2,652.2 826.4,649.6 826.6,651.6 826.8,652.7 827.0,648.6 827.2,649.9 827.4,651.9 827.6,654.3 827.8,650.8 828.0,653.1 828.2,650.2 828.4,649.6 828.6,653.4 828.8,650.1 829.0,652.4 829.2,651.2 829.3,653.5 829.5,650.0 829.7,649.8 829.9,649.8 830.1,652.4 830.3,655.4 830.5,654.6 830.7,653.4 830.9,652.8 831.1,655.6 831.3,653.0 831.5,655.4 831.7,656.1 831.9,654.8 832.1,654.3 832.3,654.3 832.5,653.5 832.7,654.3 832.9,652.0 833.1,652.1 833.3,657.0 833.5,653.7 833.7,650.6 833.9,656.8 834.1,656.9 834.2,655.1 834.4,651.8 834.6,658.3 834.8,656.6 835.0,657.0 835.2,654.1 835.4,655.5 835.6,654.2 835.8,654.3 836.0,652.5 836.2,653.3 836.4,654.0 836.6,655.1 836.8,657.1 837.0,656.3 837.2,651.6 837.4,657.4 837.6,652.3 837.8,656.4 838.0,655.1 838.2,655.7 838.4,654.6 838.6,653.6 838.8,658.9 839.0,650.9 839.1,654.1 839.3,658.5 839.5,655.9 839.7,656.0 839.9,654.4 840.1,653.9 840.3,657.4 840.5,655.9 840.7,657.0 840.9,657.9 841.1,653.0 841.3,654.4 841.5,655.2 841.7,657.0 841.9,658.0 842.1,654.6 842.3,656.3 842.5,656.6 842.7,656.6 842.9,660.0 843.1,655.5 843.3,657.4 843.5,652.5 843.7,656.9 843.9,657.4 844.0,658.7 844.2,656.3 844.4,656.2 844.6,655.0 844.8,656.5 845.0,662.2 845.2,654.2 845.4,654.2 845.6,657.9 845.8,655.9 846.0,660.3 846.2,654.8 846.4,661.2 846.6,657.1 846.8,654.7 847.0,653.6 847.2,656.3 847.4,656.9 847.6,658.9 847.8,655.7 848.0,664.3 848.2,660.0 848.4,658.0 848.6,657.3 848.8,663.8 848.9,657.0 849.1,660.1 849.3,661.6 849.5,656.8 849.7,659.9 849.9,657.8 850.1,661.6 850.3,661.8 850.5,660.0 850.7,659.3 850.9,656.6 851.1,664.0 851.3,662.1 851.5,660.6 851.7,662.2 851.9,659.3 852.1,657.1 852.3,661.2 852.5,657.5 852.7,658.4 852.9,661.0 853.1,656.4 853.3,659.6 853.5,659.0 853.7,657.4 853.8,657.3 854.0,659.3 854.2,659.2 854.4,660.1 854.6,656.9 854.8,660.1 855.0,657.4 855.2,658.4 855.4,661.9 855.6,658.7 855.8,659.1 856.0,658.5 856.2,660.2 856.4,661.9 856.6,659.6 856.8,661.6 857.0,657.7 857.2,661.3 857.4,660.2 857.6,660.6 857.8,658.6 858.0,659.3 858.2,661.1 858.4,658.2 858.6,662.1 858.7,659.8 858.9,661.6 859.1,658.5 859.3,657.5 859.5,662.0 859.7,662.2 859.9,660.8 860.1,662.2 860.3,660.9 860.5,662.3 860.7,661.3 860.9,659.1 861.1,663.2 861.3,659.2 861.5,665.6 861.7,660.8 861.9,659.3 862.1,660.8 862.3,661.4 862.5,661.5 862.7,662.4 862.9,660.2 863.1,657.3 863.3,659.7 863.5,662.3 863.6,663.7 863.8,657.6 864.0,661.7 864.2,663.7 864.4,658.8 864.6,665.0 864.8,660.1 865.0,661.4 865.2,660.7 865.4,665.2 865.6,663.5 865.8,662.0 866.0,661.1 866.2,658.5 866.4,661.3 866.6,660.7 866.8,661.6 867.0,658.1 867.2,664.4 867.4,663.8 867.6,665.1 867.8,660.9 868.0,662.0 868.2,659.6 868.4,663.8 868.5,661.7 868.7,665.4 868.9,663.6 869.1,663.7 869.3,663.3 869.5,659.3 869.7,663.7 869.9,659.1 870.1,662.9 870.3,663.5 870.5,660.0 870.7,661.1 870.9,662.0 871.1,662.9 871.3,663.0 871.5,662.5 871.7,660.7 871.9,663.0 872.1,667.4 872.3,661.3 872.5,665.6 872.7,660.2 872.9,661.3 873.1,665.2 873.3,664.2 873.4,665.7 873.6,663.8 873.8,661.4 874.0,662.8 874.2,661.8 874.4,664.7 874.6,663.9 874.8,665.1 875.0,661.3 875.2,662.2 875.4,661.9 875.6,662.0 875.8,662.4 876.0,665.3 876.2,663.0 876.4,665.1 876.6,663.2 876.8,659.3 877.0,660.1 877.2,662.5 877.4,665.1 877.6,662.9 877.8,660.0 878.0,663.1 878.2,662.4 878.3,664.0 878.5,664.5 878.7,663.5 878.9,661.7 879.1,660.9 879.3,662.2 879.5,662.8 879.7,663.7 879.9,662.1 880.1,661.7 880.3,664.0 880.5,664.6 880.7,663.6 880.9,661.0 881.1,662.4 881.3,667.3 881.5,661.0 881.7,662.4 881.9,664.9 882.1,661.2 882.3,662.5 882.5,665.6 882.7,665.0 882.9,659.6 883.1,664.3 883.2,662.5 883.4,660.4 883.6,665.2 883.8,662.2 884.0,663.1 884.2,661.5 884.4,664.8 884.6,665.0 884.8,664.8 885.0,667.9 885.2,664.5 885.4,662.7 885.6,664.4 885.8,664.0 886.0,664.8 886.2,658.8 886.4,665.1 886.6,667.4 886.8,665.2 887.0,662.3 887.2,667.8 887.4,665.1 887.6,667.7 887.8,665.7 888.0,663.2 888.1,660.6 888.3,664.0 888.5,664.9 888.7,663.1 888.9,661.3 889.1,665.5 889.3,662.5 889.5,666.7 889.7,662.9 889.9,664.7 890.1,663.3 890.3,664.8 890.5,665.0 890.7,659.9 890.9,662.7 891.1,662.9 891.3,662.8 891.5,663.8 891.7,666.2 891.9,662.0 892.1,665.1 892.3,663.2 892.5,662.6 892.7,661.1 892.9,662.5 893.0,661.8 893.2,664.9 893.4,667.0 893.6,665.0 893.8,665.4 894.0,662.4 894.2,665.4 894.4,662.4 894.6,662.2 894.8,664.5 895.0,662.8 895.2,665.2 895.4,664.3 895.6,663.5 895.8,662.9 896.0,664.4 896.2,664.6 896.4,664.2 896.6,666.2 896.8,663.0 897.0,661.4 897.2,661.5 897.4,662.2 897.6,662.3 897.8,663.8 897.9,667.3 898.1,662.1 898.3,662.5 898.5,663.1 898.7,662.2 898.9,662.6 899.1,665.5 899.3,666.6 899.5,662.8 899.7,664.0 899.9,665.9 900.1,664.8 900.3,663.8 900.5,664.8 900.7,664.0 900.9,662.9 901.1,665.1 901.3,662.9 901.5,663.2 901.7,664.7 901.9,662.0 902.1,665.5 902.3,662.8 902.5,662.3 902.7,665.2 902.8,665.4 903.0,666.0 903.2,666.7 903.4,662.3 903.6,663.7 903.8,662.1 904.0,662.7 904.2,665.8 904.4,664.8 904.6,664.7 904.8,665.0 905.0,663.4 905.2,666.6 905.4,662.3 905.6,665.4 905.8,663.0 906.0,662.4 906.2,668.0 906.4,663.4 906.6,665.5 906.8,662.6 907.0,662.7 907.2,666.4 907.4,664.9 907.6,664.3 907.7,665.0 907.9,665.3 908.1,665.8 908.3,665.1 908.5,665.4 908.7,664.7 908.9,664.4 909.1,666.2 909.3,660.0 909.5,665.7 909.7,664.2 909.9,664.5 910.1,663.6 910.3,662.8 910.5,665.2 910.7,661.8 910.9,662.2 911.1,662.2 911.3,667.2 911.5,664.0 911.7,664.0 911.9,661.3 912.1,664.1 912.3,665.6 912.5,661.9 912.6,664.1 912.8,664.3 913.0,665.1 913.2,665.8 913.4,667.7 913.6,663.9 913.8,664.0 914.0,662.7 914.2,665.7 914.4,663.8 914.6,664.8 914.8,665.2 915.0,663.6 915.2,663.5 915.4,664.2 915.6,664.1 915.8,664.0 916.0,663.6 916.2,663.8 916.4,666.1 916.6,662.7 916.8,664.0 917.0,663.8 917.2,665.8 917.4,662.8 917.5,663.4 917.7,662.8 917.9,665.3 918.1,665.0 918.3,664.6 918.5,664.1 918.7,668.0 918.9,664.4 919.1,660.1 919.3,661.0 919.5,661.1 919.7,662.9 919.9,660.9 920.1,663.7 920.3,661.0 920.5,663.6 920.7,662.5 920.9,664.6 921.1,663.9 921.3,661.8 921.5,667.0 921.7,661.5 921.9,662.6 922.1,661.0 922.3,665.4 922.4,665.4 922.6,663.4 922.8,658.9 923.0,665.0 923.2,666.9 923.4,661.9 923.6,664.4 923.8,665.2 924.0,663.6 924.2,661.3 924.4,663.1 924.6,662.3 924.8,664.5 925.0,660.1 925.2,664.5 925.4,663.6 925.6,660.5 925.8,661.5 926.0,664.5 926.2,665.9 926.4,665.0 926.6,669.0 926.8,663.7 927.0,661.1 927.2,663.4 927.3,662.0 927.5,658.8 927.7,665.4 927.9,661.4 928.1,661.5 928.3,666.8 928.5,662.1 928.7,661.7 928.9,664.9 929.1,666.8 929.3,659.7 929.5,661.2 929.7,662.0 929.9,664.7 930.1,663.7 930.3,665.4 930.5,660.4 930.7,663.0 930.9,666.0 931.1,659.7 931.3,665.3 931.5,661.6 931.7,663.7 931.9,661.1 932.1,664.4 932.2,664.7 932.4,662.8 932.6,666.3 932.8,661.2 933.0,665.0 933.2,660.9 933.4,665.0 933.6,664.7 933.8,661.7 934.0,666.1 934.2,663.0 934.4,660.4 934.6,662.5 934.8,664.8 935.0,663.2 935.2,664.8 935.4,665.8 935.6,664.7 935.8,664.1 936.0,663.5 936.2,664.0 936.4,665.9 936.6,661.9 936.8,662.7 937.0,664.6 937.1,661.1 937.3,665.0 937.5,663.1 937.7,664.0 937.9,661.8 938.1,662.6 938.3,665.3 938.5,660.9 938.7,664.9 938.9,665.1 939.1,663.1 939.3,659.2 939.5,660.8 939.7,663.7 939.9,665.0 940.1,660.2 940.3,663.6 940.5,663.4 940.7,660.0 940.9,663.2 941.1,661.4 941.3,660.0 941.5,666.3 941.7,661.4 941.9,660.1 942.0,660.1 942.2,666.6 942.4,664.7 942.6,663.9 942.8,661.2 943.0,663.5 943.2,662.9 943.4,664.2 943.6,659.9 943.8,664.2 944.0,664.7 944.2,661.0 944.4,660.9 944.6,662.5 944.8,660.1 945.0,662.1 945.2,662.1 945.4,665.4 945.6,660.7 945.8,662.0 946.0,665.2 946.2,659.3 946.4,664.6 946.6,661.7 946.8,663.8 946.9,662.6 947.1,663.8 947.3,656.1 947.5,661.2 947.7,658.3 947.9,662.0 948.1,661.3 948.3,662.7 948.5,665.8 948.7,663.6 948.9,663.3 949.1,663.8 949.3,662.1 949.5,665.5 949.7,663.8 949.9,662.6 950.1,664.9 950.3,661.8 950.5,661.5 950.7,660.8 950.9,659.7 951.1,660.1 951.3,664.8 951.5,661.6 951.7,662.4 951.8,663.8 952.0,662.1 952.2,660.5 952.4,660.7 952.6,661.5 952.8,664.4 953.0,661.3 953.2,661.2 953.4,663.4 953.6,662.4 953.8,662.4 954.0,662.8 954.2,665.6 954.4,661.6 954.6,661.4 954.8,665.8 955.0,660.5 955.2,658.9 955.4,663.9 955.6,661.3 955.8,662.2 956.0,662.4 956.2,660.0 956.4,663.2 956.6,659.8 956.7,663.8 956.9,664.4 957.1,660.8 957.3,664.3 957.5,662.5 957.7,665.8 957.9,662.2 958.1,658.6 958.3,658.6 958.5,663.9 958.7,661.2 958.9,662.9 959.1,659.9 959.3,661.0 959.5,657.7 959.7,662.8 959.9,663.6 960.1,660.5 960.3,663.0 960.5,660.6 960.7,662.7 960.9,661.1 961.1,660.3 961.3,662.9 961.5,658.3 961.6,665.5 961.8,658.8 962.0,658.0 962.2,662.5 962.4,659.9 962.6,663.1 962.8,659.1 963.0,664.8 963.2,664.4 963.4,659.8 963.6,665.8 963.8,661.0 964.0,661.9 964.2,660.6 964.4,662.4 964.6,662.6 964.8,661.6 965.0,662.4 965.2,662.1 965.4,662.8 965.6,659.2 965.8,661.0 966.0,659.5 966.2,661.7 966.4,661.7 966.5,661.4 966.7,660.4 966.9,665.4 967.1,659.9 967.3,662.8 967.5,660.9 967.7,664.6 967.9,664.1 968.1,662.6 968.3,663.1 968.5,660.1 968.7,659.7 968.9,663.2 969.1,661.7 969.3,658.7 969.5,661.4 969.7,659.1 969.9,658.9 970.1,661.6 970.3,661.8 970.5,661.0 970.7,660.7 970.9,659.6 971.1,661.2 971.3,661.4 971.4,660.7 971.6,666.3 971.8,661.1 972.0,661.8 972.2,660.1 972.4,661.3 972.6,661.7 972.8,662.7 973.0,655.7 973.2,663.7 973.4,662.7 973.6,662.1 973.8,659.6 974.0,658.1 974.2,659.4 974.4,662.9 974.6,662.9 974.8,661.6 975.0,663.0 975.2,659.7 975.4,659.4 975.6,664.0 975.8,663.7 976.0,663.1 976.2,663.7 976.3,661.5 976.5,657.1 976.7,661.0 976.9,663.7 977.1,661.1 977.3,662.9 977.5,662.8 977.7,659.8 977.9,662.6 978.1,661.7 978.3,658.7 978.5,663.6 978.7,659.4 978.9,662.4 979.1,662.5 979.3,660.0 979.5,659.7 979.7,662.4 979.9,662.0 980.1,663.9 980.3,661.9 980.5,662.5 980.7,661.8 980.9,663.4 981.1,659.5 981.2,657.8 981.4,662.5 981.6,661.1 981.8,660.2 982.0,664.8 982.2,658.7 982.4,660.9 982.6,663.2 982.8,661.1 983.0,660.6 983.2,662.1 983.4,660.7 983.6,658.1 983.8,658.9 984.0,662.8 984.2,662.7 984.4,659.1 984.6,661.9 984.8,662.7 985.0,662.7 985.2,664.3 985.4,663.3 985.6,661.3 985.8,660.9 986.0,662.7 986.1,659.2 986.3,658.2 986.5,663.0 986.7,663.6 986.9,662.6 987.1,662.0 987.3,658.3 987.5,658.6 987.7,660.2 987.9,664.6 988.1,660.8 988.3,661.7 988.5,659.8 988.7,664.0 988.9,657.7 989.1,664.6 989.3,661.4 989.5,656.2 989.7,661.5 989.9,662.5 990.1,662.5 990.3,662.3 990.5,660.8 990.7,660.8 990.9,661.6 991.0,660.2 991.2,664.7 991.4,659.0 991.6,661.6 991.8,660.8 992.0,658.5 992.2,664.1 992.4,661.9 992.6,660.0 992.8,659.6 993.0,660.8 993.2,664.4 993.4,661.8 993.6,659.5 993.8,661.6 994.0,659.9 994.2,662.4 994.4,662.2 994.6,662.8 994.8,662.0 995.0,661.5 995.2,658.8 995.4,661.8 995.6,663.5 995.8,658.5 995.9,663.1 996.1,660.1 996.3,660.1 996.5,660.1 996.7,662.7 996.9,661.4 997.1,661.7 997.3,659.4 997.5,664.4 997.7,659.4 997.9,663.9 998.1,663.7 998.3,662.7 998.5,658.9 998.7,661.4 998.9,659.8 999.1,664.3 999.3,661.8 999.5,662.1 999.7,661.7 999.9,661.8 1000.1,663.3 1000.3,665.5 1000.5,662.8 1000.7,663.7 1000.8,662.6 1001.0,662.2 1001.2,659.0 1001.4,660.5 1001.6,660.1 1001.8,662.5 1002.0,655.6 1002.2,657.0 1002.4,660.3 1002.6,662.1 1002.8,660.6 1003.0,661.1 1003.2,662.7 1003.4,664.1 1003.6,664.6 1003.8,662.4 1004.0,663.4 1004.2,660.6 1004.4,659.6 1004.6,662.5 1004.8,664.4 1005.0,662.4 1005.2,657.6 1005.4,663.4 1005.6,665.1 1005.7,662.8 1005.9,660.9 1006.1,659.7 1006.3,659.2 1006.5,664.2 1006.7,660.8 1006.9,660.9 1007.1,661.0 1007.3,661.1 1007.5,662.1 1007.7,660.6 1007.9,662.0 1008.1,660.3 1008.3,659.9 1008.5,657.9 1008.7,661.6 1008.9,663.8 1009.1,662.5 1009.3,663.4 1009.5,660.6 1009.7,659.8 1009.9,659.8 1010.1,659.1 1010.3,662.8 1010.5,663.7 1010.6,659.9 1010.8,662.1 1011.0,658.5 1011.2,661.8 1011.4,662.7 1011.6,659.6 1011.8,663.6 1012.0,660.3 1012.2,661.7 1012.4,664.4 1012.6,658.1 1012.8,662.0 1013.0,660.6 1013.2,664.0 1013.4,661.0 1013.6,660.7 1013.8,662.0 1014.0,664.5 1014.2,659.9 1014.4,659.2 1014.6,659.5 1014.8,662.8 1015.0,657.5 1015.2,658.7 1015.4,659.7 1015.5,659.1 1015.7,660.5 1015.9,659.4 1016.1,656.9 1016.3,665.2 1016.5,662.8 1016.7,660.4 1016.9,659.7 1017.1,659.4 1017.3,657.1 1017.5,658.5 1017.7,661.1 1017.9,661.2 1018.1,663.4 1018.3,660.6 1018.5,659.4 1018.7,662.4 1018.9,661.8 1019.1,658.1 1019.3,659.2 1019.5,662.3 1019.7,659.1 1019.9,660.7 1020.1,658.6 1020.3,662.6 1020.4,664.6 1020.6,656.5 1020.8,658.5 1021.0,661.9 1021.2,661.1 1021.4,660.3 1021.6,657.9 1021.8,657.0 1022.0,659.6 1022.2,662.4 1022.4,662.4 1022.6,665.1 1022.8,657.0 1023.0,660.8 1023.2,661.0 1023.4,664.2 1023.6,659.1 1023.8,663.1 1024.0,657.3 1024.2,662.5 1024.4,658.5 1024.6,658.3 1024.8,661.0 1025.0,659.4 1025.2,660.8 1025.3,660.0 1025.5,658.6 1025.7,661.8 1025.9,659.6 1026.1,658.8 1026.3,658.7 1026.5,656.3 1026.7,657.4 1026.9,660.7 1027.1,660.5 1027.3,659.7 1027.5,662.6 1027.7,660.0 1027.9,660.0 1028.1,661.0 1028.3,660.7 1028.5,662.3 1028.7,658.9 1028.9,660.1 1029.1,660.0 1029.3,659.2 1029.5,659.8 1029.7,661.8 1029.9,662.9 1030.1,660.0 1030.2,659.9 1030.4,660.4 1030.6,662.1 1030.8,661.1 1031.0,663.2 1031.2,663.6 1031.4,662.2 1031.6,658.7 1031.8,659.1 1032.0,659.1 1032.2,658.9 1032.4,661.8 1032.6,658.5 1032.8,660.8 1033.0,659.0 1033.2,658.1 1033.4,662.2 1033.6,656.9 1033.8,662.4 1034.0,657.0 1034.2,660.7 1034.4,660.2 1034.6,660.2 1034.8,659.5 1035.0,658.3 1035.1,659.1 1035.3,662.3 1035.5,661.5 1035.7,664.1 1035.9,661.9 1036.1,660.8 1036.3,660.0 1036.5,659.3 1036.7,662.3 1036.9,658.9 1037.1,659.0 1037.3,658.3 1037.5,660.6 1037.7,665.9 1037.9,658.8 1038.1,656.1 1038.3,658.0 1038.5,661.1 1038.7,658.6 1038.9,658.3 1039.1,660.7 1039.3,659.1 1039.5,657.5 1039.7,660.1 1039.9,657.2 1040.0,658.9 1040.2,662.8 1040.4,654.7 1040.6,662.3 1040.8,655.4 1041.0,659.5 1041.2,654.8 1041.4,658.4 1041.6,657.5 1041.8,657.7 1042.0,657.3 1042.2,661.9 1042.4,660.9 1042.6,655.8 1042.8,655.4 1043.0,658.5 1043.2,656.0 1043.4,662.7 1043.6,661.6 1043.8,660.0 1044.0,655.3 1044.2,657.3 1044.4,660.7 1044.6,656.8 1044.8,660.1 1044.9,658.8 1045.1,660.5 1045.3,658.5 1045.5,658.5 1045.7,656.0 1045.9,658.3 1046.1,656.8 1046.3,659.9 1046.5,655.6 1046.7,660.2 1046.9,660.5 1047.1,659.7 1047.3,655.4 1047.5,655.8 1047.7,658.7 1047.9,658.5 1048.1,657.5 1048.3,657.8 1048.5,656.1 1048.7,656.2 1048.9,656.0 1049.1,657.0 1049.3,657.9 1049.5,657.4 1049.7,656.2 1049.8,660.2 1050.0,658.4 1050.2,656.0 1050.4,663.3 1050.6,652.8 1050.8,659.2 1051.0,658.6 1051.2,656.7 1051.4,655.8 1051.6,657.7 1051.8,659.9 1052.0,659.6 1052.2,658.7 1052.4,658.1 1052.6,657.8 1052.8,659.6 1053.0,657.9 1053.2,658.1 1053.4,660.4 1053.6,656.5 1053.8,658.2 1054.0,657.4 1054.2,655.8 1054.4,660.4 1054.6,655.6 1054.7,656.7 1054.9,655.7 1055.1,658.3 1055.3,658.5 1055.5,660.6 1055.7,660.6 1055.9,660.6 1056.1,658.4 1056.3,659.3 1056.5,656.8 1056.7,655.2 1056.9,659.7 1057.1,655.6 1057.3,658.5 1057.5,660.2 1057.7,657.1 1057.9,659.9"/>
<path stroke="#00f" d="M82.0,632.3 82.2,622.0 82.4,628.6 82.6,626.3 82.8,626.6 83.0,627.1 83.2,623.0 83.4,627.0 83.6,625.5 83.8,634.9 84.0,627.9 84.2,626.6 84.4,626.7 84.5,625.8 84.7,625.0 84.9,626.4 85.1,628.4 85.3,626.7 85.5,629.4 85.7,626.8 85.9,627.3 86.1,630.6 86.3,628.4 86.5,626.0 86.7,626.7 86.9,628.3 87.1,631.4 87.3,626.5 87.5,626.5 87.7,629.3 87.9,625.1 88.1,626.4 88.3,629.0 88.5,628.3 88.7,627.2 88.9,628.5 89.1,620.7 89.3,629.3 89.4,624.8 89.6,623.2 89.8,627.6 90.0,628.5 90.2,626.0 90.4,624.5 90.6,627.0 90.8,626.8 91.0,630.1 91.2,628.6 91.4,627.4 91.6,629.4 91.8,626.5 92.0,624.8 92.2,628.2 92.4,628.2 92.6,626.4 92.8,625.2 93.0,627.4 93.2,621.3 93.4,628.5 93.6,628.0 93.8,623.2 94.0,627.0 94.2,624.7 94.3,628.6 94.5,622.3 94.7,624.9 94.9,628.5 95.1,629.5 95.3,622.1 95.5,625.8 95.7,627.6 95.9,625.5 96.1,630.5 96.3,624.2 96.5,627.7 96.7,624.6 96.9,630.1 97.1,626.9 97.3,626.1 97.5,623.1 97.7,630.7 97.9,628.7 98.1,628.7 98.3,629.6 98.5,627.9 98.7,625.7 98.9,625.4 99.1,625.4 99.2,630.3 99.4,624.0 99.6,626.0 99.8,626.6 100.0,627.9 100.2,628.7 100.4,624.7 100.6,623.6 100.8,627.5 101.0,630.3 101.2,629.3 101.4,628.2 101.6,627.0 101.8,628.4 102.0,627.3 102.2,629.7 102.4,626.2 102.6,628.3 102.8,627.8 103.0,629.3 103.2,628.7 103.4,633.9 103.6,631.6 103.8,631.7 104.0,623.8 104.1,627.7 104.3,627.2 104.5,629.7 104.7,623.5 104.9,631.3 105.1,631.1 105.3,625.9 105.5,626.7 105.7,627.1 105.9,629.0 106.1,630.4 106.3,633.6 106.5,628.7 106.7,630.9 106.9,629.6 107.1,633.2 107.3,631.0 107.5,632.4 107.7,627.0 107.9,629.0 108.1,627.7 108.3,632.9 108.5,631.0 108.7,628.9 108.9,628.6 109.0,630.8 109.2,628.2 109.4,627.7 109.6,630.9 109.8,635.3 110.0,629.3 110.2,628.6 110.4,627.3 110.6,627.0 110.8,631.1 111.0,631.8 111.2,630.0 111.4,630.7 111.6,630.2 111.8,630.3 112.0,626.6 112.2,629.0 112.4,630.2 112.6,628.3 112.8,628.9 113.0,628.2 113.2,629.3 113.4,631.9 113.6,629.1 113.8,629.6 113.9,631.8 114.1,631.4 114.3,633.7 114.5,625.3 114.7,631.8 114.9,628.9 115.1,630.2 115.3,631.8 115.5,632.3 115.7,632.2 115.9,630.2 116.1,633.4 116.3,629.2 116.5,629.5 116.7,631.6 116.9,628.6 117.1,634.6 117.3,632.1 117.5,634.6 117.7,629.7 117.9,628.9 118.1,630.1 118.3,631.3 118.5,628.4 118.7,630.5 118.8,629.6 119.0,633.2 119.2,628.2 119.4,631.9 119.6,628.2 119.8,627.4 120.0,628.0 120.2,626.9 120.4,629.8 120.6,631.8 120.8,629.8 121.0,630.8 121.2,633.0 121.4,630.0 121.6,629.8 121.8,628.7 122.0,625.8 122.2,631.0 122.4,625.4 122.6,630.7 122.8,629.2 123.0,631.7 123.2,629.0 123.4,627.3 123.6,629.9 123.7,627.9 123.9,628.7 124.1,629.2 124.3,628.7 124.5,628.6 124.7,627.1 124.9,628.5 125.1,624.2 125.3,628.6 125.5,626.2 125.7,631.3 125.9,631.7 126.1,624.5 126.3,629.1 126.5,628.5 126.7,626.4 126.9,629.9 127.1,627.6 127.3,624.7 127.5,628.0 127.7,628.3 127.9,628.8 128.1,625.8 128.3,629.9 128.5,630.1 128.6,625.9 128.8,627.0 129.0,628.2 129.2,627.1 129.4,632.2 129.6,628.8 129.8,626.0 130.0,626.5 130.2,628.1 130.4,633.3 130.6,627.7 130.8,628.4 131.0,629.2 131.2,627.9 131.4,633.1 131.6,626.8 131.8,629.6 132.0,628.2 132.2,629.2 132.4,625.2 132.6,631.7 132.8,627.4 133.0,627.8 133.2,625.5 133.4,626.0 133.5,628.8 133.7,629.7 133.9,629.1 134.1,630.1 134.3,629.0 134.5,627.4 134.7,629.1 134.9,628.6 135.1,627.0 135.3,628.8 135.5,630.0 135.7,627.6 135.9,626.2 136.1,628.5 136.3,631.1 136.5,626.4 136.7,626.6 136.9,626.4 137.1,629.4 137.3,622.5 137.5,627.4 137.7,629.2 137.9,624.6 138.1,629.8 138.3,627.6 138.4,625.1 138.6,626.7 138.8,622.7 139.0,624.9 139.2,630.2 139.4,624.0 139.6,630.1 139.8,625.7 140.0,628.1 140.2,625.9 140.4,620.7 140.6,624.4 140.8,626.0 141.0,623.0 141.2,622.5 141.4,626.3 141.6,623.9 141.8,621.5 142.0,623.7 142.2,627.1 142.4,624.1 142.6,627.2 142.8,628.5 143.0,625.0 143.2,622.4 143.3,621.9 143.5,624.7 143.7,626.7 143.9,625.3 144.1,625.8 144.3,623.5 144.5,625.1 144.7,623.3 144.9,623.6 145.1,621.4 145.3,620.7 145.5,623.1 145.7,621.6 145.9,621.8 146.1,625.5 146.3,623.6 146.5,630.4 146.7,625.8 146.9,622.3 147.1,625.4 147.3,624.4 147.5,621.9 147.7,625.9 147.9,621.6 148.1,616.3 148.2,625.0 148.4,621.7 148.6,626.4 148.8,621.5 149.0,620.2 149.2,626.3 149.4,620.3 149.6,623.1 149.8,625.9 150.0,622.8 150.2,622.3 150.4,622.6 150.6,624.2 150.8,620.4 151.0,623.5 151.2,623.4 151.4,627.3 151.6,621.1 151.8,619.7 152.0,623.4 152.2,620.7 152.4,622.2 152.6,621.7 152.8,624.0 153.0,619.8 153.1,621.0 153.3,615.3 153.5,618.9 153.7,624.4 153.9,619.2 154.1,619.1 154.3,617.8 154.5,621.8 154.7,620.8 154.9,617.6 155.1,621.7 155.3,620.7 155.5,621.7 155.7,618.4 155.9,623.7 156.1,620.6 156.3,619.2 156.5,618.2 156.7,618.7 156.9,621.1 157.1,618.4 157.3,621.4 157.5,620.1 157.7,621.8 157.9,620.4 158.0,618.3 158.2,613.9 158.4,618.8 158.6,619.8 158.8,618.2 159.0,618.9 159.2,616.4 159.4,616.5 159.6,615.0 159.8,620.2 160.0,617.2 160.2,615.5 160.4,613.4 160.6,615.9 160.8,619.4 161.0,617.0 161.2,614.1 161.4,618.8 161.6,618.6 161.8,617.4 162.0,616.8 162.2,617.4 162.4,615.8 162.6,616.1 162.8,612.3 162.9,617.4 163.1,614.2 163.3,618.2 163.5,608.5 163.7,614.7 163.9,615.1 164.1,611.8 164.3,613.4 164.5,613.8 164.7,613.2 164.9,610.4 165.1,611.1 165.3,613.6 165.5,613.9 165.7,610.9 165.9,610.6 166.1,610.7 166.3,612.4 166.5,607.2 166.7,606.4 166.9,609.5 167.1,606.4 167.3,607.4 167.5,608.7 167.7,609.4 167.8,605.4 168.0,609.6 168.2,603.2 168.4,608.5 168.6,603.2 168.8,603.6 169.0,607.9 169.2,605.1 169.4,603.9 169.6,604.4 169.8,606.3 170.0,604.7 170.2,604.5 170.4,606.8 170.6,602.3 170.8,602.5 171.0,602.1 171.2,605.8 171.4,605.1 171.6,605.5 171.8,602.0 172.0,601.3 172.2,603.4 172.4,600.1 172.6,602.7 172.7,602.1 172.9,598.4 173.1,599.5 173.3,599.1 173.5,603.2 173.7,604.9 173.9,598.0 174.1,598.0 174.3,592.0 174.5,597.7 174.7,596.8 174.9,593.9 175.1,598.0 175.3,591.9 175.5,594.9 175.7,595.3 175.9,591.6 176.1,596.4 176.3,596.5 176.5,590.1 176.7,589.7 176.9,594.2 177.1,592.3 177.3,589.0 177.5,590.8 177.6,590.9 177.8,590.4 178.0,592.4 178.2,590.9 178.4,593.9 178.6,592.4 178.8,590.3 179.0,590.8 179.2,591.0 179.4,589.0 179.6,583.7 179.8,588.4 180.0,585.9 180.2,591.6 180.4,585.1 180.6,586.3 180.8,585.0 181.0,589.7 181.2,583.3 181.4,580.9 181.6,582.6 181.8,579.0 182.0,580.6 182.2,579.2 182.4,579.5 182.5,585.1 182.7,575.1 182.9,576.0 183.1,574.2 183.3,576.7 183.5,568.6 183.7,569.6 183.9,571.4 184.1,572.9 184.3,569.8 184.5,567.4 184.7,565.3 184.9,570.1 185.1,573.1 185.3,568.2 185.5,567.1 185.7,567.5 185.9,561.6 186.1,563.6 186.3,563.2 186.5,564.9 186.7,563.2 186.9,558.1 187.1,566.8 187.3,568.5 187.4,560.4 187.6,562.5 187.8,561.6 188.0,563.1 188.2,553.8 188.4,565.4 188.6,556.8 188.8,563.1 189.0,558.0 189.2,555.7 189.4,556.1 189.6,559.6 189.8,552.2 190.0,553.5 190.2,552.5 190.4,547.1 190.6,558.3 190.8,554.9 191.0,551.9 191.2,555.9 191.4,547.0 191.6,549.8 191.8,556.1 192.0,552.6 192.2,539.4 192.3,534.4 192.5,542.7 192.7,550.1 192.9,543.5 193.1,543.8 193.3,546.3 193.5,539.7 193.7,543.3 193.9,544.8 194.1,542.9 194.3,541.9 194.5,537.2 194.7,540.9 194.9,536.5 195.1,542.5 195.3,546.7 195.5,533.1 195.7,526.7 195.9,532.8 196.1,535.2 196.3,537.1 196.5,536.4 196.7,528.4 196.9,527.6 197.1,534.8 197.2,524.8 197.4,532.5 197.6,526.6 197.8,529.6 198.0,528.6 198.2,528.1 198.4,527.4 198.6,519.6 198.8,523.8 199.0,522.0 199.2,522.4 199.4,525.2 199.6,518.6 199.8,516.2 200.0,515.5 200.2,516.5 200.4,520.0 200.6,513.2 200.8,520.3 201.0,516.3 201.2,513.7 201.4,508.8 201.6,514.4 201.8,515.6 202.0,505.4 202.1,516.4 202.3,517.6 202.5,512.0 202.7,512.0 202.9,519.0 203.1,513.8 203.3,505.0 203.5,507.9 203.7,506.8 203.9,506.3 204.1,497.1 204.3,508.7 204.5,502.7 204.7,505.2 204.9,503.5 205.1,506.9 205.3,501.7 205.5,499.2 205.7,503.7 205.9,506.5 206.1,499.2 206.3,505.2 206.5,500.2 206.7,496.5 206.9,503.9 207.0,494.1 207.2,500.6 207.4,494.1 207.6,497.2 207.8,490.0 208.0,490.9 208.2,497.6 208.4,493.6 208.6,492.3 208.8,489.8 209.0,492.6 209.2,484.8 209.4,485.2 209.6,488.3 209.8,485.0 210.0,484.9 210.2,486.7 210.4,485.8 210.6,484.8 210.8,491.5 211.0,488.2 211.2,488.4 211.4,482.8 211.6,480.3 211.8,475.9 211.9,479.6 212.1,472.1 212.3,477.3 212.5,481.9 212.7,484.6 212.9,481.3 213.1,473.5 213.3,478.1 213.5,472.5 213.7,478.1 213.9,473.8 214.1,476.9 214.3,483.0 214.5,475.9 214.7,480.7 214.9,471.7 215.1,469.1 215.3,474.9 215.5,475.8 215.7,466.2 215.9,468.1 216.1,461.5 216.3,465.7 216.5,469.3 216.7,464.8 216.8,462.3 217.0,458.4 217.2,464.6 217.4,465.7 217.6,464.2 217.8,462.2 218.0,455.6 218.2,466.7 218.4,459.0 218.6,457.9 218.8,460.7 219.0,448.7 219.2,456.2 219.4,455.2 219.6,456.4 219.8,459.5 220.0,455.4 220.2,445.6 220.4,450.7 220.6,452.1 220.8,451.1 221.0,444.7 221.2,442.4 221.4,450.3 221.6,448.7 221.7,446.4 221.9,439.0 222.1,451.8 222.3,432.7 222.5,441.7 222.7,450.4 222.9,440.7 223.1,441.3 223.3,434.9 223.5,443.8 223.7,432.4 223.9,437.3 224.1,435.7 224.3,429.9 224.5,436.3 224.7,426.0 224.9,427.6 225.1,428.9 225.3,426.1 225.5,428.3 225.7,428.7 225.9,422.6 226.1,420.4 226.3,419.1 226.5,418.4 226.6,421.7 226.8,416.3 227.0,417.5 227.2,414.3 227.4,410.1 227.6,415.5 227.8,406.9 228.0,409.8 228.2,414.5 228.4,403.3 228.6,406.3 228.8,399.3 229.0,402.6 229.2,397.8 229.4,401.4 229.6,399.9 229.8,401.8 230.0,406.7 230.2,400.9 230.4,401.7 230.6,398.3 230.8,396.9 231.0,394.0 231.2,389.6 231.4,396.3 231.5,401.7 231.7,396.6 231.9,392.0 232.1,397.9 232.3,391.5 232.5,390.2 232.7,387.8 232.9,387.6 233.1,388.6 233.3,393.8 233.5,386.8 233.7,383.6 233.9,383.8 234.1,383.9 234.3,379.0 234.5,383.2 234.7,384.0 234.9,382.3 235.1,382.4 235.3,376.7 235.5,375.1 235.7,382.9 235.9,381.9 236.1,374.4 236.3,378.7 236.4,377.9 236.6,378.9 236.8,377.5 237.0,375.1 237.2,376.4 237.4,375.7 237.6,374.5 237.8,368.9 238.0,365.0 238.2,370.3 238.4,367.2 238.6,371.5 238.8,371.9 239.0,369.7 239.2,366.9 239.4,366.8 239.6,368.4 239.8,361.7 240.0,364.9 240.2,363.1 240.4,361.1 240.6,364.0 240.8,358.2 241.0,363.4 241.2,359.3 241.3,361.0 241.5,361.7 241.7,367.3 241.9,364.9 242.1,368.8 242.3,366.5 242.5,373.5 242.7,376.5 242.9,372.9 243.1,377.7 243.3,375.5 243.5,380.8 243.7,376.0 243.9,372.3 244.1,381.5 244.3,377.9 244.5,376.3 244.7,378.2 244.9,376.4 245.1,381.2 245.3,379.6 245.5,387.4 245.7,386.1 245.9,380.6 246.1,381.9 246.2,385.3 246.4,382.5 246.6,388.3 246.8,389.4 247.0,388.3 247.2,389.8 247.4,393.6 247.6,397.0 247.8,398.1 248.0,395.0 248.2,399.1 248.4,393.8 248.6,399.2 248.8,394.8 249.0,402.3 249.2,395.6 249.4,397.6 249.6,402.3 249.8,405.5 250.0,398.7 250.2,403.3 250.4,406.9 250.6,408.3 250.8,405.2 251.0,410.0 251.1,409.7 251.3,417.4 251.5,415.3 251.7,409.2 251.9,407.0 252.1,417.3 252.3,422.8 252.5,420.2 252.7,424.3 252.9,420.3 253.1,418.2 253.3,427.8 253.5,426.6 253.7,430.2 253.9,423.5 254.1,430.9 254.3,429.1 254.5,436.0 254.7,431.9 254.9,433.0 255.1,434.3 255.3,442.8 255.5,439.1 255.7,437.2 255.9,437.3 256.0,438.3 256.2,449.2 256.4,437.5 256.6,442.3 256.8,449.1 257.0,452.3 257.2,448.1 257.4,452.8 257.6,453.6 257.8,455.5 258.0,452.8 258.2,460.1 258.4,455.4 258.6,461.6 258.8,452.3 259.0,461.2 259.2,453.6 259.4,453.6 259.6,462.3 259.8,458.1 260.0,464.0 260.2,459.0 260.4,470.4 260.6,465.1 260.8,461.5 260.9,467.6 261.1,471.3 261.3,465.7 261.5,471.7 261.7,478.6 261.9,474.9 262.1,472.5 262.3,471.2 262.5,476.6 262.7,469.4 262.9,464.4 263.1,474.6 263.3,474.0 263.5,486.0 263.7,480.7 263.9,477.3 264.1,477.6 264.3,485.1 264.5,481.0 264.7,483.0 264.9,485.9 265.1,487.6 265.3,488.7 265.5,489.8 265.7,495.5 265.8,498.1 266.0,486.0 266.2,503.6 266.4,495.1 266.6,500.4 266.8,493.7 267.0,498.9 267.2,499.5 267.4,500.1 267.6,504.0 267.8,504.1 268.0,498.7 268.2,503.2 268.4,507.5 268.6,508.3 268.8,505.2 269.0,506.4 269.2,507.8 269.4,505.0 269.6,505.2 269.8,517.2 270.0,510.4 270.2,513.2 270.4,510.7 270.6,519.5 270.7,522.1 270.9,515.2 271.1,518.9 271.3,514.8 271.5,525.4 271.7,522.9 271.9,516.8 272.1,525.7 272.3,523.0 272.5,524.0 272.7,524.5 272.9,521.3 273.1,522.5 273.3,527.8 273.5,525.9 273.7,523.2 273.9,535.5 274.1,527.5 274.3,526.8 274.5,527.0 274.7,533.1 274.9,535.0 275.1,532.8 275.3,536.0 275.5,527.4 275.6,532.5 275.8,532.9 276.0,535.4 276.2,538.0 276.4,528.8 276.6,549.7 276.8,534.8 277.0,540.2 277.2,542.8 277.4,543.6 277.6,541.9 277.8,530.3 278.0,538.1 278.2,546.0 278.4,540.1 278.6,540.3 278.8,535.9 279.0,550.5 279.2,548.5 279.4,543.7 279.6,547.4 279.8,548.2 280.0,544.9 280.2,548.9 280.4,551.6 280.5,553.5 280.7,556.9 280.9,552.8 281.1,551.5 281.3,555.6 281.5,552.2 281.7,550.5 281.9,560.5 282.1,555.2 282.3,557.8 282.5,560.5 282.7,554.3 282.9,561.8 283.1,561.6 283.3,560.1 283.5,562.7 283.7,558.8 283.9,553.7 284.1,561.8 284.3,560.0 284.5,567.5 284.7,565.7 284.9,563.1 285.1,566.0 285.3,571.6 285.4,571.3 285.6,568.9 285.8,569.6 286.0,567.4 286.2,568.5 286.4,571.9 286.6,569.6 286.8,571.8 287.0,566.8 287.2,565.2 287.4,565.6 287.6,571.0 287.8,578.4 288.0,578.3 288.2,570.3 288.4,568.6 288.6,578.3 288.8,577.5 289.0,570.8 289.2,580.8 289.4,577.8 289.6,582.8 289.8,579.4 290.0,582.0 290.2,580.2 290.3,575.7 290.5,579.0 290.7,577.7 290.9,584.0 291.1,577.3 291.3,575.7 291.5,584.8 291.7,587.0 291.9,588.6 292.1,587.6 292.3,577.9 292.5,581.5 292.7,582.5 292.9,584.9 293.1,577.0 293.3,585.8 293.5,587.3 293.7,582.9 293.9,587.5 294.1,592.1 294.3,588.0 294.5,592.4 294.7,592.6 294.9,590.6 295.1,590.4 295.2,588.9 295.4,593.2 295.6,589.4 295.8,589.2 296.0,593.1 296.2,589.9 296.4,593.1 296.6,595.0 296.8,593.0 297.0,593.4 297.2,595.8 297.4,595.7 297.6,590.5 297.8,591.4 298.0,598.2 298.2,596.3 298.4,590.6 298.6,592.7 298.8,596.4 299.0,594.3 299.2,598.1 299.4,597.5 299.6,598.8 299.8,595.1 300.0,599.8 300.1,603.4 300.3,597.0 300.5,602.4 300.7,601.9 300.9,601.4 301.1,600.0 301.3,597.6 301.5,598.6 301.7,602.8 301.9,603.6 302.1,604.5 302.3,604.1 302.5,604.3 302.7,601.3 302.9,599.7 303.1,603.4 303.3,604.4 303.5,603.6 303.7,600.0 303.9,602.7 304.1,600.7 304.3,604.8 304.5,602.2 304.7,604.5 304.9,606.0 305.0,605.8 305.2,608.9 305.4,603.3 305.6,601.0 305.8,608.6 306.0,610.0 306.2,610.3 306.4,607.8 306.6,608.6 306.8,607.8 307.0,604.7 307.2,606.7 307.4,609.4 307.6,607.1 307.8,613.2 308.0,605.3 308.2,608.1 308.4,612.0 308.6,608.1 308.8,607.1 309.0,606.8 309.2,608.5 309.4,614.0 309.6,611.6 309.8,612.0 309.9,609.8 310.1,613.2 310.3,611.7 310.5,609.5 310.7,610.8 310.9,612.5 311.1,615.0 311.3,612.3 311.5,613.8 311.7,617.6 311.9,611.2 312.1,610.4 312.3,615.7 312.5,614.7 312.7,613.6 312.9,614.6 313.1,613.5 313.3,615.6 313.5,613.8 313.7,616.6 313.9,612.3 314.1,613.3 314.3,615.6 314.5,614.5 314.7,617.3 314.8,615.8 315.0,614.9 315.2,616.8 315.4,615.3 315.6,613.1 315.8,614.2 316.0,615.2 316.2,616.1 316.4,617.6 316.6,619.7 316.8,619.1 317.0,622.1 317.2,621.1 317.4,617.9 317.6,622.3 317.8,621.4 318.0,617.8 318.2,619.8 318.4,621.8 318.6,620.0 318.8,621.9 319.0,620.7 319.2,621.6 319.4,619.4 319.6,621.2 319.7,619.7 319.9,622.2 320.1,617.0 320.3,621.8 320.5,624.0 320.7,622.7 320.9,621.5 321.1,622.9 321.3,620.0 321.5,620.2 321.7,621.4 321.9,622.1 322.1,624.8 322.3,620.7 322.5,625.2 322.7,619.5 322.9,621.4 323.1,623.3 323.3,626.2 323.5,622.3 323.7,619.0 323.9,625.0 324.1,624.1 324.3,621.9 324.5,622.2 324.6,623.1 324.8,625.1 325.0,626.5 325.2,621.8 325.4,630.5 325.6,625.4 325.8,624.8 326.0,627.3 326.2,626.2 326.4,631.3 326.6,628.7 326.8,625.5 327.0,625.6 327.2,625.6 327.4,626.1 327.6,628.5 327.8,625.7 328.0,630.9 328.2,627.2 328.4,627.2 328.6,629.8 328.8,623.4 329.0,625.9 329.2,629.4 329.4,628.2 329.5,628.3 329.7,629.4 329.9,627.3 330.1,628.4 330.3,625.9 330.5,624.8 330.7,632.0 330.9,627.2 331.1,627.8 331.3,632.6 331.5,632.0 331.7,628.6 331.9,628.7 332.1,629.8 332.3,628.0 332.5,631.5 332.7,630.7 332.9,630.8 333.1,632.3 333.3,632.3 333.5,634.9 333.7,634.3 333.9,627.3 334.1,633.2 334.3,628.8 334.4,628.3 334.6,633.1 334.8,630.1 335.0,631.1 335.2,634.2 335.4,630.5 335.6,630.1 335.8,632.9 336.0,635.0 336.2,633.6 336.4,629.1 336.6,631.2 336.8,632.5 337.0,637.1 337.2,635.0 337.4,635.0 337.6,635.9 337.8,632.7 338.0,634.5 338.2,634.7 338.4,631.5 338.6,633.8 338.8,635.1 339.0,631.7 339.2,635.9 339.3,635.9 339.5,636.6 339.7,632.8 339.9,634.8 340.1,637.8 340.3,636.5 340.5,633.2 340.7,635.5 340.9,638.2 341.1,635.0 341.3,636.1 341.5,641.0 341.7,635.4 341.9,635.4 342.1,633.5 342.3,634.4 342.5,639.2 342.7,635.7 342.9,633.5 343.1,634.2 343.3,636.3 343.5,638.1 343.7,634.9 343.9,638.2 344.1,635.7 344.2,637.6 344.4,638.0 344.6,638.3 344.8,636.2 345.0,636.8 345.2,638.4 345.4,634.6 345.6,637.8 345.8,638.7 346.0,639.9 346.2,637.6 346.4,637.4 346.6,638.2 346.8,636.4 347.0,637.6 347.2,639.0 347.4,638.8 347.6,636.1 347.8,637.7 348.0,633.9 348.2,640.3 348.4,637.5 348.6,639.2 348.8,636.4 349.0,638.7 349.1,639.9 349.3,641.2 349.5,636.2 349.7,641.0 349.9,638.9 350.1,637.7 350.3,640.4 350.5,638.9 350.7,638.9 350.9,638.1 351.1,640.2 351.3,639.9 351.5,639.5 351.7,637.9 351.9,638.9 352.1,640.9 352.3,642.9 352.5,640.1 352.7,643.3 352.9,640.3 353.1,638.0 353.3,641.8 353.5,638.4 353.7,641.4 353.9,642.9 354.0,640.0 354.2,640.6 354.4,646.1 354.6,641.4 354.8,641.5 355.0,642.6 355.2,640.8 355.4,640.9 355.6,641.9 355.8,636.1 356.0,644.2 356.2,639.0 356.4,639.0 356.6,642.5 356.8,641.5 357.0,638.8 357.2,641.9 357.4,639.1 357.6,640.1 357.8,638.4 358.0,639.9 358.2,642.6 358.4,642.0 358.6,642.5 358.8,643.8 358.9,641.8 359.1,640.5 359.3,641.4 359.5,645.5 359.7,642.2 359.9,642.8 360.1,642.0 360.3,642.7 360.5,643.2 360.7,642.3 360.9,642.0 361.1,640.7 361.3,640.6 361.5,643.3 361.7,644.1 361.9,644.5 362.1,642.7 362.3,640.9 362.5,644.0 362.7,644.0 362.9,639.6 363.1,644.5 363.3,644.1 363.5,646.4 363.7,640.6 363.8,640.3 364.0,644.7 364.2,639.3 364.4,641.6 364.6,640.8 364.8,641.0 365.0,639.2 365.2,642.8 365.4,645.4 365.6,644.3 365.8,644.3 366.0,642.7 366.2,646.5 366.4,644.6 366.6,645.8 366.8,640.3 367.0,644.3 367.2,641.2 367.4,644.4 367.6,644.1 367.8,641.4 368.0,644.2 368.2,646.3 368.4,644.9 368.6,645.2 368.7,642.1 368.9,642.5 369.1,641.7 369.3,644.3 369.5,646.6 369.7,645.0 369.9,644.1 370.1,641.8 370.3,645.1 370.5,643.7 370.7,640.3 370.9,640.7 371.1,643.6 371.3,642.5 371.5,647.8 371.7,644.5 371.9,642.2 372.1,643.4 372.3,647.8 372.5,642.5 372.7,646.1 372.9,645.5 373.1,647.7 373.3,645.7 373.5,643.8 373.6,645.8 373.8,644.8 374.0,646.7 374.2,644.6 374.4,648.9 374.6,644.5 374.8,645.7 375.0,643.4 375.2,645.1 375.4,644.9 375.6,645.2 375.8,646.7 376.0,643.7 376.2,643.1 376.4,647.2 376.6,644.3 376.8,643.5 377.0,647.4 377.2,646.6 377.4,639.4 377.6,644.2 377.8,646.6 378.0,646.7 378.2,643.9 378.4,648.3 378.5,643.4 378.7,644.5 378.9,645.3 379.1,645.0 379.3,646.7 379.5,647.2 379.7,645.0 379.9,648.0 380.1,643.6 380.3,644.6 380.5,648.7 380.7,645.3 380.9,647.3 381.1,644.2 381.3,644.5 381.5,644.8 381.7,645.4 381.9,644.4 382.1,645.1 382.3,646.5 382.5,647.6 382.7,645.3 382.9,646.4 383.1,647.0 383.3,642.8 383.4,641.8 383.6,648.5 383.8,647.8 384.0,645.2 384.2,645.8 384.4,643.1 384.6,642.2 384.8,645.7 385.0,642.0 385.2,647.0 385.4,643.6 385.6,645.7 385.8,649.1 386.0,649.0 386.2,644.5 386.4,647.3 386.6,642.9 386.8,643.8 387.0,645.8 387.2,648.0 387.4,643.8 387.6,646.2 387.8,645.3 388.0,642.4 388.2,644.8 388.3,648.2 388.5,644.9 388.7,646.1 388.9,646.8 389.1,643.5 389.3,647.6 389.5,648.2 389.7,648.4 389.9,647.8 390.1,644.1 390.3,643.8 390.5,643.4 390.7,643.1 390.9,643.4 391.1,647.1 391.3,648.1 391.5,643.7 391.7,646.7 391.9,642.4 392.1,644.3 392.3,642.9 392.5,641.6 392.7,645.1 392.9,645.2 393.1,644.2 393.2,643.9 393.4,642.9 393.6,644.7 393.8,643.7 394.0,645.5 394.2,642.5 394.4,645.5 394.6,646.1 394.8,647.6 395.0,647.2 395.2,645.4 395.4,643.5 395.6,641.1 395.8,645.0 396.0,648.0 396.2,648.5 396.4,639.6 396.6,643.4 396.8,644.2 397.0,642.8 397.2,645.4 397.4,645.0 397.6,643.9 397.8,644.9 398.0,641.6 398.1,642.9 398.3,643.1 398.5,646.8 398.7,641.5 398.9,644.5 399.1,646.6 399.3,644.8 399.5,646.7 399.7,643.6 399.9,645.9 400.1,646.9 400.3,649.6 400.5,646.5 400.7,648.0 400.9,645.0 401.1,645.2 401.3,648.3 401.5,646.2 401.7,647.9 401.9,646.4 402.1,649.4 402.3,650.0 402.5,643.2 402.7,648.9 402.9,645.9 403.0,646.0 403.2,644.7 403.4,646.5 403.6,642.6 403.8,643.4 404.0,643.4 404.2,645.6 404.4,646.9 404.6,646.5 404.8,645.7 405.0,643.7 405.2,641.3 405.4,645.8 405.6,645.3 405.8,645.7 406.0,648.0 406.2,644.6 406.4,644.5 406.6,640.1 406.8,646.1 407.0,644.9 407.2,643.4 407.4,645.8 407.6,642.8 407.8,643.8 407.9,649.1 408.1,646.5 408.3,646.9 408.5,646.5 408.7,646.3 408.9,645.4 409.1,649.8 409.3,644.8 409.5,646.5 409.7,644.5 409.9,644.2 410.1,639.8 410.3,640.9 410.5,648.2 410.7,648.1 410.9,644.0 411.1,644.9 411.3,646.2 411.5,642.8 411.7,648.6 411.9,642.7 412.1,643.4 412.3,639.1 412.5,648.1 412.7,645.0 412.8,648.3 413.0,642.8 413.2,645.6 413.4,645.1 413.6,645.3 413.8,649.3 414.0,649.7 414.2,647.8 414.4,644.0 414.6,646.8 414.8,647.7 415.0,646.1 415.2,646.1 415.4,645.9 415.6,643.0 415.8,645.4 416.0,648.3 416.2,642.8 416.4,645.0 416.6,646.6 416.8,642.0 417.0,644.6 417.2,641.3 417.4,643.6 417.6,641.9 417.7,643.0 417.9,643.8 418.1,644.3 418.3,644.4 418.5,639.8 418.7,648.2 418.9,644.3 419.1,642.5 419.3,643.5 419.5,645.5 419.7,642.7 419.9,644.0 420.1,643.8 420.3,646.0 420.5,643.2 420.7,645.8 420.9,645.6 421.1,644.5 421.3,647.4 421.5,644.9 421.7,642.3 421.9,645.4 422.1,645.1 422.3,644.7 422.5,645.3 422.6,649.8 422.8,645.3 423.0,645.8 423.2,644.3 423.4,647.6 423.6,644.7 423.8,643.1 424.0,642.2 424.2,645.9 424.4,646.4 424.6,641.5 424.8,643.3 425.0,646.2 425.2,647.0 425.4,642.0 425.6,643.9 425.8,646.6 426.0,643.7 426.2,643.8 426.4,643.7 426.6,642.0 426.8,644.9 427.0,645.4 427.2,641.8 427.4,645.0 427.5,647.1 427.7,645.2 427.9,646.8 428.1,643.6 428.3,647.7 428.5,643.1 428.7,648.8 428.9,643.8 429.1,643.3 429.3,642.9 429.5,643.9 429.7,643.7 429.9,643.3 430.1,644.1 430.3,646.2 430.5,646.6 430.7,644.1 430.9,647.4 431.1,642.7 431.3,642.6 431.5,642.4 431.7,646.0 431.9,641.5 432.1,641.8 432.3,647.5 432.4,648.4 432.6,647.6 432.8,641.6 433.0,644.8 433.2,646.5 433.4,645.0 433.6,641.4 433.8,644.0 434.0,641.2 434.2,642.2 434.4,649.3 434.6,646.2 434.8,641.7 435.0,641.6 435.2,645.7 435.4,643.5 435.6,646.0 435.8,643.4 436.0,644.3 436.2,645.3 436.4,642.6 436.6,640.7 436.8,642.2 437.0,643.3 437.2,644.3 437.3,644.6 437.5,644.6 437.7,645.8 437.9,642.9 438.1,647.7 438.3,649.0 438.5,645.5 438.7,645.1 438.9,647.4 439.1,646.1 439.3,645.1 439.5,644.4 439.7,643.2 439.9,642.3 440.1,646.2 440.3,647.3 440.5,642.5 440.7,644.6 440.9,645.2 441.1,643.9 441.3,643.2 441.5,643.9 441.7,640.6 441.9,644.6 442.1,644.1 442.2,649.2 442.4,646.7 442.6,644.0 442.8,644.8 443.0,648.4 443.2,648.2 443.4,645.2 443.6,644.5 443.8,641.7 444.0,644.1 444.2,644.4 444.4,643.2 444.6,648.4 444.8,640.8 445.0,644.5 445.2,645.7 445.4,645.7 445.6,648.4 445.8,641.9 446.0,643.2 446.2,645.0 446.4,645.1 446.6,644.0 446.8,643.2 447.0,647.1 447.1,642.6 447.3,643.6 447.5,647.9 447.7,648.5 447.9,646.7 448.1,643.0 448.3,643.0 448.5,642.9 448.7,642.5 448.9,644.0 449.1,647.5 449.3,645.3 449.5,643.3 449.7,643.2 449.9,642.4 450.1,647.4 450.3,640.6 450.5,645.4 450.7,641.8 450.9,642.6 451.1,641.7 451.3,646.9 451.5,644.7 451.7,650.7 451.9,642.7 452.0,642.6 452.2,646.1 452.4,646.1 452.6,644.3 452.8,640.6 453.0,647.9 453.2,646.1 453.4,645.7 453.6,643.6 453.8,646.2 454.0,643.7 454.2,645.0 454.4,644.5 454.6,647.5 454.8,643.9 455.0,644.2 455.2,647.2 455.4,645.4 455.6,644.9 455.8,644.4 456.0,646.9 456.2,643.5 456.4,645.9 456.6,649.2 456.8,645.8 456.9,643.3 457.1,642.4 457.3,645.2 457.5,642.3 457.7,641.6 457.9,643.3 458.1,642.6 458.3,646.8 458.5,641.9 458.7,648.3 458.9,643.4 459.1,645.2 459.3,646.4 459.5,645.4 459.7,646.5 459.9,642.9 460.1,640.2 460.3,644.5 460.5,641.4 460.7,643.7 460.9,646.9 461.1,644.5 461.3,643.7 461.5,642.6 461.7,644.4 461.8,644.6 462.0,641.6 462.2,645.6 462.4,642.7 462.6,645.4 462.8,644.0 463.0,647.1 463.2,646.8 463.4,645.0 463.6,644.8 463.8,645.9 464.0,647.9 464.2,647.3 464.4,645.4 464.6,645.7 464.8,648.4 465.0,641.6 465.2,646.2 465.4,643.2 465.6,648.0 465.8,644.1 466.0,644.9 466.2,642.8 466.4,645.2 466.6,646.8 466.7,648.7 466.9,642.5 467.1,644.2 467.3,653.4 467.5,647.2 467.7,645.2 467.9,646.3 468.1,639.6 468.3,648.6 468.5,645.6 468.7,642.2 468.9,647.7 469.1,643.9 469.3,643.1 469.5,646.4 469.7,646.1 469.9,644.3 470.1,645.1 470.3,642.5 470.5,642.2 470.7,647.2 470.9,648.1 471.1,646.2 471.3,646.1 471.5,644.5 471.6,645.0 471.8,643.3 472.0,649.0 472.2,644.1 472.4,646.2 472.6,645.3 472.8,642.4 473.0,649.4 473.2,644.5 473.4,643.7 473.6,645.6 473.8,643.5 474.0,645.4 474.2,643.3 474.4,646.5 474.6,645.5 474.8,642.5 475.0,647.5 475.2,645.8 475.4,643.0 475.6,646.1 475.8,646.3 476.0,649.3 476.2,643.6 476.4,647.2 476.5,645.2 476.7,646.7 476.9,644.8 477.1,645.3 477.3,646.4 477.5,642.9 477.7,641.0 477.9,645.4 478.1,644.5 478.3,645.6 478.5,646.8 478.7,645.0 478.9,647.9 479.1,645.3 479.3,645.7 479.5,647.2 479.7,646.7 479.9,645.3 480.1,645.7 480.3,643.9 480.5,644.2 480.7,645.7 480.9,647.2 481.1,644.6 481.3,647.2 481.4,649.6 481.6,650.0 481.8,645.5 482.0,647.7 482.2,646.8 482.4,647.2 482.6,647.3 482.8,646.6 483.0,647.3 483.2,645.9 483.4,645.0 483.6,646.0 483.8,646.6 484.0,648.1 484.2,646.3 484.4,647.1 484.6,648.5 484.8,643.5 485.0,644.9 485.2,646.6 485.4,645.5 485.6,643.3 485.8,647.5 486.0,645.3 486.2,643.3 486.3,649.4 486.5,642.7 486.7,645.3 486.9,643.9 487.1,645.6 487.3,646.5 487.5,643.6 487.7,645.1 487.9,645.0 488.1,643.1 488.3,647.7 488.5,645.6 488.7,644.6 488.9,643.8 489.1,644.4 489.3,645.4 489.5,644.1 489.7,647.7 489.9,639.7 490.1,640.5 490.3,644.4 490.5,641.1 490.7,644.8 490.9,643.5 491.1,646.1 491.2,645.7 491.4,647.6 491.6,646.7 491.8,647.4 492.0,645.9 492.2,647.0 492.4,645.7 492.6,643.4 492.8,642.0 493.0,642.0 493.2,645.6 493.4,639.5 493.6,644.8 493.8,642.9 494.0,646.0 494.2,644.8 494.4,642.8 494.6,644.3 494.8,639.5 495.0,644.8 495.2,645.2 495.4,640.3 495.6,645.9 495.8,643.8 496.0,644.4 496.1,641.0 496.3,645.2 496.5,645.2 496.7,643.9 496.9,641.8 497.1,645.4 497.3,646.4 497.5,644.6 497.7,645.8 497.9,642.4 498.1,644.0 498.3,644.4 498.5,643.9 498.7,649.5 498.9,644.4 499.1,642.2 499.3,645.2 499.5,641.1 499.7,644.1 499.9,644.9 500.1,642.2 500.3,642.5 500.5,641.2 500.7,643.4 500.9,641.6 501.0,646.7 501.2,644.4 501.4,642.5 501.6,639.9 501.8,647.2 502.0,645.6 502.2,643.8 502.4,643.2 502.6,643.1 502.8,641.7 503.0,646.6 503.2,643.0 503.4,639.5 503.6,641.1 503.8,636.9 504.0,643.8 504.2,644.0 504.4,646.1 504.6,646.7 504.8,640.5 505.0,643.1 505.2,644.2 505.4,643.8 505.6,640.9 505.8,643.7 505.9,643.0 506.1,644.8 506.3,641.8 506.5,641.3 506.7,640.7 506.9,640.9 507.1,640.0 507.3,640.9 507.5,642.6 507.7,642.5 507.9,644.3 508.1,643.8 508.3,642.7 508.5,638.9 508.7,642.5 508.9,643.7 509.1,638.4 509.3,638.7 509.5,639.0 509.7,638.8 509.9,640.4 510.1,638.9 510.3,641.7 510.5,638.3 510.7,640.5 510.8,639.7 511.0,638.6 511.2,642.9 511.4,640.7 511.6,641.7 511.8,639.8 512.0,642.0 512.2,641.8 512.4,640.1 512.6,636.5 512.8,642.1 513.0,641.7 513.2,640.6 513.4,640.7 513.6,640.4 513.8,640.5 514.0,637.9 514.2,639.9 514.4,640.6 514.6,638.6 514.8,637.7 515.0,643.8 515.2,641.0 515.4,639.0 515.6,638.6 515.7,633.9 515.9,636.5 516.1,639.0 516.3,642.2 516.5,635.0 516.7,637.8 516.9,643.4 517.1,640.7 517.3,640.1 517.5,641.7 517.7,638.8 517.9,638.6 518.1,640.5 518.3,640.8 518.5,636.6 518.7,642.1 518.9,635.0 519.1,637.2 519.3,645.3 519.5,637.5 519.7,640.0 519.9,636.3 520.1,637.8 520.3,636.8 520.5,637.5 520.6,639.7 520.8,642.0 521.0,640.1 521.2,641.5 521.4,637.0 521.6,641.2 521.8,639.2 522.0,640.9 522.2,636.9 522.4,637.3 522.6,640.7 522.8,639.0 523.0,637.8 523.2,636.1 523.4,637.3 523.6,638.5 523.8,638.9 524.0,636.1 524.2,636.5 524.4,638.1 524.6,634.7 524.8,639.1 525.0,637.0 525.2,636.6 525.4,631.6 525.5,633.3 525.7,634.4 525.9,635.4 526.1,634.2 526.3,637.3 526.5,636.7 526.7,635.8 526.9,631.9 527.1,639.3 527.3,635.6 527.5,637.4 527.7,634.6 527.9,636.0 528.1,637.4 528.3,636.4 528.5,637.9 528.7,635.3 528.9,640.0 529.1,631.5 529.3,634.3 529.5,637.6 529.7,634.9 529.9,634.4 530.1,631.4 530.3,637.8 530.4,631.0 530.6,636.2 530.8,635.4 531.0,636.9 531.2,638.1 531.4,633.3 531.6,633.0 531.8,634.0 532.0,630.9 532.2,636.3 532.4,633.6 532.6,634.8 532.8,631.9 533.0,634.3 533.2,632.8 533.4,634.0 533.6,631.7 533.8,636.2 534.0,632.5 534.2,628.3 534.4,635.2 534.6,633.1 534.8,631.7 535.0,639.1 535.2,633.4 535.3,630.5 535.5,632.0 535.7,634.1 535.9,632.7 536.1,635.9 536.3,635.4 536.5,631.3 536.7,633.1 536.9,634.3 537.1,631.9 537.3,631.7 537.5,634.6 537.7,633.6 537.9,629.5 538.1,631.3 538.3,631.5 538.5,632.1 538.7,630.7 538.9,635.2 539.1,630.0 539.3,629.7 539.5,632.5 539.7,627.0 539.9,629.6 540.1,633.2 540.2,628.8 540.4,629.8 540.6,634.0 540.8,632.6 541.0,631.6 541.2,632.0 541.4,629.9 541.6,632.0 541.8,630.8 542.0,636.7 542.2,632.3 542.4,630.3 542.6,630.9 542.8,631.1 543.0,627.8 543.2,629.0 543.4,634.1 543.6,627.6 543.8,629.3 544.0,632.8 544.2,633.8 544.4,628.2 544.6,633.6 544.8,629.5 545.0,633.9 545.1,631.3 545.3,629.5 545.5,631.7 545.7,631.2 545.9,628.2 546.1,634.6 546.3,629.0 546.5,632.3 546.7,628.6 546.9,625.5 547.1,627.0 547.3,629.2 547.5,630.9 547.7,633.2 547.9,629.4 548.1,628.5 548.3,626.4 548.5,628.9 548.7,629.6 548.9,624.0 549.1,631.7 549.3,631.3 549.5,633.7 549.7,626.6 549.9,628.6 550.0,628.5 550.2,625.4 550.4,626.4 550.6,626.0 550.8,629.3 551.0,629.0 551.2,631.0 551.4,627.0 551.6,624.7 551.8,628.8 552.0,628.5 552.2,629.1 552.4,630.3 552.6,626.2 552.8,629.2 553.0,625.1 553.2,627.6 553.4,628.7 553.6,626.8 553.8,627.5 554.0,623.8 554.2,625.4 554.4,627.1 554.6,624.0 554.8,624.7 554.9,631.9 555.1,627.0 555.3,624.5 555.5,623.9 555.7,629.2 555.9,619.7 556.1,625.1 556.3,627.1 556.5,624.4 556.7,626.7 556.9,623.1 557.1,625.3 557.3,625.3 557.5,625.1 557.7,625.3 557.9,625.0 558.1,627.3 558.3,624.1 558.5,623.3 558.7,623.9 558.9,623.7 559.1,620.9 559.3,619.9 559.5,621.0 559.7,624.6 559.8,622.4 560.0,622.8 560.2,630.1 560.4,626.1 560.6,623.0 560.8,621.9 561.0,626.3 561.2,621.3 561.4,625.8 561.6,624.2 561.8,625.9 562.0,621.0 562.2,624.6 562.4,618.3 562.6,621.9 562.8,624.6 563.0,623.7 563.2,617.8 563.4,623.4 563.6,622.7 563.8,621.4 564.0,619.8 564.2,620.7 564.4,619.9 564.6,623.2 564.7,622.0 564.9,623.2 565.1,622.2 565.3,617.6 565.5,620.7 565.7,625.1 565.9,617.6 566.1,620.6 566.3,618.0 566.5,617.6 566.7,619.9 566.9,621.4 567.1,620.8 567.3,620.0 567.5,620.9 567.7,614.8 567.9,620.2 568.1,619.0 568.3,617.5 568.5,617.7 568.7,615.5 568.9,620.0 569.1,615.3 569.3,613.4 569.5,616.6 569.6,615.0 569.8,616.0 570.0,619.4 570.2,615.3 570.4,615.7 570.6,620.4 570.8,611.7 571.0,615.5 571.2,617.1 571.4,617.7 571.6,619.1 571.8,612.1 572.0,614.8 572.2,612.9 572.4,611.8 572.6,610.9 572.8,608.9 573.0,612.8 573.2,613.5 573.4,608.9 573.6,612.9 573.8,609.6 574.0,608.2 574.2,604.1 574.4,612.6 574.5,611.4 574.7,608.7 574.9,608.2 575.1,605.7 575.3,609.7 575.5,608.1 575.7,609.2 575.9,608.0 576.1,604.0 576.3,603.3 576.5,607.7 576.7,602.4 576.9,606.7 577.1,608.0 577.3,602.4 577.5,606.8 577.7,605.0 577.9,605.9 578.1,602.7 578.3,603.9 578.5,604.7 578.7,607.8 578.9,604.8 579.1,604.0 579.3,599.3 579.4,602.9 579.6,600.2 579.8,601.4 580.0,601.9 580.2,603.3 580.4,602.0 580.6,600.8 580.8,599.9 581.0,603.0 581.2,597.2 581.4,599.2 581.6,602.1 581.8,598.0 582.0,600.2 582.2,600.0 582.4,602.4 582.6,600.0 582.8,592.9 583.0,596.7 583.2,597.1 583.4,598.1 583.6,596.7 583.8,600.1 584.0,597.9 584.2,592.0 584.3,593.0 584.5,589.2 584.7,598.2 584.9,593.3 585.1,593.0 585.3,589.1 585.5,591.6 585.7,593.4 585.9,591.0 586.1,590.7 586.3,589.8 586.5,596.0 586.7,589.4 586.9,586.8 587.1,588.8 587.3,588.9 587.5,589.2 587.7,588.5 587.9,585.9 588.1,587.9 588.3,589.1 588.5,584.2 588.7,592.4 588.9,591.4 589.1,582.2 589.2,585.5 589.4,588.7 589.6,589.2 589.8,590.0 590.0,580.5 590.2,582.0 590.4,583.2 590.6,585.6 590.8,581.2 591.0,584.7 591.2,584.4 591.4,584.8 591.6,579.4 591.8,582.8 592.0,582.2 592.2,580.6 592.4,584.7 592.6,580.4 592.8,584.5 593.0,579.0 593.2,584.6 593.4,584.1 593.6,577.5 593.8,580.2 594.0,579.8 594.1,576.2 594.3,580.5 594.5,579.7 594.7,575.6 594.9,577.8 595.1,579.6 595.3,576.6 595.5,574.9 595.7,580.6 595.9,573.6 596.1,576.7 596.3,578.4 596.5,577.2 596.7,570.1 596.9,573.7 597.1,573.9 597.3,573.3 597.5,575.2 597.7,574.7 597.9,573.3 598.1,573.3 598.3,574.9 598.5,575.2 598.7,566.6 598.9,576.9 599.0,569.4 599.2,572.6 599.4,565.9 599.6,568.5 599.8,566.2 600.0,572.0 600.2,571.1 600.4,568.4 600.6,567.6 600.8,568.7 601.0,564.8 601.2,565.3 601.4,564.5 601.6,568.4 601.8,565.9 602.0,562.1 602.2,566.0 602.4,566.1 602.6,568.1 602.8,562.5 603.0,564.7 603.2,568.8 603.4,562.1 603.6,561.6 603.8,563.6 603.9,560.5 604.1,561.5 604.3,559.8 604.5,558.7 604.7,562.8 604.9,559.1 605.1,557.1 605.3,558.7 605.5,558.7 605.7,559.5 605.9,560.9 606.1,562.8 606.3,554.5 606.5,556.8 606.7,552.2 606.9,557.4 607.1,557.9 607.3,554.4 607.5,553.4 607.7,552.9 607.9,551.2 608.1,556.6 608.3,559.8 608.5,551.3 608.7,558.5 608.8,553.5 609.0,549.7 609.2,554.8 609.4,555.0 609.6,553.8 609.8,551.8 610.0,556.7 610.2,551.2 610.4,553.5 610.6,553.3 610.8,548.9 611.0,546.1 611.2,546.2 611.4,549.6 611.6,551.4 611.8,545.4 612.0,548.1 612.2,554.1 612.4,544.9 612.6,550.9 612.8,550.4 613.0,551.4 613.2,545.2 613.4,550.0 613.6,545.1 613.7,552.4 613.9,546.3 614.1,549.6 614.3,546.3 614.5,548.8 614.7,544.2 614.9,549.1 615.1,549.9 615.3,548.2 615.5,552.6 615.7,549.2 615.9,550.3 616.1,549.6 616.3,553.3 616.5,546.4 616.7,547.5 616.9,547.7 617.1,550.0 617.3,549.1 617.5,550.7 617.7,549.3 617.9,547.2 618.1,548.5 618.3,550.0 618.5,542.7 618.6,552.8 618.8,547.6 619.0,548.3 619.2,550.1 619.4,548.9 619.6,545.8 619.8,549.3 620.0,553.8 620.2,553.1 620.4,553.8 620.6,549.1 620.8,550.2 621.0,553.8 621.2,555.2 621.4,551.5 621.6,548.9 621.8,546.5 622.0,555.9 622.2,548.1 622.4,553.6 622.6,555.1 622.8,561.8 623.0,553.7 623.2,553.1 623.4,554.9 623.5,555.3 623.7,557.8 623.9,556.3 624.1,552.6 624.3,549.2 624.5,556.0 624.7,553.6 624.9,559.6 625.1,552.4 625.3,556.8 625.5,554.5 625.7,554.4 625.9,561.6 626.1,557.8 626.3,557.1 626.5,559.8 626.7,556.0 626.9,557.4 627.1,556.9 627.3,564.3 627.5,560.1 627.7,561.1 627.9,562.7 628.1,559.4 628.3,559.8 628.4,556.0 628.6,562.0 628.8,561.7 629.0,560.1 629.2,564.8 629.4,556.9 629.6,563.1 629.8,558.5 630.0,559.4 630.2,562.1 630.4,566.6 630.6,560.0 630.8,560.8 631.0,560.4 631.2,569.4 631.4,565.7 631.6,565.6 631.8,570.4 632.0,565.8 632.2,559.7 632.4,564.3 632.6,562.7 632.8,571.7 633.0,562.7 633.2,567.7 633.3,565.8 633.5,566.3 633.7,567.8 633.9,567.7 634.1,566.6 634.3,565.4 634.5,567.3 634.7,566.6 634.9,567.3 635.1,570.3 635.3,569.9 635.5,572.0 635.7,570.4 635.9,576.5 636.1,569.7 636.3,569.4 636.5,575.1 636.7,570.8 636.9,573.4 637.1,576.0 637.3,573.5 637.5,573.2 637.7,577.0 637.9,575.7 638.1,573.8 638.2,572.3 638.4,574.9 638.6,571.8 638.8,574.3 639.0,574.0 639.2,578.1 639.4,579.7 639.6,576.3 639.8,577.2 640.0,575.8 640.2,575.4 640.4,578.3 640.6,581.3 640.8,581.4 641.0,582.0 641.2,580.1 641.4,574.0 641.6,584.0 641.8,585.3 642.0,584.6 642.2,585.0 642.4,585.8 642.6,590.3 642.8,584.5 643.0,588.0 643.1,586.4 643.3,586.4 643.5,584.7 643.7,584.5 643.9,582.8 644.1,587.6 644.3,585.6 644.5,583.6 644.7,585.0 644.9,584.3 645.1,591.8 645.3,587.3 645.5,588.6 645.7,585.5 645.9,586.2 646.1,591.9 646.3,588.9 646.5,590.4 646.7,594.8 646.9,595.8 647.1,592.5 647.3,592.2 647.5,591.9 647.7,590.8 647.9,597.0 648.0,589.0 648.2,592.1 648.4,587.7 648.6,589.6 648.8,594.1 649.0,594.5 649.2,594.4 649.4,593.0 649.6,592.3 649.8,593.0 650.0,593.6 650.2,597.6 650.4,598.8 650.6,596.4 650.8,594.2 651.0,593.4 651.2,596.8 651.4,595.7 651.6,591.9 651.8,600.3 652.0,597.0 652.2,596.5 652.4,595.4 652.6,595.6 652.8,600.3 652.9,595.9 653.1,598.8 653.3,600.4 653.5,603.7 653.7,600.8 653.9,599.4 654.1,598.6 654.3,602.1 654.5,602.7 654.7,599.4 654.9,602.2 655.1,600.6 655.3,597.1 655.5,598.9 655.7,603.7 655.9,605.5 656.1,603.8 656.3,601.8 656.5,600.8 656.7,604.1 656.9,603.8 657.1,599.2 657.3,605.0 657.5,601.9 657.7,605.5 657.8,605.4 658.0,606.1 658.2,607.1 658.4,606.4 658.6,602.3 658.8,602.6 659.0,607.8 659.2,606.6 659.4,601.8 659.6,600.9 659.8,608.2 660.0,611.7 660.2,608.4 660.4,606.0 660.6,607.4 660.8,600.2 661.0,604.6 661.2,609.7 661.4,609.5 661.6,602.3 661.8,610.6 662.0,609.2 662.2,610.3 662.4,607.7 662.6,608.3 662.7,605.8 662.9,609.3 663.1,610.9 663.3,606.5 663.5,609.8 663.7,607.7 663.9,611.7 664.1,611.6 664.3,603.6 664.5,610.6 664.7,612.0 664.9,608.3 665.1,609.2 665.3,609.4 665.5,607.1 665.7,609.7 665.9,613.8 666.1,611.3 666.3,613.9 666.5,612.7 666.7,613.2 666.9,610.7 667.1,612.3 667.3,615.4 667.5,614.2 667.6,611.4 667.8,609.0 668.0,608.5 668.2,611.4 668.4,612.0 668.6,606.5 668.8,611.5 669.0,611.9 669.2,611.9 669.4,609.8 669.6,616.8 669.8,613.4 670.0,608.0 670.2,609.6 670.4,613.4 670.6,612.7 670.8,611.8 671.0,611.5 671.2,611.1 671.4,610.5 671.6,609.2 671.8,613.1 672.0,605.0 672.2,610.0 672.4,614.8 672.5,610.0 672.7,609.0 672.9,616.5 673.1,614.5 673.3,611.7 673.5,610.6 673.7,611.5 673.9,611.3 674.1,611.6 674.3,610.4 674.5,613.6 674.7,610.9 674.9,607.9 675.1,609.2 675.3,612.4 675.5,610.0 675.7,606.5 675.9,616.1 676.1,613.8 676.3,611.5 676.5,611.4 676.7,613.9 676.9,616.0 677.1,611.3 677.3,613.8 677.4,611.3 677.6,613.7 677.8,610.2 678.0,608.6 678.2,613.2 678.4,612.9 678.6,614.9 678.8,611.6 679.0,616.6 679.2,613.5 679.4,617.1 679.6,612.6 679.8,617.1 680.0,613.4 680.2,613.9 680.4,616.0 680.6,609.4 680.8,611.2 681.0,618.3 681.2,610.3 681.4,612.8 681.6,615.3 681.8,617.6 682.0,612.9 682.2,614.5 682.3,611.6 682.5,613.5 682.7,616.9 682.9,615.3 683.1,614.5 683.3,615.7 683.5,615.1 683.7,615.2 683.9,614.0 684.1,612.6 684.3,616.7 684.5,612.4 684.7,617.6 684.9,620.4 685.1,619.0 685.3,621.0 685.5,613.0 685.7,616.2 685.9,613.7 686.1,614.0 686.3,611.7 686.5,613.0 686.7,618.0 686.9,617.7 687.1,619.0 687.2,618.9 687.4,618.2 687.6,614.5 687.8,616.2 688.0,618.3 688.2,619.6 688.4,615.9 688.6,615.7 688.8,615.9 689.0,620.8 689.2,618.4 689.4,616.4 689.6,615.4 689.8,618.4 690.0,613.4 690.2,616.9 690.4,616.2 690.6,616.3 690.8,618.2 691.0,618.8 691.2,625.1 691.4,618.2 691.6,619.7 691.8,616.2 692.0,614.3 692.1,621.0 692.3,623.0 692.5,616.1 692.7,618.3 692.9,621.2 693.1,618.9 693.3,613.1 693.5,621.2 693.7,618.5 693.9,620.7 694.1,616.7 694.3,621.2 694.5,621.6 694.7,617.5 694.9,620.5 695.1,617.9 695.3,618.2 695.5,617.4 695.7,618.5 695.9,618.0 696.1,622.4 696.3,619.2 696.5,617.1 696.7,623.1 696.9,621.2 697.0,622.3 697.2,619.9 697.4,621.7 697.6,619.9 697.8,618.0 698.0,620.5 698.2,620.6 698.4,620.7 698.6,622.4 698.8,616.4 699.0,621.2 699.2,618.7 699.4,619.9 699.6,621.7 699.8,620.8 700.0,619.2 700.2,622.6 700.4,620.7 700.6,623.1 700.8,623.8 701.0,620.1 701.2,618.4 701.4,621.2 701.6,623.0 701.8,621.9 701.9,618.4 702.1,617.3 702.3,619.1 702.5,619.1 702.7,622.8 702.9,621.5 703.1,623.5 703.3,621.3 703.5,625.4 703.7,621.6 703.9,622.9 704.1,620.7 704.3,622.7 704.5,624.2 704.7,623.5 704.9,624.8 705.1,620.4 705.3,622.9 705.5,625.9 705.7,622.5 705.9,621.6 706.1,621.5 706.3,620.8 706.5,622.4 706.7,625.4 706.8,623.2 707.0,622.2 707.2,620.4 707.4,619.6 707.6,627.8 707.8,621.3 708.0,622.6 708.2,621.3 708.4,622.8 708.6,621.5 708.8,622.8 709.0,625.9 709.2,620.9 709.4,623.8 709.6,622.5 709.8,624.3 710.0,621.1 710.2,623.6 710.4,620.5 710.6,618.6 710.8,619.7 711.0,620.6 711.2,620.2 711.4,622.1 711.6,625.4 711.7,620.3 711.9,623.9 712.1,623.3 712.3,621.3 712.5,620.8 712.7,624.0 712.9,624.1 713.1,622.2 713.3,622.7 713.5,623.0 713.7,620.1 713.9,623.3 714.1,623.8 714.3,627.2 714.5,620.2 714.7,621.2 714.9,623.4 715.1,621.9 715.3,622.3 715.5,623.3 715.7,622.6 715.9,623.2 716.1,624.3 716.3,619.6 716.5,624.6 716.6,618.2 716.8,627.2 717.0,625.5 717.2,622.0 717.4,625.7 717.6,623.1 717.8,624.4 718.0,625.2 718.2,624.2 718.4,623.5 718.6,624.9 718.8,623.0 719.0,622.6 719.2,621.3 719.4,619.4 719.6,627.1 719.8,625.3 720.0,620.3 720.2,624.4 720.4,624.0 720.6,618.5 720.8,621.6 721.0,623.3 721.2,627.4 721.4,626.0 721.5,626.3 721.7,624.2 721.9,625.8 722.1,620.8 722.3,624.9 722.5,625.1 722.7,620.6 722.9,624.0 723.1,626.9 723.3,627.8 723.5,626.7 723.7,621.9 723.9,623.2 724.1,622.3 724.3,626.2 724.5,621.5 724.7,621.0 724.9,619.7 725.1,623.8 725.3,624.4 725.5,622.0 725.7,621.7 725.9,622.9 726.1,626.4 726.3,620.3 726.4,623.2 726.6,623.8 726.8,624.2 727.0,626.1 727.2,625.2 727.4,623.9 727.6,626.6 727.8,625.8 728.0,623.9 728.2,623.7 728.4,620.5 728.6,623.5 728.8,621.4 729.0,620.6 729.2,622.5 729.4,619.2 729.6,621.1 729.8,621.9 730.0,623.8 730.2,622.3 730.4,623.9 730.6,626.5 730.8,624.8 731.0,620.3 731.2,618.8 731.3,620.8 731.5,620.8 731.7,618.3 731.9,618.8 732.1,618.8 732.3,621.3 732.5,625.9 732.7,626.5 732.9,620.2 733.1,621.5 733.3,619.4 733.5,618.7 733.7,622.2 733.9,622.5 734.1,620.9 734.3,623.7 734.5,621.5 734.7,624.7 734.9,621.0 735.1,624.1 735.3,621.7 735.5,622.4 735.7,623.5 735.9,619.0 736.1,620.3 736.2,621.8 736.4,621.3 736.6,622.5 736.8,620.0 737.0,618.8 737.2,621.6 737.4,622.4 737.6,619.9 737.8,624.5 738.0,623.3 738.2,623.6 738.4,623.4 738.6,619.7 738.8,626.4 739.0,620.0 739.2,622.4 739.4,623.2 739.6,622.3 739.8,622.0 740.0,619.7 740.2,620.6 740.4,621.6 740.6,624.5 740.8,620.0 741.0,623.0 741.1,622.4 741.3,621.6 741.5,620.1 741.7,621.1 741.9,617.4 742.1,621.6 742.3,622.1 742.5,620.1 742.7,622.5 742.9,622.0 743.1,619.6 743.3,623.1 743.5,620.0 743.7,626.7 743.9,618.8 744.1,619.3 744.3,619.6 744.5,621.6 744.7,623.6 744.9,621.2 745.1,620.0 745.3,625.2 745.5,623.2 745.7,620.2 745.9,620.5 746.0,617.2 746.2,620.8 746.4,624.6 746.6,617.9 746.8,617.3 747.0,620.8 747.2,615.0 747.4,623.6 747.6,616.9 747.8,618.6 748.0,619.8 748.2,622.9 748.4,621.0 748.6,615.7 748.8,616.1 749.0,620.3 749.2,615.0 749.4,619.0 749.6,617.8 749.8,621.4 750.0,622.3 750.2,613.7 750.4,620.3 750.6,620.8 750.8,617.5 750.9,617.8 751.1,616.3 751.3,618.2 751.5,619.8 751.7,621.9 751.9,622.1 752.1,618.0 752.3,616.7 752.5,620.8 752.7,612.1 752.9,615.1 753.1,619.7 753.3,623.3 753.5,616.3 753.7,618.3 753.9,615.4 754.1,617.7 754.3,617.6 754.5,616.0 754.7,618.5 754.9,617.1 755.1,618.6 755.3,616.9 755.5,614.5 755.7,617.5 755.8,619.1 756.0,615.2 756.2,620.0 756.4,617.9 756.6,615.9 756.8,616.7 757.0,615.6 757.2,614.4 757.4,618.5 757.6,618.4 757.8,615.1 758.0,615.7 758.2,615.5 758.4,617.5 758.6,619.2 758.8,614.1 759.0,616.3 759.2,615.4 759.4,616.7 759.6,618.6 759.8,613.1 760.0,610.3 760.2,614.5 760.4,611.1 760.6,618.6 760.7,612.9 760.9,613.8 761.1,614.8 761.3,614.6 761.5,613.0 761.7,613.8 761.9,615.8 762.1,612.7 762.3,617.5 762.5,613.8 762.7,607.3 762.9,614.7 763.1,608.3 763.3,612.9 763.5,617.2 763.7,614.2 763.9,608.8 764.1,609.3 764.3,611.0 764.5,614.1 764.7,608.7 764.9,612.8 765.1,610.6 765.3,609.4 765.5,608.9 765.6,613.0 765.8,605.2 766.0,605.8 766.2,610.3 766.4,610.2 766.6,604.5 766.8,605.1 767.0,604.2 767.2,608.0 767.4,604.8 767.6,609.4 767.8,607.6 768.0,606.0 768.2,605.6 768.4,606.1 768.6,606.5 768.8,604.2 769.0,604.4 769.2,605.4 769.4,603.0 769.6,605.3 769.8,602.2 770.0,600.4 770.2,602.4 770.4,605.6 770.5,604.9 770.7,597.1 770.9,601.4 771.1,599.1 771.3,599.2 771.5,598.9 771.7,598.8 771.9,597.8 772.1,598.1 772.3,599.0 772.5,595.2 772.7,594.9 772.9,594.8 773.1,594.5 773.3,598.4 773.5,594.0 773.7,596.2 773.9,596.3 774.1,597.6 774.3,595.7 774.5,597.9 774.7,595.0 774.9,595.5 775.1,596.5 775.3,590.8 775.4,595.1 775.6,597.6 775.8,594.0 776.0,592.9 776.2,597.9 776.4,593.3 776.6,595.9 776.8,586.8 777.0,592.7 777.2,591.1 777.4,593.1 777.6,594.9 777.8,591.4 778.0,591.1 778.2,584.6 778.4,593.3 778.6,594.5 778.8,591.5 779.0,589.9 779.2,591.8 779.4,593.4 779.6,592.4 779.8,595.8 780.0,589.3 780.2,587.2 780.3,591.8 780.5,593.7 780.7,589.4 780.9,590.5 781.1,588.9 781.3,587.4 781.5,588.7 781.7,585.4 781.9,591.2 782.1,591.8 782.3,592.8 782.5,588.7 782.7,589.2 782.9,586.7 783.1,587.3 783.3,593.1 783.5,598.0 783.7,588.5 783.9,590.2 784.1,593.6 784.3,589.7 784.5,593.0 784.7,590.9 784.9,591.0 785.1,594.1 785.2,591.4 785.4,589.0 785.6,594.3 785.8,592.5 786.0,591.2 786.2,590.8 786.4,594.3 786.6,591.3 786.8,593.5 787.0,595.8 787.2,593.3 787.4,596.4 787.6,590.5 787.8,595.6 788.0,595.6 788.2,599.1 788.4,594.7 788.6,597.1 788.8,594.7 789.0,592.7 789.2,593.4 789.4,594.0 789.6,597.8 789.8,594.2 790.0,596.5 790.1,598.8 790.3,599.8 790.5,599.3 790.7,600.9 790.9,594.7 791.1,596.5 791.3,598.7 791.5,600.9 791.7,599.6 791.9,596.8 792.1,598.4 792.3,595.1 792.5,601.3 792.7,595.3 792.9,600.4 793.1,602.7 793.3,602.5 793.5,596.7 793.7,601.3 793.9,600.2 794.1,600.6 794.3,605.5 794.5,602.5 794.7,598.6 794.9,599.7 795.0,604.2 795.2,603.3 795.4,600.3 795.6,599.2 795.8,602.1 796.0,602.6 796.2,605.9 796.4,602.7 796.6,606.0 796.8,607.5 797.0,601.0 797.2,603.7 797.4,609.0 797.6,604.5 797.8,605.7 798.0,608.3 798.2,604.4 798.4,605.4 798.6,602.7 798.8,608.1 799.0,605.9 799.2,606.3 799.4,601.3 799.6,609.9 799.8,609.5 799.9,606.1 800.1,611.1 800.3,602.6 800.5,608.4 800.7,604.8 800.9,615.4 801.1,603.0 801.3,606.5 801.5,607.8 801.7,611.7 801.9,611.9 802.1,611.1 802.3,609.8 802.5,615.6 802.7,609.1 802.9,611.8 803.1,615.3 803.3,608.6 803.5,609.8 803.7,614.5 803.9,613.2 804.1,609.3 804.3,612.6 804.5,617.3 804.7,612.4 804.8,615.1 805.0,613.7 805.2,612.1 805.4,617.7 805.6,616.4 805.8,617.2 806.0,614.2 806.2,615.1 806.4,615.6 806.6,616.3 806.8,614.7 807.0,614.6 807.2,619.0 807.4,613.7 807.6,615.4 807.8,615.8 808.0,615.8 808.2,614.4 808.4,615.6 808.6,619.5 808.8,617.1 809.0,616.4 809.2,622.2 809.4,615.5 809.6,621.2 809.7,619.9 809.9,616.2 810.1,618.7 810.3,618.9 810.5,623.0 810.7,622.4 810.9,619.9 811.1,618.1 811.3,617.2 811.5,620.9 811.7,618.3 811.9,621.4 812.1,621.6 812.3,623.1 812.5,624.8 812.7,623.0 812.9,624.1 813.1,622.8 813.3,625.8 813.5,625.6 813.7,627.6 813.9,627.3 814.1,622.8 814.3,621.4 814.5,626.4 814.6,627.8 814.8,623.9 815.0,629.0 815.2,626.1 815.4,625.9 815.6,627.2 815.8,623.4 816.0,623.1 816.2,626.3 816.4,624.6 816.6,627.5 816.8,627.7 817.0,622.2 817.2,626.4 817.4,629.6 817.6,623.4 817.8,628.1 818.0,626.1 818.2,624.9 818.4,632.0 818.6,632.1 818.8,629.0 819.0,629.1 819.2,633.5 819.4,633.3 819.5,630.8 819.7,633.0 819.9,631.5 820.1,630.8 820.3,633.0 820.5,630.9 820.7,633.4 820.9,631.8 821.1,631.5 821.3,631.5 821.5,633.9 821.7,635.2 821.9,634.3 822.1,631.6 822.3,635.1 822.5,631.9 822.7,631.6 822.9,633.9 823.1,636.3 823.3,636.2 823.5,636.1 823.7,638.1 823.9,637.1 824.1,634.7 824.3,637.3 824.4,635.2 824.6,636.9 824.8,637.5 825.0,636.2 825.2,633.3 825.4,636.4 825.6,636.2 825.8,636.8 826.0,636.3 826.2,634.9 826.4,634.1 826.6,639.1 826.8,639.5 827.0,638.8 827.2,638.1 827.4,642.5 827.6,639.9 827.8,638.6 828.0,640.5 828.2,638.7 828.4,640.5 828.6,639.7 828.8,640.4 829.0,639.5 829.2,638.6 829.3,640.7 829.5,642.2 829.7,637.9 829.9,638.9 830.1,637.8 830.3,642.1 830.5,639.9 830.7,642.3 830.9,638.9 831.1,642.4 831.3,639.5 831.5,639.9 831.7,642.1 831.9,640.3 832.1,639.9 832.3,643.2 832.5,641.3 832.7,644.1 832.9,647.0 833.1,640.5 833.3,641.1 833.5,638.7 833.7,639.5 833.9,643.4 834.1,642.9 834.2,642.9 834.4,643.4 834.6,640.8 834.8,639.1 835.0,645.0 835.2,643.4 835.4,645.3 835.6,643.0 835.8,644.7 836.0,642.1 836.2,643.3 836.4,643.1 836.6,644.3 836.8,646.6 837.0,645.1 837.2,637.8 837.4,643.7 837.6,644.0 837.8,645.8 838.0,644.5 838.2,642.8 838.4,642.8 838.6,643.8 838.8,643.1 839.0,647.7 839.1,646.0 839.3,645.0 839.5,647.0 839.7,649.6 839.9,644.7 840.1,645.2 840.3,644.7 840.5,642.9 840.7,644.2 840.9,643.7 841.1,646.7 841.3,646.8 841.5,647.7 841.7,644.4 841.9,648.1 842.1,644.2 842.3,645.9 842.5,649.0 842.7,649.0 842.9,648.8 843.1,651.0 843.3,648.9 843.5,646.3 843.7,646.5 843.9,645.4 844.0,647.6 844.2,645.6 844.4,646.0 844.6,645.3 844.8,643.9 845.0,652.6 845.2,649.4 845.4,643.4 845.6,648.7 845.8,646.7 846.0,643.5 846.2,647.6 846.4,648.5 846.6,649.4 846.8,650.5 847.0,646.6 847.2,648.3 847.4,649.9 847.6,649.7 847.8,649.5 848.0,649.0 848.2,651.4 848.4,646.3 848.6,645.9 848.8,652.7 848.9,650.0 849.1,651.5 849.3,649.8 849.5,648.7 849.7,648.6 849.9,649.9 850.1,648.7 850.3,649.6 850.5,649.6 850.7,651.6 850.9,651.6 851.1,653.3 851.3,648.7 851.5,650.1 851.7,652.3 851.9,651.1 852.1,645.5 852.3,651.3 852.5,650.6 852.7,649.7 852.9,649.9 853.1,649.4 853.3,653.3 853.5,652.4 853.7,651.5 853.8,653.4 854.0,653.1 854.2,649.6 854.4,649.2 854.6,649.4 854.8,653.0 855.0,651.6 855.2,654.1 855.4,652.8 855.6,651.4 855.8,649.3 856.0,651.4 856.2,656.5 856.4,650.7 856.6,650.5 856.8,651.8 857.0,655.0 857.2,652.3 857.4,650.2 857.6,651.3 857.8,652.3 858.0,652.8 858.2,654.7 858.4,657.8 858.6,655.6 858.7,654.2 858.9,652.9 859.1,651.4 859.3,654.2 859.5,655.7 859.7,654.8 859.9,653.0 860.1,654.6 860.3,652.9 860.5,653.1 860.7,653.0 860.9,653.7 861.1,653.4 861.3,655.7 861.5,653.7 861.7,653.5 861.9,655.9 862.1,655.2 862.3,656.1 862.5,652.4 862.7,656.6 862.9,654.0 863.1,652.0 863.3,653.8 863.5,651.7 863.6,652.2 863.8,653.5 864.0,656.2 864.2,651.7 864.4,655.0 864.6,653.9 864.8,657.6 865.0,654.9 865.2,655.8 865.4,657.4 865.6,652.5 865.8,654.1 866.0,651.8 866.2,653.2 866.4,655.5 866.6,654.6 866.8,655.8 867.0,654.2 867.2,653.7 867.4,654.8 867.6,653.4 867.8,653.0 868.0,652.1 868.2,655.0 868.4,656.1 868.5,652.9 868.7,654.4 868.9,650.8 869.1,653.0 869.3,655.5 869.5,652.9 869.7,656.3 869.9,654.7 870.1,656.2 870.3,654.5 870.5,652.8 870.7,655.6 870.9,657.1 871.1,654.7 871.3,656.5 871.5,654.4 871.7,655.1 871.9,658.3 872.1,655.8 872.3,654.1 872.5,657.0 872.7,656.1 872.9,655.0 873.1,657.4 873.3,650.4 873.4,657.2 873.6,659.9 873.8,656.8 874.0,652.5 874.2,658.9 874.4,661.2 874.6,657.4 874.8,654.3 875.0,655.1 875.2,656.2 875.4,656.8 875.6,658.8 875.8,657.6 876.0,652.2 876.2,656.0 876.4,656.3 876.6,660.3 876.8,655.5 877.0,654.0 877.2,656.1 877.4,657.3 877.6,653.2 877.8,658.9 878.0,656.6 878.2,658.4 878.3,658.2 878.5,657.9 878.7,659.6 878.9,660.2 879.1,656.2 879.3,656.9 879.5,659.0 879.7,657.4 879.9,655.9 880.1,657.3 880.3,655.5 880.5,656.2 880.7,650.5 880.9,657.4 881.1,660.8 881.3,658.7 881.5,658.6 881.7,657.6 881.9,655.8 882.1,658.3 882.3,657.5 882.5,657.1 882.7,657.9 882.9,656.3 883.1,657.7 883.2,658.7 883.4,659.4 883.6,657.8 883.8,659.1 884.0,657.9 884.2,653.1 884.4,653.8 884.6,657.2 884.8,655.4 885.0,658.7 885.2,655.1 885.4,656.9 885.6,656.6 885.8,656.3 886.0,656.6 886.2,657.7 886.4,657.9 886.6,656.7 886.8,658.1 887.0,658.9 887.2,657.4 887.4,656.5 887.6,656.5 887.8,656.9 888.0,656.9 888.1,658.1 888.3,663.2 888.5,660.1 888.7,658.0 888.9,659.2 889.1,659.2 889.3,660.5 889.5,660.8 889.7,656.2 889.9,662.4 890.1,656.4 890.3,658.3 890.5,656.5 890.7,654.9 890.9,654.7 891.1,662.1 891.3,661.1 891.5,656.3 891.7,656.1 891.9,661.2 892.1,656.4 892.3,659.2 892.5,662.3 892.7,659.8 892.9,661.3 893.0,658.8 893.2,655.1 893.4,656.8 893.6,654.9 893.8,659.1 894.0,655.9 894.2,658.7 894.4,657.5 894.6,657.1 894.8,659.5 895.0,657.6 895.2,656.9 895.4,660.4 895.6,658.4 895.8,655.6 896.0,660.9 896.2,655.8 896.4,659.0 896.6,659.6 896.8,658.1 897.0,657.0 897.2,658.0 897.4,657.9 897.6,656.5 897.8,660.3 897.9,657.5 898.1,657.2 898.3,661.4 898.5,657.2 898.7,655.7 898.9,658.6 899.1,658.7 899.3,658.8 899.5,662.8 899.7,657.6 899.9,661.4 900.1,660.5 900.3,661.6 900.5,658.6 900.7,658.2 900.9,658.4 901.1,659.5 901.3,660.8 901.5,662.1 901.7,655.4 901.9,661.0 902.1,659.7 902.3,659.1 902.5,656.9 902.7,659.7 902.8,655.4 903.0,661.5 903.2,657.2 903.4,658.8 903.6,658.7 903.8,660.2 904.0,656.5 904.2,660.7 904.4,659.9 904.6,662.2 904.8,659.7 905.0,658.9 905.2,655.4 905.4,658.4 905.6,662.4 905.8,658.3 906.0,658.2 906.2,658.9 906.4,660.9 906.6,655.8 906.8,662.8 907.0,660.4 907.2,660.7 907.4,659.3 907.6,663.2 907.7,658.5 907.9,660.9 908.1,659.5 908.3,656.9 908.5,659.1 908.7,660.8 908.9,658.9 909.1,658.6 909.3,659.4 909.5,657.7 909.7,657.3 909.9,659.6 910.1,657.6 910.3,660.6 910.5,660.9 910.7,662.1 910.9,661.4 911.1,659.0 911.3,660.4 911.5,657.3 911.7,660.4 911.9,658.6 912.1,662.3 912.3,658.3 912.5,660.0 912.6,658.2 912.8,660.9 913.0,660.9 913.2,657.8 913.4,663.6 913.6,660.7 913.8,657.0 914.0,658.0 914.2,656.2 914.4,655.9 914.6,659.5 914.8,655.8 915.0,660.6 915.2,656.7 915.4,659.1 915.6,663.2 915.8,659.2 916.0,659.9 916.2,662.4 916.4,659.3 916.6,661.0 916.8,658.4 917.0,659.3 917.2,660.3 917.4,660.1 917.5,658.5 917.7,660.5 917.9,661.3 918.1,661.3 918.3,660.2 918.5,658.3 918.7,661.5 918.9,661.8 919.1,658.2 919.3,655.7 919.5,659.8 919.7,662.2 919.9,661.9 920.1,657.9 920.3,662.8 920.5,658.5 920.7,662.1 920.9,659.5 921.1,662.2 921.3,661.3 921.5,659.9 921.7,661.7 921.9,659.1 922.1,659.6 922.3,659.7 922.4,658.7 922.6,662.2 922.8,662.2 923.0,660.4 923.2,658.5 923.4,661.3 923.6,661.0 923.8,661.7 924.0,660.4 924.2,660.0 924.4,663.2 924.6,659.3 924.8,660.1 925.0,657.0 925.2,659.8 925.4,659.6 925.6,659.9 925.8,661.7 926.0,659.4 926.2,661.4 926.4,659.8 926.6,659.7 926.8,657.0 927.0,661.4 927.2,661.8 927.3,658.7 927.5,659.4 927.7,657.1 927.9,659.9 928.1,658.4 928.3,661.3 928.5,660.4 928.7,661.8 928.9,659.0 929.1,657.3 929.3,660.4 929.5,659.4 929.7,664.2 929.9,661.1 930.1,663.4 930.3,661.6 930.5,660.0 930.7,657.7 930.9,660.2 931.1,661.8 931.3,660.8 931.5,661.3 931.7,661.2 931.9,658.1 932.1,661.2 932.2,659.1 932.4,660.6 932.6,663.3 932.8,656.8 933.0,660.2 933.2,661.3 933.4,662.8 933.6,660.8 933.8,659.1 934.0,662.2 934.2,661.8 934.4,657.2 934.6,660.8 934.8,657.3 935.0,655.6 935.2,658.7 935.4,658.9 935.6,656.5 935.8,664.3 936.0,658.1 936.2,661.4 936.4,662.1 936.6,665.0 936.8,660.1 937.0,663.9 937.1,658.5 937.3,660.7 937.5,660.0 937.7,658.8 937.9,661.5 938.1,664.5 938.3,664.9 938.5,662.1 938.7,658.6 938.9,659.2 939.1,662.0 939.3,661.9 939.5,661.9 939.7,660.3 939.9,659.0 940.1,661.7 940.3,660.8 940.5,663.6 940.7,659.4 940.9,662.5 941.1,663.5 941.3,664.7 941.5,664.7 941.7,658.8 941.9,658.5 942.0,661.1 942.2,659.1 942.4,656.1 942.6,663.7 942.8,661.8 943.0,662.8 943.2,661.2 943.4,663.1 943.6,661.3 943.8,661.1 944.0,664.6 944.2,658.5 944.4,661.9 944.6,657.7 944.8,663.8 945.0,660.4 945.2,658.4 945.4,657.2 945.6,660.4 945.8,664.7 946.0,661.8 946.2,657.7 946.4,656.7 946.6,666.4 946.8,659.6 946.9,657.8 947.1,661.0 947.3,661.9 947.5,663.9 947.7,660.3 947.9,659.3 948.1,662.1 948.3,659.1 948.5,661.4 948.7,661.1 948.9,662.7 949.1,659.3 949.3,659.4 949.5,661.3 949.7,661.6 949.9,657.8 950.1,659.1 950.3,661.0 950.5,659.9 950.7,665.2 950.9,662.1 951.1,663.2 951.3,660.5 951.5,660.8 951.7,660.9 951.8,662.8 952.0,660.0 952.2,663.8 952.4,659.2 952.6,662.6 952.8,661.2 953.0,659.9 953.2,663.8 953.4,662.6 953.6,660.3 953.8,659.1 954.0,662.3 954.2,659.0 954.4,661.7 954.6,658.8 954.8,660.8 955.0,658.9 955.2,660.2 955.4,663.9 955.6,664.1 955.8,659.7 956.0,660.1 956.2,657.3 956.4,661.2 956.6,662.8 956.7,658.9 956.9,658.8 957.1,661.3 957.3,659.4 957.5,661.0 957.7,663.7 957.9,661.5 958.1,661.9 958.3,664.3 958.5,661.1 958.7,661.9 958.9,660.7 959.1,659.1 959.3,663.8 959.5,657.8 959.7,660.7 959.9,658.2 960.1,658.9 960.3,658.0 960.5,660.0 960.7,661.5 960.9,663.1 961.1,656.8 961.3,661.0 961.5,659.7 961.6,659.3 961.8,660.3 962.0,660.9 962.2,660.3 962.4,660.5 962.6,664.8 962.8,660.7 963.0,661.2 963.2,658.2 963.4,662.6 963.6,659.4 963.8,660.3 964.0,658.9 964.2,660.3 964.4,658.6 964.6,657.9 964.8,657.7 965.0,659.7 965.2,660.5 965.4,661.9 965.6,663.7 965.8,664.1 966.0,659.2 966.2,659.0 966.4,661.9 966.5,658.7 966.7,662.6 966.9,662.5 967.1,658.5 967.3,661.9 967.5,663.3 967.7,661.3 967.9,659.9 968.1,660.1 968.3,661.4 968.5,659.0 968.7,661.1 968.9,660.0 969.1,659.0 969.3,658.5 969.5,661.5 969.7,658.6 969.9,660.9 970.1,656.8 970.3,660.0 970.5,660.6 970.7,661.1 970.9,662.3 971.1,661.4 971.3,661.5 971.4,659.8 971.6,658.3 971.8,658.1 972.0,658.9 972.2,660.8 972.4,662.3 972.6,661.0 972.8,660.7 973.0,661.8 973.2,659.7 973.4,660.7 973.6,660.1 973.8,660.7 974.0,659.9 974.2,657.7 974.4,659.5 974.6,658.7 974.8,663.6 975.0,663.0 975.2,659.0 975.4,658.5 975.6,660.2 975.8,657.2 976.0,662.6 976.2,660.0 976.3,659.2 976.5,662.2 976.7,662.6 976.9,660.4 977.1,662.0 977.3,656.8 977.5,658.5 977.7,658.4 977.9,656.8 978.1,661.7 978.3,664.7 978.5,657.4 978.7,658.8 978.9,662.0 979.1,659.3 979.3,659.9 979.5,658.3 979.7,660.5 979.9,657.9 980.1,661.3 980.3,660.8 980.5,660.5 980.7,658.3 980.9,659.3 981.1,660.7 981.2,658.0 981.4,657.8 981.6,655.2 981.8,658.6 982.0,659.4 982.2,661.5 982.4,657.3 982.6,656.8 982.8,662.0 983.0,661.7 983.2,657.3 983.4,658.6 983.6,655.9 983.8,659.4 984.0,662.0 984.2,661.0 984.4,657.4 984.6,660.0 984.8,658.0 985.0,660.0 985.2,658.3 985.4,660.6 985.6,661.8 985.8,660.0 986.0,660.0 986.1,660.1 986.3,661.0 986.5,658.5 986.7,658.9 986.9,658.9 987.1,661.8 987.3,659.5 987.5,660.3 987.7,658.5 987.9,656.5 988.1,658.5 988.3,660.1 988.5,658.5 988.7,658.0 988.9,658.3 989.1,660.1 989.3,659.9 989.5,659.0 989.7,657.1 989.9,657.6 990.1,666.1 990.3,658.6 990.5,660.1 990.7,659.5 990.9,656.2 991.0,661.5 991.2,659.0 991.4,657.1 991.6,660.3 991.8,657.7 992.0,659.4 992.2,656.1 992.4,658.4 992.6,660.0 992.8,657.7 993.0,655.9 993.2,657.0 993.4,659.9 993.6,655.5 993.8,655.8 994.0,660.1 994.2,658.7 994.4,658.4 994.6,657.6 994.8,659.2 995.0,660.1 995.2,659.3 995.4,655.0 995.6,659.6 995.8,655.1 995.9,661.7 996.1,657.4 996.3,659.5 996.5,658.9 996.7,657.0 996.9,660.6 997.1,658.7 997.3,662.4 997.5,659.5 997.7,658.9 997.9,663.1 998.1,660.9 998.3,658.2 998.5,656.6 998.7,661.9 998.9,660.5 999.1,660.5 999.3,657.5 999.5,656.9 999.7,656.3 999.9,660.3 1000.1,657.7 1000.3,659.3 1000.5,653.7 1000.7,660.0 1000.8,656.5 1001.0,652.5 1001.2,655.3 1001.4,658.7 1001.6,660.8 1001.8,652.3 1002.0,655.0 1002.2,658.0 1002.4,654.6 1002.6,656.8 1002.8,655.6 1003.0,657.8 1003.2,654.6 1003.4,656.9 1003.6,655.8 1003.8,657.8 1004.0,657.3 1004.2,659.5 1004.4,657.9 1004.6,661.0 1004.8,654.2 1005.0,656.9 1005.2,658.9 1005.4,657.6 1005.6,652.1 1005.7,658.0 1005.9,656.3 1006.1,662.2 1006.3,657.1 1006.5,658.6 1006.7,655.3 1006.9,658.6 1007.1,651.6 1007.3,655.2 1007.5,656.4 1007.7,653.9 1007.9,659.1 1008.1,657.2 1008.3,660.4 1008.5,654.2 1008.7,655.4 1008.9,658.4 1009.1,656.0 1009.3,658.7 1009.5,658.3 1009.7,655.5 1009.9,657.2 1010.1,658.0 1010.3,657.4 1010.5,656.5 1010.6,655.9 1010.8,656.4 1011.0,658.8 1011.2,661.0 1011.4,653.9 1011.6,654.7 1011.8,656.4 1012.0,659.6 1012.2,654.9 1012.4,661.4 1012.6,661.3 1012.8,651.8 1013.0,658.0 1013.2,657.8 1013.4,655.7 1013.6,652.8 1013.8,657.1 1014.0,655.7 1014.2,658.9 1014.4,657.6 1014.6,654.5 1014.8,660.4 1015.0,660.1 1015.2,659.4 1015.4,656.5 1015.5,658.2 1015.7,656.5 1015.9,655.2 1016.1,652.5 1016.3,656.8 1016.5,652.2 1016.7,657.6 1016.9,653.4 1017.1,656.6 1017.3,655.5 1017.5,653.8 1017.7,653.9 1017.9,654.8 1018.1,659.0 1018.3,656.7 1018.5,655.4 1018.7,657.6 1018.9,653.5 1019.1,652.7 1019.3,654.0 1019.5,657.9 1019.7,655.1 1019.9,655.9 1020.1,655.9 1020.3,654.8 1020.4,658.1 1020.6,657.0 1020.8,653.8 1021.0,653.4 1021.2,655.4 1021.4,653.5 1021.6,655.4 1021.8,656.9 1022.0,655.4 1022.2,655.7 1022.4,654.2 1022.6,653.6 1022.8,653.1 1023.0,657.9 1023.2,653.6 1023.4,655.3 1023.6,655.3 1023.8,656.0 1024.0,654.4 1024.2,651.7 1024.4,659.3 1024.6,652.8 1024.8,656.2 1025.0,652.7 1025.2,656.3 1025.3,652.7 1025.5,658.3 1025.7,655.8 1025.9,651.5 1026.1,658.2 1026.3,650.8 1026.5,654.0 1026.7,657.0 1026.9,653.9 1027.1,657.3 1027.3,654.7 1027.5,653.4 1027.7,657.2 1027.9,654.6 1028.1,653.5 1028.3,656.4 1028.5,653.9 1028.7,651.6 1028.9,652.9 1029.1,659.5 1029.3,659.1 1029.5,651.1 1029.7,656.0 1029.9,656.9 1030.1,653.7 1030.2,655.7 1030.4,652.1 1030.6,653.5 1030.8,656.4 1031.0,654.0 1031.2,653.8 1031.4,653.6 1031.6,651.3 1031.8,651.9 1032.0,652.9 1032.2,653.7 1032.4,652.2 1032.6,657.9 1032.8,650.3 1033.0,651.7 1033.2,652.6 1033.4,655.0 1033.6,650.9 1033.8,654.4 1034.0,652.1 1034.2,652.2 1034.4,654.7 1034.6,655.5 1034.8,655.9 1035.0,651.3 1035.1,655.9 1035.3,655.9 1035.5,654.4 1035.7,654.7 1035.9,653.8 1036.1,653.4 1036.3,655.5 1036.5,657.2 1036.7,653.2 1036.9,654.5 1037.1,655.7 1037.3,650.8 1037.5,657.1 1037.7,654.5 1037.9,656.7 1038.1,653.1 1038.3,651.8 1038.5,653.4 1038.7,654.3 1038.9,651.7 1039.1,655.6 1039.3,654.2 1039.5,651.4 1039.7,654.7 1039.9,653.3 1040.0,653.7 1040.2,652.8 1040.4,652.2 1040.6,651.1 1040.8,653.9 1041.0,653.8 1041.2,654.7 1041.4,652.2 1041.6,654.6 1041.8,655.4 1042.0,651.2 1042.2,654.1 1042.4,658.3 1042.6,652.6 1042.8,653.0 1043.0,653.5 1043.2,652.5 1043.4,655.4 1043.6,653.4 1043.8,653.4 1044.0,652.0 1044.2,654.8 1044.4,653.4 1044.6,652.8 1044.8,652.9 1044.9,656.9 1045.1,653.6 1045.3,654.2 1045.5,656.4 1045.7,653.4 1045.9,655.6 1046.1,651.5 1046.3,655.0 1046.5,649.2 1046.7,653.9 1046.9,652.7 1047.1,652.1 1047.3,655.9 1047.5,655.2 1047.7,655.4 1047.9,656.8 1048.1,654.7 1048.3,654.8 1048.5,653.5 1048.7,657.6 1048.9,655.5 1049.1,652.0 1049.3,651.8 1049.5,652.1 1049.7,652.1 1049.8,656.3 1050.0,654.3 1050.2,655.9 1050.4,652.1 1050.6,652.1 1050.8,656.2 1051.0,649.5 1051.2,651.2 1051.4,649.3 1051.6,652.3 1051.8,659.0 1052.0,652.1 1052.2,655.9 1052.4,657.1 1052.6,652.3 1052.8,652.2 1053.0,654.4 1053.2,655.1 1053.4,650.5 1053.6,652.1 1053.8,657.2 1054.0,652.1 1054.2,654.5 1054.4,655.9 1054.6,653.1 1054.7,653.4 1054.9,652.7 1055.1,652.4 1055.3,652.6 1055.5,650.4 1055.7,652.8 1055.9,653.4 1056.1,655.3 1056.3,653.0 1056.5,652.5 1056.7,657.8 1056.9,653.9 1057.1,653.4 1057.3,652.8 1057.5,653.9 1057.7,652.2 1057.9,652.9"/>
<path stroke="#008000" d="M82.0,389.2 82.2,390.1 82.4,393.7 82.6,391.7 82.8,387.3 83.0,390.4 83.2,389.2 83.4,390.7 83.6,387.3 83.8,390.9 84.0,390.8 84.2,393.4 84.4,391.0 84.5,391.3 84.7,387.4 84.9,394.7 85.1,386.6 85.3,392.4 85.5,389.6 85.7,388.6 85.9,389.0 86.1,388.9 86.3,391.0 86.5,390.0 86.7,393.1 86.9,386.7 87.1,390.2 87.3,388.5 87.5,391.7 87.7,386.1 87.9,389.5 88.1,390.6 88.3,387.3 88.5,392.1 88.7,390.5 88.9,392.1 89.1,392.0 89.3,388.2 89.4,388.6 89.6,389.8 89.8,391.6 90.0,391.8 90.2,388.8 90.4,389.0 90.6,388.6 90.8,389.0 91.0,389.7 91.2,389.9 91.4,394.2 91.6,389.2 91.8,389.6 92.0,391.1 92.2,388.3 92.4,389.4 92.6,390.2 92.8,391.7 93.0,387.6 93.2,392.8 93.4,389.5 93.6,390.5 93.8,391.8 94.0,391.5 94.2,392.3 94.3,390.5 94.5,390.2 94.7,390.8 94.9,388.3 95.1,392.6 95.3,388.7 95.5,387.8 95.7,394.2 95.9,390.0 96.1,387.9 96.3,393.8 96.5,389.6 96.7,392.3 96.9,388.6 97.1,389.8 97.3,387.0 97.5,386.5 97.7,388.4 97.9,390.1 98.1,391.8 98.3,395.0 98.5,388.3 98.7,392.3 98.9,389.1 99.1,390.0 99.2,387.4 99.4,387.4 99.6,388.8 99.8,388.0 100.0,390.3 100.2,389.0 100.4,392.8 100.6,390.7 100.8,390.7 101.0,392.6 101.2,391.4 101.4,390.3 101.6,390.2 101.8,390.2 102.0,392.5 102.2,392.0 102.4,391.2 102.6,392.0 102.8,389.4 103.0,391.5 103.2,387.7 103.4,393.1 103.6,390.7 103.8,390.9 104.0,391.7 104.1,390.5 104.3,390.0 104.5,392.8 104.7,390.8 104.9,388.8 105.1,391.4 105.3,387.2 105.5,393.8 105.7,390.3 105.9,390.7 106.1,395.0 106.3,394.8 106.5,390.9 106.7,391.9 106.9,392.8 107.1,394.0 107.3,390.5 107.5,391.0 107.7,393.2 107.9,391.3 108.1,392.3 108.3,392.0 108.5,388.7 108.7,389.2 108.9,385.8 109.0,390.5 109.2,393.6 109.4,388.9 109.6,393.5 109.8,393.0 110.0,391.0 110.2,391.1 110.4,391.3 110.6,389.5 110.8,390.7 111.0,391.2 111.2,392.5 111.4,392.9 111.6,389.9 111.8,393.0 112.0,389.9 112.2,391.2 112.4,392.2 112.6,391.5 112.8,391.3 113.0,392.1 113.2,390.6 113.4,390.4 113.6,391.3 113.8,393.6 113.9,391.6 114.1,395.5 114.3,392.2 114.5,386.1 114.7,391.0 114.9,395.1 115.1,392.0 115.3,391.1 115.5,390.3 115.7,394.6 115.9,394.0 116.1,393.4 116.3,392.9 116.5,394.9 116.7,393.7 116.9,389.8 117.1,393.7 117.3,392.5 117.5,392.0 117.7,393.7 117.9,392.3 118.1,386.6 118.3,395.3 118.5,394.3 118.7,392.1 118.8,391.6 119.0,392.8 119.2,389.9 119.4,392.9 119.6,391.9 119.8,391.7 120.0,390.6 120.2,391.0 120.4,394.5 120.6,394.9 120.8,393.3 121.0,392.2 121.2,390.6 121.4,393.7 121.6,395.4 121.8,389.1 122.0,394.5 122.2,388.0 122.4,391.6 122.6,392.9 122.8,389.5 123.0,389.2 123.2,392.5 123.4,393.8 123.6,391.1 123.7,394.6 123.9,390.5 124.1,395.4 124.3,392.2 124.5,392.3 124.7,393.0 124.9,392.4 125.1,395.3 125.3,396.0 125.5,392.8 125.7,391.3 125.9,389.3 126.1,390.1 126.3,391.5 126.5,391.3 126.7,391.4 126.9,391.4 127.1,392.3 127.3,388.7 127.5,389.3 127.7,393.4 127.9,392.8 128.1,390.1 128.3,393.6 128.5,389.7 128.6,390.5 128.8,387.4 129.0,392.5 129.2,390.8 129.4,392.9 129.6,392.1 129.8,390.9 130.0,391.0 130.2,392.9 130.4,390.2 130.6,390.2 130.8,390.6 131.0,392.0 131.2,392.2 131.4,394.1 131.6,390.1 131.8,392.7 132.0,388.9 132.2,391.4 132.4,390.4 132.6,393.5 132.8,391.3 133.0,389.2 133.2,391.1 133.4,390.6 133.5,389.3 133.7,389.3 133.9,388.0 134.1,395.2 134.3,390.1 134.5,391.7 134.7,387.5 134.9,387.6 135.1,389.4 135.3,389.4 135.5,391.2 135.7,387.6 135.9,390.6 136.1,392.5 136.3,387.7 136.5,391.3 136.7,387.6 136.9,390.1 137.1,390.1 137.3,392.8 137.5,388.0 137.7,389.7 137.9,391.4 138.1,387.0 138.3,389.3 138.4,387.6 138.6,387.9 138.8,390.6 139.0,390.6 139.2,394.3 139.4,391.9 139.6,391.7 139.8,388.8 140.0,388.6 140.2,389.4 140.4,384.7 140.6,392.3 140.8,387.8 141.0,387.0 141.2,388.1 141.4,390.7 141.6,391.4 141.8,388.2 142.0,389.8 142.2,388.8 142.4,387.0 142.6,389.2 142.8,388.9 143.0,385.9 143.2,391.0 143.3,385.7 143.5,389.3 143.7,386.7 143.9,387.2 144.1,387.4 144.3,390.1 144.5,386.2 144.7,388.3 144.9,391.7 145.1,387.3 145.3,388.5 145.5,389.9 145.7,387.4 145.9,389.5 146.1,387.2 146.3,389.9 146.5,388.6 146.7,386.6 146.9,391.2 147.1,388.2 147.3,387.8 147.5,386.5 147.7,387.4 147.9,388.1 148.1,388.5 148.2,390.3 148.4,385.6 148.6,387.4 148.8,390.4 149.0,388.4 149.2,388.8 149.4,391.1 149.6,388.6 149.8,388.8 150.0,387.7 150.2,391.2 150.4,389.8 150.6,386.2 150.8,388.6 151.0,385.2 151.2,389.5 151.4,388.6 151.6,386.8 151.8,386.2 152.0,383.3 152.2,388.2 152.4,386.3 152.6,385.8 152.8,387.7 153.0,384.7 153.1,384.7 153.3,384.3 153.5,382.8 153.7,390.1 153.9,384.7 154.1,384.2 154.3,386.5 154.5,378.2 154.7,384.2 154.9,384.1 155.1,381.9 155.3,384.5 155.5,379.3 155.7,383.2 155.9,384.7 156.1,378.2 156.3,379.5 156.5,381.9 156.7,381.9 156.9,380.4 157.1,382.2 157.3,381.7 157.5,378.2 157.7,380.5 157.9,377.9 158.0,376.1 158.2,375.2 158.4,381.9 158.6,379.4 158.8,383.4 159.0,376.3 159.2,378.3 159.4,379.5 159.6,378.4 159.8,379.5 160.0,378.6 160.2,376.9 160.4,373.3 160.6,376.0 160.8,381.3 161.0,379.2 161.2,380.3 161.4,376.2 161.6,376.9 161.8,375.3 162.0,377.8 162.2,377.0 162.4,377.7 162.6,380.3 162.8,374.8 162.9,377.9 163.1,373.4 163.3,378.5 163.5,375.2 163.7,375.8 163.9,376.1 164.1,379.1 164.3,375.6 164.5,374.5 164.7,373.0 164.9,375.8 165.1,373.4 165.3,374.0 165.5,374.9 165.7,376.2 165.9,373.2 166.1,375.9 166.3,378.1 166.5,371.2 166.7,377.0 166.9,378.5 167.1,372.7 167.3,375.0 167.5,370.7 167.7,374.1 167.8,372.6 168.0,373.8 168.2,371.1 168.4,371.1 168.6,371.7 168.8,371.0 169.0,371.0 169.2,371.6 169.4,369.6 169.6,371.4 169.8,372.5 170.0,366.4 170.2,371.4 170.4,369.2 170.6,368.2 170.8,367.5 171.0,368.2 171.2,368.1 171.4,370.1 171.6,366.4 171.8,370.9 172.0,366.7 172.2,369.5 172.4,370.0 172.6,364.7 172.7,369.2 172.9,371.2 173.1,365.3 173.3,367.0 173.5,365.1 173.7,365.2 173.9,364.2 174.1,363.1 174.3,365.3 174.5,365.2 174.7,362.9 174.9,365.7 175.1,364.3 175.3,363.0 175.5,359.5 175.7,364.6 175.9,362.9 176.1,355.0 176.3,356.7 176.5,357.6 176.7,360.2 176.9,360.3 177.1,356.5 177.3,357.2 177.5,357.7 177.6,352.9 177.8,356.5 178.0,353.6 178.2,354.9 178.4,353.6 178.6,349.1 178.8,349.3 179.0,352.5 179.2,352.3 179.4,350.4 179.6,354.6 179.8,349.2 180.0,345.7 180.2,348.3 180.4,348.5 180.6,348.2 180.8,352.3 181.0,349.6 181.2,351.1 181.4,349.1 181.6,345.9 181.8,349.7 182.0,344.8 182.2,346.1 182.4,341.3 182.5,344.7 182.7,342.8 182.9,344.8 183.1,349.4 183.3,350.8 183.5,345.6 183.7,341.4 183.9,343.9 184.1,341.3 184.3,337.9 184.5,339.2 184.7,338.0 184.9,336.2 185.1,342.6 185.3,335.2 185.5,334.7 185.7,338.3 185.9,332.7 186.1,330.4 186.3,330.7 186.5,334.6 186.7,333.5 186.9,332.4 187.1,328.9 187.3,326.5 187.4,332.1 187.6,323.0 187.8,326.5 188.0,321.7 188.2,324.1 188.4,324.2 188.6,328.2 188.8,312.9 189.0,327.0 189.2,318.2 189.4,321.5 189.6,322.5 189.8,316.2 190.0,317.8 190.2,319.0 190.4,316.1 190.6,313.1 190.8,315.6 191.0,314.5 191.2,308.0 191.4,317.2 191.6,312.4 191.8,302.3 192.0,307.1 192.2,315.2 192.3,313.9 192.5,308.5 192.7,300.8 192.9,305.0 193.1,308.8 193.3,305.6 193.5,302.2 193.7,300.0 193.9,304.7 194.1,300.2 194.3,301.3 194.5,301.1 194.7,304.4 194.9,298.5 195.1,298.0 195.3,290.0 195.5,299.5 195.7,297.9 195.9,294.0 196.1,285.4 196.3,290.6 196.5,292.2 196.7,298.6 196.9,292.6 197.1,292.6 197.2,292.0 197.4,293.2 197.6,283.8 197.8,284.1 198.0,282.3 198.2,284.8 198.4,283.9 198.6,284.9 198.8,280.3 199.0,283.6 199.2,279.6 199.4,289.4 199.6,279.5 199.8,289.7 200.0,285.8 200.2,275.3 200.4,282.2 200.6,280.4 200.8,272.3 201.0,279.2 201.2,276.1 201.4,277.1 201.6,272.3 201.8,274.5 202.0,275.6 202.1,272.9 202.3,270.8 202.5,271.8 202.7,268.3 202.9,272.4 203.1,261.7 203.3,275.4 203.5,269.8 203.7,270.7 203.9,271.5 204.1,263.6 204.3,275.5 204.5,263.0 204.7,268.1 204.9,267.1 205.1,270.0 205.3,264.9 205.5,259.5 205.7,265.1 205.9,254.7 206.1,262.2 206.3,260.8 206.5,267.4 206.7,260.4 206.9,259.4 207.0,257.8 207.2,256.9 207.4,257.5 207.6,261.0 207.8,253.8 208.0,257.2 208.2,252.3 208.4,256.3 208.6,256.9 208.8,251.5 209.0,253.3 209.2,255.1 209.4,256.9 209.6,257.0 209.8,252.7 210.0,249.0 210.2,246.2 210.4,254.1 210.6,255.7 210.8,251.5 211.0,255.1 211.2,247.4 211.4,247.0 211.6,253.3 211.8,243.7 211.9,248.7 212.1,247.4 212.3,245.9 212.5,250.9 212.7,241.1 212.9,242.0 213.1,235.6 213.3,238.6 213.5,239.8 213.7,239.7 213.9,239.7 214.1,240.8 214.3,236.7 214.5,231.4 214.7,238.3 214.9,238.6 215.1,232.3 215.3,233.0 215.5,241.3 215.7,238.0 215.9,237.5 216.1,235.3 216.3,232.8 216.5,229.7 216.7,232.8 216.8,229.4 217.0,227.8 217.2,228.5 217.4,227.5 217.6,230.2 217.8,222.9 218.0,234.3 218.2,221.2 218.4,222.4 218.6,226.4 218.8,219.3 219.0,219.8 219.2,220.7 219.4,209.3 219.6,217.1 219.8,214.6 220.0,216.3 220.2,218.0 220.4,217.6 220.6,219.8 220.8,218.7 221.0,216.3 221.2,211.6 221.4,214.4 221.6,206.3 221.7,208.5 221.9,212.9 222.1,209.7 222.3,200.9 222.5,202.8 222.7,207.1 222.9,205.0 223.1,205.7 223.3,194.6 223.5,195.3 223.7,197.8 223.9,194.2 224.1,196.5 224.3,195.5 224.5,195.6 224.7,192.8 224.9,194.0 225.1,193.6 225.3,190.1 225.5,183.9 225.7,191.5 225.9,186.4 226.1,185.8 226.3,183.6 226.5,175.9 226.6,182.3 226.8,176.5 227.0,173.2 227.2,180.7 227.4,173.7 227.6,174.5 227.8,175.3 228.0,176.6 228.2,163.2 228.4,165.7 228.6,169.5 228.8,163.5 229.0,153.2 229.2,164.1 229.4,163.4 229.6,164.3 229.8,161.3 230.0,158.0 230.2,159.0 230.4,157.5 230.6,155.5 230.8,156.3 231.0,155.6 231.2,151.7 231.4,155.3 231.5,153.9 231.7,153.0 231.9,144.3 232.1,149.6 232.3,148.1 232.5,145.2 232.7,147.6 232.9,142.0 233.1,147.0 233.3,144.2 233.5,141.4 233.7,144.9 233.9,142.3 234.1,141.6 234.3,137.6 234.5,141.3 234.7,143.0 234.9,142.0 235.1,136.5 235.3,142.2 235.5,142.4 235.7,140.6 235.9,137.7 236.1,135.1 236.3,136.2 236.4,136.8 236.6,138.5 236.8,139.0 237.0,136.0 237.2,134.0 237.4,136.6 237.6,134.5 237.8,140.3 238.0,134.6 238.2,138.3 238.4,138.9 238.6,134.9 238.8,139.1 239.0,136.4 239.2,134.8 239.4,134.2 239.6,135.6 239.8,136.3 240.0,128.0 240.2,131.7 240.4,128.2 240.6,125.4 240.8,125.6 241.0,124.6 241.2,123.4 241.3,124.7 241.5,121.2 241.7,128.6 241.9,127.8 242.1,126.1 242.3,124.6 242.5,130.2 242.7,131.0 242.9,135.1 243.1,136.5 243.3,140.5 243.5,137.2 243.7,140.2 243.9,138.4 244.1,139.3 244.3,144.3 244.5,141.3 244.7,142.1 244.9,142.2 245.1,144.3 245.3,145.6 245.5,144.7 245.7,143.1 245.9,147.2 246.1,145.4 246.2,147.2 246.4,149.3 246.6,150.2 246.8,145.4 247.0,155.1 247.2,153.9 247.4,157.3 247.6,159.4 247.8,152.7 248.0,153.6 248.2,157.4 248.4,160.8 248.6,156.6 248.8,158.2 249.0,164.1 249.2,158.2 249.4,163.1 249.6,167.2 249.8,163.5 250.0,168.3 250.2,166.3 250.4,162.3 250.6,167.2 250.8,169.7 251.0,170.5 251.1,173.0 251.3,175.7 251.5,176.6 251.7,177.6 251.9,176.8 252.1,178.9 252.3,179.7 252.5,180.4 252.7,188.7 252.9,178.4 253.1,187.3 253.3,182.1 253.5,187.0 253.7,193.3 253.9,190.7 254.1,197.9 254.3,190.9 254.5,194.3 254.7,194.3 254.9,197.8 255.1,197.7 255.3,198.7 255.5,201.4 255.7,206.1 255.9,203.9 256.0,204.7 256.2,204.5 256.4,204.2 256.6,202.6 256.8,205.1 257.0,210.0 257.2,204.2 257.4,214.4 257.6,211.6 257.8,210.9 258.0,213.3 258.2,218.6 258.4,218.7 258.6,219.4 258.8,225.7 259.0,228.9 259.2,217.2 259.4,225.9 259.6,221.2 259.8,220.1 260.0,224.2 260.2,230.7 260.4,227.1 260.6,227.6 260.8,235.4 260.9,233.3 261.1,232.3 261.3,240.0 261.5,236.4 261.7,233.2 261.9,232.9 262.1,236.3 262.3,239.4 262.5,243.2 262.7,243.9 262.9,242.3 263.1,238.8 263.3,247.2 263.5,245.2 263.7,242.0 263.9,242.4 264.1,248.5 264.3,249.9 264.5,252.5 264.7,246.3 264.9,258.3 265.1,246.1 265.3,253.3 265.5,259.1 265.7,259.0 265.8,252.9 266.0,259.4 266.2,262.5 266.4,261.6 266.6,256.4 266.8,266.7 267.0,255.9 267.2,262.7 267.4,259.6 267.6,262.7 267.8,263.9 268.0,267.7 268.2,262.3 268.4,268.4 268.6,273.0 268.8,269.6 269.0,272.1 269.2,272.6 269.4,269.3 269.6,271.5 269.8,273.9 270.0,276.3 270.2,282.8 270.4,282.3 270.6,275.8 270.7,276.9 270.9,275.9 271.1,272.3 271.3,286.2 271.5,284.6 271.7,277.0 271.9,285.1 272.1,294.6 272.3,289.2 272.5,290.5 272.7,290.7 272.9,288.5 273.1,288.3 273.3,290.7 273.5,295.4 273.7,295.1 273.9,299.6 274.1,304.4 274.3,301.3 274.5,303.2 274.7,299.9 274.9,297.5 275.1,310.7 275.3,306.5 275.5,309.0 275.6,304.3 275.8,300.5 276.0,312.1 276.2,300.6 276.4,308.5 276.6,308.0 276.8,311.6 277.0,314.5 277.2,315.3 277.4,305.7 277.6,317.5 277.8,307.9 278.0,317.9 278.2,314.7 278.4,312.9 278.6,315.8 278.8,313.7 279.0,319.1 279.2,323.2 279.4,323.4 279.6,321.4 279.8,325.8 280.0,324.3 280.2,330.9 280.4,325.7 280.5,322.4 280.7,324.1 280.9,323.0 281.1,325.3 281.3,326.4 281.5,329.9 281.7,330.8 281.9,328.7 282.1,330.5 282.3,326.9 282.5,328.0 282.7,321.7 282.9,328.2 283.1,329.6 283.3,341.0 283.5,327.5 283.7,333.0 283.9,332.0 284.1,328.1 284.3,335.1 284.5,334.7 284.7,329.9 284.9,327.3 285.1,335.9 285.3,331.5 285.4,339.5 285.6,336.7 285.8,340.1 286.0,337.7 286.2,344.9 286.4,342.5 286.6,346.1 286.8,341.8 287.0,338.4 287.2,337.8 287.4,341.8 287.6,345.4 287.8,342.9 288.0,354.8 288.2,346.6 288.4,349.3 288.6,348.7 288.8,344.7 289.0,353.8 289.2,353.1 289.4,354.6 289.6,348.9 289.8,353.1 290.0,353.8 290.2,359.0 290.3,350.7 290.5,359.0 290.7,362.0 290.9,356.7 291.1,356.0 291.3,364.3 291.5,361.0 291.7,364.5 291.9,363.3 292.1,362.9 292.3,359.7 292.5,354.6 292.7,359.4 292.9,355.2 293.1,356.4 293.3,351.9 293.5,354.7 293.7,348.3 293.9,348.4 294.1,346.7 294.3,340.7 294.5,337.6 294.7,332.3 294.9,325.5 295.1,326.4 295.2,316.9 295.4,311.2 295.6,309.2 295.8,306.3 296.0,301.8 296.2,296.5 296.4,292.0 296.6,284.0 296.8,286.1 297.0,284.8 297.2,275.6 297.4,269.7 297.6,272.0 297.8,266.5 298.0,254.5 298.2,258.5 298.4,253.7 298.6,251.3 298.8,255.6 299.0,250.7 299.2,245.8 299.4,244.2 299.6,245.9 299.8,238.3 300.0,240.8 300.1,236.1 300.3,237.9 300.5,235.2 300.7,231.8 300.9,234.9 301.1,232.9 301.3,235.4 301.5,230.2 301.7,231.8 301.9,230.8 302.1,236.5 302.3,233.8 302.5,237.5 302.7,242.8 302.9,243.5 303.1,245.5 303.3,248.0 303.5,250.7 303.7,253.8 303.9,253.9 304.1,252.5 304.3,262.6 304.5,260.0 304.7,269.3 304.9,268.7 305.0,278.0 305.2,276.2 305.4,277.1 305.6,280.5 305.8,277.4 306.0,282.7 306.2,283.1 306.4,285.5 306.6,282.3 306.8,283.4 307.0,291.3 307.2,291.1 307.4,291.2 307.6,293.2 307.8,293.1 308.0,294.6 308.2,298.4 308.4,297.3 308.6,300.5 308.8,298.3 309.0,296.8 309.2,300.4 309.4,302.5 309.6,301.3 309.8,303.9 309.9,304.6 310.1,308.8 310.3,309.6 310.5,311.1 310.7,307.9 310.9,311.4 311.1,314.5 311.3,313.0 311.5,313.3 311.7,312.7 311.9,317.3 312.1,316.7 312.3,319.5 312.5,317.8 312.7,323.7 312.9,319.9 313.1,318.0 313.3,322.2 313.5,323.6 313.7,326.3 313.9,323.1 314.1,323.8 314.3,325.2 314.5,325.7 314.7,322.6 314.8,329.8 315.0,331.7 315.2,327.9 315.4,328.1 315.6,330.7 315.8,329.9 316.0,334.2 316.2,331.6 316.4,335.1 316.6,331.5 316.8,331.8 317.0,332.1 317.2,333.0 317.4,337.8 317.6,339.3 317.8,338.3 318.0,339.0 318.2,334.1 318.4,342.2 318.6,337.4 318.8,343.7 319.0,346.8 319.2,342.0 319.4,343.8 319.6,344.3 319.7,340.5 319.9,341.4 320.1,342.9 320.3,345.3 320.5,347.3 320.7,346.1 320.9,348.8 321.1,345.7 321.3,344.1 321.5,347.8 321.7,348.0 321.9,345.4 322.1,351.4 322.3,347.3 322.5,348.3 322.7,350.8 322.9,348.3 323.1,352.5 323.3,352.4 323.5,352.9 323.7,352.2 323.9,351.5 324.1,351.2 324.3,354.0 324.5,356.7 324.6,355.8 324.8,355.2 325.0,356.9 325.2,358.0 325.4,352.5 325.6,355.6 325.8,358.7 326.0,354.8 326.2,355.6 326.4,358.3 326.6,356.8 326.8,360.3 327.0,357.2 327.2,359.6 327.4,364.2 327.6,361.5 327.8,356.3 328.0,357.3 328.2,357.8 328.4,360.3 328.6,357.6 328.8,362.4 329.0,365.3 329.2,365.4 329.4,360.6 329.5,362.1 329.7,362.5 329.9,361.8 330.1,367.7 330.3,362.9 330.5,362.4 330.7,366.1 330.9,366.5 331.1,369.6 331.3,370.0 331.5,366.8 331.7,363.1 331.9,369.5 332.1,370.3 332.3,372.9 332.5,366.1 332.7,367.4 332.9,373.7 333.1,374.3 333.3,374.1 333.5,371.7 333.7,375.0 333.9,371.5 334.1,370.5 334.3,373.5 334.4,374.3 334.6,376.3 334.8,377.5 335.0,372.1 335.2,376.9 335.4,377.9 335.6,374.9 335.8,377.5 336.0,378.7 336.2,380.1 336.4,377.9 336.6,378.9 336.8,378.3 337.0,381.7 337.2,380.6 337.4,380.3 337.6,383.1 337.8,381.5 338.0,379.5 338.2,384.3 338.4,383.9 338.6,382.8 338.8,379.7 339.0,384.1 339.2,380.6 339.3,377.9 339.5,381.4 339.7,385.3 339.9,380.6 340.1,382.7 340.3,384.2 340.5,381.7 340.7,380.5 340.9,381.1 341.1,382.2 341.3,379.8 341.5,381.5 341.7,381.8 341.9,379.7 342.1,381.8 342.3,381.3 342.5,379.2 342.7,379.1 342.9,379.3 343.1,378.3 343.3,377.7 343.5,375.4 343.7,377.1 343.9,377.7 344.1,376.8 344.2,373.0 344.4,375.1 344.6,374.3 344.8,370.2 345.0,372.3 345.2,369.9 345.4,368.5 345.6,368.5 345.8,366.1 346.0,360.1 346.2,363.5 346.4,358.6 346.6,358.7 346.8,358.1 347.0,353.6 347.2,350.7 347.4,349.3 347.6,347.5 347.8,341.9 348.0,339.6 348.2,339.3 348.4,339.0 348.6,332.8 348.8,331.9 349.0,325.4 349.1,323.8 349.3,320.6 349.5,314.2 349.7,313.4 349.9,309.4 350.1,300.5 350.3,302.1 350.5,299.3 350.7,295.5 350.9,292.0 351.1,285.4 351.3,282.9 351.5,280.8 351.7,276.4 351.9,274.4 352.1,275.4 352.3,268.2 352.5,266.7 352.7,268.7 352.9,261.9 353.1,257.4 353.3,257.6 353.5,255.0 353.7,252.6 353.9,246.4 354.0,248.5 354.2,246.7 354.4,248.5 354.6,243.8 354.8,239.8 355.0,240.1 355.2,239.7 355.4,236.8 355.6,235.9 355.8,237.9 356.0,235.1 356.2,234.5 356.4,231.0 356.6,234.0 356.8,229.3 357.0,236.6 357.2,233.8 357.4,237.2 357.6,240.0 357.8,236.1 358.0,242.4 358.2,242.1 358.4,245.8 358.6,244.3 358.8,245.5 358.9,251.6 359.1,251.5 359.3,252.5 359.5,251.7 359.7,258.9 359.9,257.4 360.1,259.9 360.3,261.2 360.5,265.2 360.7,269.1 360.9,270.3 361.1,272.9 361.3,274.5 361.5,281.6 361.7,284.5 361.9,282.8 362.1,283.9 362.3,288.6 362.5,286.7 362.7,292.5 362.9,294.3 363.1,295.6 363.3,300.2 363.5,302.2 363.7,300.6 363.8,300.2 364.0,304.5 364.2,306.1 364.4,302.3 364.6,304.5 364.8,306.7 365.0,304.9 365.2,307.2 365.4,314.2 365.6,309.1 365.8,314.6 366.0,312.2 366.2,317.1 366.4,316.6 366.6,318.9 366.8,315.0 367.0,319.6 367.2,318.8 367.4,322.7 367.6,323.6 367.8,323.4 368.0,323.8 368.2,325.0 368.4,326.6 368.6,325.9 368.7,327.1 368.9,327.6 369.1,327.6 369.3,333.0 369.5,328.8 369.7,335.3 369.9,334.8 370.1,330.4 370.3,330.9 370.5,335.5 370.7,333.8 370.9,337.0 371.1,339.3 371.3,338.6 371.5,337.9 371.7,338.5 371.9,342.6 372.1,339.1 372.3,344.1 372.5,345.3 372.7,340.6 372.9,342.5 373.1,346.0 373.3,341.3 373.5,344.2 373.6,345.9 373.8,341.9 374.0,345.3 374.2,345.2 374.4,344.2 374.6,349.1 374.8,345.9 375.0,351.4 375.2,348.4 375.4,345.8 375.6,348.2 375.8,346.4 376.0,350.1 376.2,350.1 376.4,346.5 376.6,348.5 376.8,350.7 377.0,350.2 377.2,348.2 377.4,353.0 377.6,353.9 377.8,348.1 378.0,354.7 378.2,347.5 378.4,351.9 378.5,351.0 378.7,351.6 378.9,353.4 379.1,350.8 379.3,353.4 379.5,357.5 379.7,355.2 379.9,357.7 380.1,356.6 380.3,351.6 380.5,359.1 380.7,357.4 380.9,357.3 381.1,355.3 381.3,355.3 381.5,354.4 381.7,356.6 381.9,357.5 382.1,357.1 382.3,357.4 382.5,353.9 382.7,356.6 382.9,356.8 383.1,359.4 383.3,358.0 383.4,358.3 383.6,359.6 383.8,358.7 384.0,359.3 384.2,362.5 384.4,360.1 384.6,358.7 384.8,362.1 385.0,362.8 385.2,362.6 385.4,358.8 385.6,363.7 385.8,362.1 386.0,362.4 386.2,362.6 386.4,363.6 386.6,363.8 386.8,366.1 387.0,363.7 387.2,363.3 387.4,365.0 387.6,363.6 387.8,366.3 388.0,364.5 388.2,365.9 388.3,363.5 388.5,366.8 388.7,366.3 388.9,363.4 389.1,364.6 389.3,365.7 389.5,363.0 389.7,363.6 389.9,367.0 390.1,367.2 390.3,369.1 390.5,363.9 390.7,365.9 390.9,362.7 391.1,370.5 391.3,364.4 391.5,366.7 391.7,371.3 391.9,370.4 392.1,365.9 392.3,372.4 392.5,368.8 392.7,365.9 392.9,368.7 393.1,369.6 393.2,369.7 393.4,364.2 393.6,372.4 393.8,365.5 394.0,368.4 394.2,371.9 394.4,369.9 394.6,369.1 394.8,368.1 395.0,370.6 395.2,372.4 395.4,368.6 395.6,370.7 395.8,369.2 396.0,369.2 396.2,366.0 396.4,370.8 396.6,372.3 396.8,370.2 397.0,372.8 397.2,371.1 397.4,373.4 397.6,371.4 397.8,370.5 398.0,370.3 398.1,371.6 398.3,372.2 398.5,370.2 398.7,371.6 398.9,369.3 399.1,369.5 399.3,373.6 399.5,373.2 399.7,374.4 399.9,373.1 400.1,373.4 400.3,376.8 400.5,371.6 400.7,374.0 400.9,376.8 401.1,377.9 401.3,375.2 401.5,374.1 401.7,372.4 401.9,374.4 402.1,375.2 402.3,375.2 402.5,376.4 402.7,376.7 402.9,374.9 403.0,374.3 403.2,375.8 403.4,377.4 403.6,380.0 403.8,373.9 404.0,379.4 404.2,377.0 404.4,380.0 404.6,381.7 404.8,379.3 405.0,376.3 405.2,378.0 405.4,379.7 405.6,378.6 405.8,379.4 406.0,378.2 406.2,379.5 406.4,379.0 406.6,382.1 406.8,381.2 407.0,382.3 407.2,377.9 407.4,380.4 407.6,380.0 407.8,380.8 407.9,380.1 408.1,380.6 408.3,385.1 408.5,381.7 408.7,380.0 408.9,382.0 409.1,387.0 409.3,384.1 409.5,381.1 409.7,382.5 409.9,382.9 410.1,383.2 410.3,379.6 410.5,381.4 410.7,383.0 410.9,380.1 411.1,383.1 411.3,383.6 411.5,385.0 411.7,385.6 411.9,383.3 412.1,384.2 412.3,385.1 412.5,385.8 412.7,384.0 412.8,382.5 413.0,385.1 413.2,385.7 413.4,384.4 413.6,385.3 413.8,387.3 414.0,383.3 414.2,383.0 414.4,382.3 414.6,385.1 414.8,386.3 415.0,383.6 415.2,388.0 415.4,383.5 415.6,385.2 415.8,384.5 416.0,387.4 416.2,383.6 416.4,387.9 416.6,384.5 416.8,382.3 417.0,383.8 417.2,384.6 417.4,388.1 417.6,384.1 417.7,385.0 417.9,389.0 418.1,385.3 418.3,383.9 418.5,383.7 418.7,382.1 418.9,385.8 419.1,387.4 419.3,384.4 419.5,383.1 419.7,385.6 419.9,385.1 420.1,384.8 420.3,385.8 420.5,384.7 420.7,383.6 420.9,385.7 421.1,379.7 421.3,380.3 421.5,381.2 421.7,378.2 421.9,382.7 422.1,374.4 422.3,378.8 422.5,377.2 422.6,375.4 422.8,374.1 423.0,370.6 423.2,368.6 423.4,371.2 423.6,366.3 423.8,361.8 424.0,360.3 424.2,357.7 424.4,359.4 424.6,359.2 424.8,354.0 425.0,352.8 425.2,349.2 425.4,349.8 425.6,347.5 425.8,345.3 426.0,344.7 426.2,336.0 426.4,337.8 426.6,330.5 426.8,332.7 427.0,330.5 427.2,327.8 427.4,325.4 427.5,321.0 427.7,317.4 427.9,317.3 428.1,311.0 428.3,309.9 428.5,302.5 428.7,300.6 428.9,296.0 429.1,289.2 429.3,286.0 429.5,284.5 429.7,279.0 429.9,276.7 430.1,271.5 430.3,269.8 430.5,263.5 430.7,261.9 430.9,263.2 431.1,258.8 431.3,254.9 431.5,252.5 431.7,246.8 431.9,248.0 432.1,242.4 432.3,241.3 432.4,242.3 432.6,237.7 432.8,236.7 433.0,236.4 433.2,235.9 433.4,237.5 433.6,230.3 433.8,232.2 434.0,233.5 434.2,230.7 434.4,230.5 434.6,229.4 434.8,230.4 435.0,232.8 435.2,234.7 435.4,233.7 435.6,237.1 435.8,235.9 436.0,233.9 436.2,240.7 436.4,236.9 436.6,243.0 436.8,245.3 437.0,245.1 437.2,249.3 437.3,250.9 437.5,254.5 437.7,256.3 437.9,261.5 438.1,263.2 438.3,269.3 438.5,272.2 438.7,276.9 438.9,280.8 439.1,283.4 439.3,290.1 439.5,292.0 439.7,288.3 439.9,292.3 440.1,300.1 440.3,297.6 440.5,305.5 440.7,302.0 440.9,303.4 441.1,302.8 441.3,304.6 441.5,306.5 441.7,309.2 441.9,308.6 442.1,309.3 442.2,308.4 442.4,310.4 442.6,311.4 442.8,313.0 443.0,312.7 443.2,312.9 443.4,315.5 443.6,312.1 443.8,315.0 444.0,317.5 444.2,321.1 444.4,319.9 444.6,320.2 444.8,325.0 445.0,324.5 445.2,328.7 445.4,326.6 445.6,326.7 445.8,328.6 446.0,334.1 446.2,334.8 446.4,333.1 446.6,336.1 446.8,332.2 447.0,338.7 447.1,337.9 447.3,338.1 447.5,339.4 447.7,340.8 447.9,340.4 448.1,341.4 448.3,340.6 448.5,347.1 448.7,342.9 448.9,345.1 449.1,348.2 449.3,349.3 449.5,350.3 449.7,346.6 449.9,347.4 450.1,348.5 450.3,345.3 450.5,351.2 450.7,346.4 450.9,349.9 451.1,352.4 451.3,352.6 451.5,350.3 451.7,353.4 451.9,354.1 452.0,348.7 452.2,352.0 452.4,354.2 452.6,354.0 452.8,353.0 453.0,353.5 453.2,358.8 453.4,353.6 453.6,356.8 453.8,352.5 454.0,356.3 454.2,357.6 454.4,354.9 454.6,354.8 454.8,360.1 455.0,356.2 455.2,359.0 455.4,354.2 455.6,360.9 455.8,353.6 456.0,356.0 456.2,357.0 456.4,358.3 456.6,359.0 456.8,362.1 456.9,363.4 457.1,363.2 457.3,361.2 457.5,360.2 457.7,355.8 457.9,360.0 458.1,359.2 458.3,361.8 458.5,358.7 458.7,359.3 458.9,359.6 459.1,362.6 459.3,361.8 459.5,359.6 459.7,358.3 459.9,360.9 460.1,360.9 460.3,361.2 460.5,362.7 460.7,364.1 460.9,364.4 461.1,361.6 461.3,361.6 461.5,366.3 461.7,363.0 461.8,365.0 462.0,364.1 462.2,364.7 462.4,367.3 462.6,363.8 462.8,366.6 463.0,365.6 463.2,364.4 463.4,363.9 463.6,363.9 463.8,367.5 464.0,367.3 464.2,363.7 464.4,366.4 464.6,362.1 464.8,366.0 465.0,370.1 465.2,363.8 465.4,366.9 465.6,365.2 465.8,366.8 466.0,364.6 466.2,367.2 466.4,362.3 466.6,366.6 466.7,366.6 466.9,367.2 467.1,371.5 467.3,365.3 467.5,366.3 467.7,365.1 467.9,368.9 468.1,368.1 468.3,365.8 468.5,370.1 468.7,368.9 468.9,371.3 469.1,370.1 469.3,368.8 469.5,367.2 469.7,364.6 469.9,367.8 470.1,371.3 470.3,368.7 470.5,367.6 470.7,369.8 470.9,370.9 471.1,375.1 471.3,367.7 471.5,369.0 471.6,367.5 471.8,368.4 472.0,371.8 472.2,369.9 472.4,367.3 472.6,372.9 472.8,373.9 473.0,372.0 473.2,368.5 473.4,368.5 473.6,373.3 473.8,368.8 474.0,369.8 474.2,368.1 474.4,374.9 474.6,369.8 474.8,370.9 475.0,369.9 475.2,370.1 475.4,369.2 475.6,373.8 475.8,370.4 476.0,374.7 476.2,369.3 476.4,372.9 476.5,374.0 476.7,369.9 476.9,372.8 477.1,371.3 477.3,370.3 477.5,371.8 477.7,369.0 477.9,372.2 478.1,369.8 478.3,374.3 478.5,376.2 478.7,376.0 478.9,371.9 479.1,373.2 479.3,377.6 479.5,376.3 479.7,375.1 479.9,369.8 480.1,373.5 480.3,378.7 480.5,375.4 480.7,373.7 480.9,374.9 481.1,379.7 481.3,377.6 481.4,372.6 481.6,373.1 481.8,375.6 482.0,378.3 482.2,374.4 482.4,374.9 482.6,371.1 482.8,375.1 483.0,377.7 483.2,377.9 483.4,374.0 483.6,378.6 483.8,375.6 484.0,374.6 484.2,378.6 484.4,374.5 484.6,377.0 484.8,376.3 485.0,377.9 485.2,378.9 485.4,377.7 485.6,377.1 485.8,377.9 486.0,374.4 486.2,379.1 486.3,383.6 486.5,380.4 486.7,382.2 486.9,380.1 487.1,380.3 487.3,381.4 487.5,382.0 487.7,382.1 487.9,379.3 488.1,381.2 488.3,378.3 488.5,383.5 488.7,381.5 488.9,381.2 489.1,379.3 489.3,382.9 489.5,384.1 489.7,383.2 489.9,384.5 490.1,380.9 490.3,384.4 490.5,382.7 490.7,377.5 490.9,383.4 491.1,381.0 491.2,382.8 491.4,381.9 491.6,381.6 491.8,385.5 492.0,382.5 492.2,384.0 492.4,385.2 492.6,383.2 492.8,381.6 493.0,384.2 493.2,384.0 493.4,382.5 493.6,384.6 493.8,387.0 494.0,386.5 494.2,387.7 494.4,387.5 494.6,385.2 494.8,384.9 495.0,382.8 495.2,387.3 495.4,383.9 495.6,386.1 495.8,388.3 496.0,385.3 496.1,381.7 496.3,380.9 496.5,379.8 496.7,380.2 496.9,373.8 497.1,371.6 497.3,367.9 497.5,370.2 497.7,370.7 497.9,374.5 498.1,374.0 498.3,380.7 498.5,380.0 498.7,384.4 498.9,386.5 499.1,387.7 499.3,389.2 499.5,384.1 499.7,388.8 499.9,388.4 500.1,386.8 500.3,389.0 500.5,390.7 500.7,389.2 500.9,389.3 501.0,391.7 501.2,389.1 501.4,392.8 501.6,391.6 501.8,391.9 502.0,392.3 502.2,393.7 502.4,390.0 502.6,393.7 502.8,389.9 503.0,392.4 503.2,392.9 503.4,392.1 503.6,389.7 503.8,389.6 504.0,389.8 504.2,391.9 504.4,392.4 504.6,393.1 504.8,389.1 505.0,392.7 505.2,394.0 505.4,392.4 505.6,392.0 505.8,393.6 505.9,395.1 506.1,394.9 506.3,394.9 506.5,389.6 506.7,394.7 506.9,391.4 507.1,393.5 507.3,390.7 507.5,392.6 507.7,390.7 507.9,391.2 508.1,395.4 508.3,389.4 508.5,393.5 508.7,391.7 508.9,389.4 509.1,394.0 509.3,391.5 509.5,390.3 509.7,392.0 509.9,389.7 510.1,394.4 510.3,388.3 510.5,390.1 510.7,387.2 510.8,391.5 511.0,392.5 511.2,392.6 511.4,393.8 511.6,390.7 511.8,389.8 512.0,392.4 512.2,389.4 512.4,391.2 512.6,389.6 512.8,389.0 513.0,390.2 513.2,392.5 513.4,392.0 513.6,390.5 513.8,385.1 514.0,390.1 514.2,390.8 514.4,391.1 514.6,388.6 514.8,391.9 515.0,390.5 515.2,386.2 515.4,391.2 515.6,392.9 515.7,390.2 515.9,388.1 516.1,393.2 516.3,391.5 516.5,386.0 516.7,391.6 516.9,390.3 517.1,390.0 517.3,386.0 517.5,386.1 517.7,389.7 517.9,393.0 518.1,389.6 518.3,389.4 518.5,388.0 518.7,388.4 518.9,391.1 519.1,387.5 519.3,392.7 519.5,389.9 519.7,389.5 519.9,388.6 520.1,386.6 520.3,388.0 520.5,384.2 520.6,388.9 520.8,382.7 521.0,395.4 521.2,388.3 521.4,383.6 521.6,389.1 521.8,388.6 522.0,386.5 522.2,388.9 522.4,385.6 522.6,387.6 522.8,387.4 523.0,389.4 523.2,386.1 523.4,388.7 523.6,379.0 523.8,391.0 524.0,388.2 524.2,389.3 524.4,386.7 524.6,390.2 524.8,387.3 525.0,388.0 525.2,387.5 525.4,385.5 525.5,384.3 525.7,388.6 525.9,388.8 526.1,386.5 526.3,390.4 526.5,386.7 526.7,387.7 526.9,389.3 527.1,387.9 527.3,384.9 527.5,381.9 527.7,382.6 527.9,381.5 528.1,386.9 528.3,373.1 528.5,390.2 528.7,380.9 528.9,386.7 529.1,384.0 529.3,384.5 529.5,378.5 529.7,385.5 529.9,381.7 530.1,383.6 530.3,378.5 530.4,381.1 530.6,378.7 530.8,381.6 531.0,382.5 531.2,379.5 531.4,381.3 531.6,381.3 531.8,379.3 532.0,378.5 532.2,373.1 532.4,382.3 532.6,379.4 532.8,377.9 533.0,379.2 533.2,376.8 533.4,377.4 533.6,379.8 533.8,373.4 534.0,377.0 534.2,378.6 534.4,372.9 534.6,374.3 534.8,381.5 535.0,384.3 535.2,378.3 535.3,379.4 535.5,374.5 535.7,381.3 535.9,376.9 536.1,377.2 536.3,378.1 536.5,375.0 536.7,374.5 536.9,376.5 537.1,373.2 537.3,374.6 537.5,368.4 537.7,373.1 537.9,377.6 538.1,379.5 538.3,377.9 538.5,373.4 538.7,376.2 538.9,373.0 539.1,372.5 539.3,378.8 539.5,374.6 539.7,374.7 539.9,376.3 540.1,378.5 540.2,376.0 540.4,374.9 540.6,376.7 540.8,375.4 541.0,374.7 541.2,368.8 541.4,372.9 541.6,375.2 541.8,372.4 542.0,381.3 542.2,382.7 542.4,380.9 542.6,372.8 542.8,377.1 543.0,376.9 543.2,376.7 543.4,370.7 543.6,378.5 543.8,380.8 544.0,378.1 544.2,382.1 544.4,374.7 544.6,377.7 544.8,379.6 545.0,372.7 545.1,375.2 545.3,373.3 545.5,378.3 545.7,372.1 545.9,376.5 546.1,373.9 546.3,378.3 546.5,373.9 546.7,375.0 546.9,376.3 547.1,373.2 547.3,374.1 547.5,374.7 547.7,373.9 547.9,376.2 548.1,373.0 548.3,375.6 548.5,374.4 548.7,373.3 548.9,371.8 549.1,369.4 549.3,372.9 549.5,376.7 549.7,374.0 549.9,379.6 550.0,371.9 550.2,373.7 550.4,370.0 550.6,378.3 550.8,370.7 551.0,376.1 551.2,375.6 551.4,382.7 551.6,378.8 551.8,377.2 552.0,375.2 552.2,380.5 552.4,373.6 552.6,370.9 552.8,377.4 553.0,374.5 553.2,372.6 553.4,375.8 553.6,376.3 553.8,370.0 554.0,377.7 554.2,380.8 554.4,373.5 554.6,370.1 554.8,375.5 554.9,374.3 555.1,377.1 555.3,377.5 555.5,374.3 555.7,379.3 555.9,368.7 556.1,372.5 556.3,375.2 556.5,375.9 556.7,374.3 556.9,376.0 557.1,370.6 557.3,367.5 557.5,377.2 557.7,378.7 557.9,374.6 558.1,371.0 558.3,372.4 558.5,376.5 558.7,375.3 558.9,378.7 559.1,379.7 559.3,378.4 559.5,373.9 559.7,377.8 559.8,376.1 560.0,375.2 560.2,375.1 560.4,374.3 560.6,371.4 560.8,375.6 561.0,372.1 561.2,374.3 561.4,376.9 561.6,376.8 561.8,368.7 562.0,372.3 562.2,371.0 562.4,375.2 562.6,372.1 562.8,377.2 563.0,372.9 563.2,375.8 563.4,371.3 563.6,372.0 563.8,373.4 564.0,375.6 564.2,367.9 564.4,374.5 564.6,369.7 564.7,374.8 564.9,368.7 565.1,372.9 565.3,377.9 565.5,378.7 565.7,371.0 565.9,379.4 566.1,372.8 566.3,374.2 566.5,375.7 566.7,374.4 566.9,375.2 567.1,374.7 567.3,376.8 567.5,374.8 567.7,372.7 567.9,370.9 568.1,370.8 568.3,373.8 568.5,376.2 568.7,375.0 568.9,373.1 569.1,375.3 569.3,372.2 569.5,374.4 569.6,375.4 569.8,372.8 570.0,378.1 570.2,377.4 570.4,373.1 570.6,375.9 570.8,374.6 571.0,375.0 571.2,375.0 571.4,378.1 571.6,375.0 571.8,375.0 572.0,376.9 572.2,376.8 572.4,379.4 572.6,371.6 572.8,376.2 573.0,368.5 573.2,374.3 573.4,370.3 573.6,370.2 573.8,373.8 574.0,370.9 574.2,373.3 574.4,365.9 574.5,378.4 574.7,366.0 574.9,372.1 575.1,379.3 575.3,370.0 575.5,379.3 575.7,377.5 575.9,373.8 576.1,372.9 576.3,373.0 576.5,374.7 576.7,376.7 576.9,377.7 577.1,367.1 577.3,376.1 577.5,375.2 577.7,369.4 577.9,375.7 578.1,375.7 578.3,375.5 578.5,372.3 578.7,374.7 578.9,375.9 579.1,369.9 579.3,370.2 579.4,369.7 579.6,374.9 579.8,371.1 580.0,369.3 580.2,368.5 580.4,367.7 580.6,370.6 580.8,371.6 581.0,372.2 581.2,367.3 581.4,367.1 581.6,366.8 581.8,366.7 582.0,365.1 582.2,371.1 582.4,368.6 582.6,366.3 582.8,361.7 583.0,369.6 583.2,368.0 583.4,366.4 583.6,367.3 583.8,364.1 584.0,366.6 584.2,363.8 584.3,365.6 584.5,364.0 584.7,361.3 584.9,361.5 585.1,365.7 585.3,365.2 585.5,362.3 585.7,360.8 585.9,360.9 586.1,362.2 586.3,358.0 586.5,362.5 586.7,358.2 586.9,357.0 587.1,358.8 587.3,362.4 587.5,356.2 587.7,356.3 587.9,354.0 588.1,356.4 588.3,355.8 588.5,354.5 588.7,353.0 588.9,354.0 589.1,354.3 589.2,350.9 589.4,350.6 589.6,349.1 589.8,348.6 590.0,351.6 590.2,346.2 590.4,348.0 590.6,349.2 590.8,345.2 591.0,346.8 591.2,346.5 591.4,341.1 591.6,345.6 591.8,340.7 592.0,342.5 592.2,338.3 592.4,337.5 592.6,339.8 592.8,343.3 593.0,344.7 593.2,344.6 593.4,341.1 593.6,340.2 593.8,338.9 594.0,338.2 594.1,335.5 594.3,334.9 594.5,336.4 594.7,336.2 594.9,333.5 595.1,331.9 595.3,332.6 595.5,341.2 595.7,332.1 595.9,336.5 596.1,335.8 596.3,335.2 596.5,331.3 596.7,336.7 596.9,332.8 597.1,330.6 597.3,330.1 597.5,331.1 597.7,335.8 597.9,328.2 598.1,329.3 598.3,330.6 598.5,331.5 598.7,327.9 598.9,327.8 599.0,328.6 599.2,331.1 599.4,329.1 599.6,328.7 599.8,329.5 600.0,329.1 600.2,331.1 600.4,326.6 600.6,328.3 600.8,326.5 601.0,329.8 601.2,329.9 601.4,327.0 601.6,330.5 601.8,326.8 602.0,330.7 602.2,325.9 602.4,325.6 602.6,322.7 602.8,323.8 603.0,325.2 603.2,320.5 603.4,325.7 603.6,327.7 603.8,326.7 603.9,325.6 604.1,326.6 604.3,323.2 604.5,323.2 604.7,326.3 604.9,323.6 605.1,326.2 605.3,322.2 605.5,324.9 605.7,326.0 605.9,322.3 606.1,326.5 606.3,325.9 606.5,315.3 606.7,327.9 606.9,316.6 607.1,326.7 607.3,317.7 607.5,314.2 607.7,315.8 607.9,320.0 608.1,315.8 608.3,316.6 608.5,320.7 608.7,314.6 608.8,318.1 609.0,319.7 609.2,311.2 609.4,312.6 609.6,315.8 609.8,314.8 610.0,315.2 610.2,308.9 610.4,311.6 610.6,314.4 610.8,314.6 611.0,316.0 611.2,311.5 611.4,310.3 611.6,309.4 611.8,309.2 612.0,306.1 612.2,315.5 612.4,309.7 612.6,308.9 612.8,308.9 613.0,311.8 613.2,310.5 613.4,308.1 613.6,312.6 613.7,310.7 613.9,309.5 614.1,309.9 614.3,313.0 614.5,311.8 614.7,309.7 614.9,312.7 615.1,304.5 615.3,311.9 615.5,308.0 615.7,308.6 615.9,309.6 616.1,315.1 616.3,310.0 616.5,310.1 616.7,312.1 616.9,305.5 617.1,310.1 617.3,312.6 617.5,308.4 617.7,312.5 617.9,309.2 618.1,307.4 618.3,313.7 618.5,311.7 618.6,313.6 618.8,312.3 619.0,309.2 619.2,314.7 619.4,313.4 619.6,313.5 619.8,311.6 620.0,309.9 620.2,316.7 620.4,315.2 620.6,313.8 620.8,312.0 621.0,317.1 621.2,311.7 621.4,312.1 621.6,319.7 621.8,316.0 622.0,316.9 622.2,316.6 622.4,320.4 622.6,316.2 622.8,316.6 623.0,313.3 623.2,315.8 623.4,312.0 623.5,315.1 623.7,316.2 623.9,318.3 624.1,320.1 624.3,315.1 624.5,314.3 624.7,317.9 624.9,315.1 625.1,321.9 625.3,321.0 625.5,315.5 625.7,318.8 625.9,321.7 626.1,316.3 626.3,317.7 626.5,319.0 626.7,323.0 626.9,320.9 627.1,319.4 627.3,321.1 627.5,320.7 627.7,321.3 627.9,322.4 628.1,322.1 628.3,323.5 628.4,322.2 628.6,321.7 628.8,322.0 629.0,319.0 629.2,322.2 629.4,328.4 629.6,324.0 629.8,325.8 630.0,327.0 630.2,324.0 630.4,324.7 630.6,327.3 630.8,323.9 631.0,329.0 631.2,328.8 631.4,328.0 631.6,328.4 631.8,330.0 632.0,328.8 632.2,322.6 632.4,330.6 632.6,327.3 632.8,328.8 633.0,329.4 633.2,329.7 633.3,326.9 633.5,326.7 633.7,331.7 633.9,332.4 634.1,333.7 634.3,329.8 634.5,332.6 634.7,335.7 634.9,333.1 635.1,332.9 635.3,340.0 635.5,330.9 635.7,333.4 635.9,333.0 636.1,334.9 636.3,344.6 636.5,334.2 636.7,336.5 636.9,336.2 637.1,335.9 637.3,340.4 637.5,337.4 637.7,341.7 637.9,343.0 638.1,338.4 638.2,343.7 638.4,337.4 638.6,341.6 638.8,343.8 639.0,338.9 639.2,341.7 639.4,343.5 639.6,344.1 639.8,343.8 640.0,348.4 640.2,343.3 640.4,347.1 640.6,349.8 640.8,343.1 641.0,344.0 641.2,342.7 641.4,347.6 641.6,349.7 641.8,342.0 642.0,344.4 642.2,345.5 642.4,353.2 642.6,346.9 642.8,349.1 643.0,345.4 643.1,351.1 643.3,346.4 643.5,349.3 643.7,347.1 643.9,349.9 644.1,350.1 644.3,351.3 644.5,351.6 644.7,356.0 644.9,349.8 645.1,355.4 645.3,353.1 645.5,352.2 645.7,353.7 645.9,353.9 646.1,355.7 646.3,355.9 646.5,355.7 646.7,355.2 646.9,350.7 647.1,357.3 647.3,358.3 647.5,356.7 647.7,356.8 647.9,354.2 648.0,357.4 648.2,359.2 648.4,354.0 648.6,356.4 648.8,356.6 649.0,361.4 649.2,357.3 649.4,354.2 649.6,359.5 649.8,362.7 650.0,359.2 650.2,358.8 650.4,360.8 650.6,364.8 650.8,360.1 651.0,360.4 651.2,362.4 651.4,359.6 651.6,357.6 651.8,362.5 652.0,361.5 652.2,363.6 652.4,363.3 652.6,364.5 652.8,360.7 652.9,364.5 653.1,361.6 653.3,365.0 653.5,363.2 653.7,368.8 653.9,362.5 654.1,359.2 654.3,365.5 654.5,364.2 654.7,363.2 654.9,366.2 655.1,370.0 655.3,365.6 655.5,364.4 655.7,369.9 655.9,369.3 656.1,366.7 656.3,365.4 656.5,368.7 656.7,365.2 656.9,365.5 657.1,365.2 657.3,368.8 657.5,371.4 657.7,367.8 657.8,372.3 658.0,362.9 658.2,367.9 658.4,363.8 658.6,370.5 658.8,371.6 659.0,363.9 659.2,366.6 659.4,368.8 659.6,365.0 659.8,366.6 660.0,366.9 660.2,369.2 660.4,367.6 660.6,366.9 660.8,367.7 661.0,369.2 661.2,369.7 661.4,369.3 661.6,372.3 661.8,369.2 662.0,370.3 662.2,371.5 662.4,369.6 662.6,373.2 662.7,372.2 662.9,372.4 663.1,369.1 663.3,370.8 663.5,372.4 663.7,373.5 663.9,370.3 664.1,370.7 664.3,369.2 664.5,368.9 664.7,374.4 664.9,372.3 665.1,373.6 665.3,374.8 665.5,372.7 665.7,373.2 665.9,371.0 666.1,372.0 666.3,374.3 666.5,376.4 666.7,375.8 666.9,372.5 667.1,372.4 667.3,375.5 667.5,375.3 667.6,375.5 667.8,375.1 668.0,377.3 668.2,375.4 668.4,377.9 668.6,376.2 668.8,375.3 669.0,373.2 669.2,376.2 669.4,377.4 669.6,376.1 669.8,374.0 670.0,372.3 670.2,375.6 670.4,379.7 670.6,374.1 670.8,375.5 671.0,376.9 671.2,378.5 671.4,374.8 671.6,376.9 671.8,377.5 672.0,374.7 672.2,377.9 672.4,375.1 672.5,377.5 672.7,378.5 672.9,377.5 673.1,374.9 673.3,378.8 673.5,378.9 673.7,377.9 673.9,379.2 674.1,376.7 674.3,376.0 674.5,377.3 674.7,378.7 674.9,379.5 675.1,376.4 675.3,378.2 675.5,378.1 675.7,376.8 675.9,373.8 676.1,374.4 676.3,379.6 676.5,374.8 676.7,374.2 676.9,374.9 677.1,377.1 677.3,380.3 677.4,378.5 677.6,376.8 677.8,377.2 678.0,378.7 678.2,377.9 678.4,374.3 678.6,380.2 678.8,379.6 679.0,375.7 679.2,377.4 679.4,378.7 679.6,378.4 679.8,377.2 680.0,378.0 680.2,381.5 680.4,377.3 680.6,379.9 680.8,378.4 681.0,375.7 681.2,379.2 681.4,378.7 681.6,380.3 681.8,381.2 682.0,380.1 682.2,378.7 682.3,379.1 682.5,379.7 682.7,376.5 682.9,376.1 683.1,379.6 683.3,375.8 683.5,377.5 683.7,381.6 683.9,379.9 684.1,380.5 684.3,378.0 684.5,380.3 684.7,376.4 684.9,376.5 685.1,377.7 685.3,376.7 685.5,380.6 685.7,377.7 685.9,375.8 686.1,379.8 686.3,379.5 686.5,380.4 686.7,375.7 686.9,376.4 687.1,373.6 687.2,378.8 687.4,377.9 687.6,376.9 687.8,380.7 688.0,376.6 688.2,377.1 688.4,376.3 688.6,376.1 688.8,378.0 689.0,377.7 689.2,377.4 689.4,375.9 689.6,375.4 689.8,376.9 690.0,377.9 690.2,376.4 690.4,377.2 690.6,377.4 690.8,376.3 691.0,375.2 691.2,377.9 691.4,381.3 691.6,379.2 691.8,378.1 692.0,377.0 692.1,377.1 692.3,380.5 692.5,376.2 692.7,382.1 692.9,378.7 693.1,379.3 693.3,378.1 693.5,380.8 693.7,380.8 693.9,377.5 694.1,382.7 694.3,379.5 694.5,376.2 694.7,380.2 694.9,380.0 695.1,379.8 695.3,381.2 695.5,381.7 695.7,377.2 695.9,379.2 696.1,379.4 696.3,379.9 696.5,376.3 696.7,380.4 696.9,380.1 697.0,383.8 697.2,378.4 697.4,379.2 697.6,381.1 697.8,380.3 698.0,382.1 698.2,382.9 698.4,378.8 698.6,380.8 698.8,382.0 699.0,379.3 699.2,385.3 699.4,381.6 699.6,381.4 699.8,378.2 700.0,379.9 700.2,377.5 700.4,382.8 700.6,380.0 700.8,381.9 701.0,382.6 701.2,382.3 701.4,381.3 701.6,383.6 701.8,380.1 701.9,378.7 702.1,379.6 702.3,384.1 702.5,385.5 702.7,381.5 702.9,381.8 703.1,383.8 703.3,380.5 703.5,382.2 703.7,380.4 703.9,383.4 704.1,377.6 704.3,380.4 704.5,380.0 704.7,383.4 704.9,384.5 705.1,383.5 705.3,387.6 705.5,383.7 705.7,381.8 705.9,382.8 706.1,385.0 706.3,384.6 706.5,388.0 706.7,384.2 706.8,382.0 707.0,381.7 707.2,385.4 707.4,378.4 707.6,384.7 707.8,385.6 708.0,383.1 708.2,384.5 708.4,386.6 708.6,387.0 708.8,386.8 709.0,386.0 709.2,383.8 709.4,381.8 709.6,380.0 709.8,387.7 710.0,386.2 710.2,381.7 710.4,386.4 710.6,383.4 710.8,383.2 711.0,381.9 711.2,388.3 711.4,381.6 711.6,382.1 711.7,385.7 711.9,386.0 712.1,385.4 712.3,382.3 712.5,384.0 712.7,382.7 712.9,383.4 713.1,388.0 713.3,385.0 713.5,386.0 713.7,382.7 713.9,383.4 714.1,385.4 714.3,386.9 714.5,384.2 714.7,387.5 714.9,389.3 715.1,381.0 715.3,384.6 715.5,385.9 715.7,384.2 715.9,387.9 716.1,384.9 716.3,385.3 716.5,381.5 716.6,386.6 716.8,384.0 717.0,385.6 717.2,384.2 717.4,383.3 717.6,384.4 717.8,382.2 718.0,384.3 718.2,386.9 718.4,386.6 718.6,382.9 718.8,386.5 719.0,384.1 719.2,383.6 719.4,386.0 719.6,386.3 719.8,383.6 720.0,386.8 720.2,384.9 720.4,389.2 720.6,382.0 720.8,384.5 721.0,384.5 721.2,383.4 721.4,382.4 721.5,387.5 721.7,385.7 721.9,382.4 722.1,384.1 722.3,384.5 722.5,385.9 722.7,383.3 722.9,388.2 723.1,385.4 723.3,388.2 723.5,386.5 723.7,384.9 723.9,385.1 724.1,386.3 724.3,385.9 724.5,386.1 724.7,387.2 724.9,388.1 725.1,383.7 725.3,382.5 725.5,384.0 725.7,388.2 725.9,385.5 726.1,384.6 726.3,386.6 726.4,387.4 726.6,383.8 726.8,384.0 727.0,385.9 727.2,385.8 727.4,384.6 727.6,390.6 727.8,388.6 728.0,385.9 728.2,387.5 728.4,383.9 728.6,388.1 728.8,385.9 729.0,384.9 729.2,383.7 729.4,388.0 729.6,386.5 729.8,385.3 730.0,388.4 730.2,386.0 730.4,387.0 730.6,385.6 730.8,387.4 731.0,384.3 731.2,385.8 731.3,386.7 731.5,385.0 731.7,385.6 731.9,388.1 732.1,385.7 732.3,388.8 732.5,387.5 732.7,386.8 732.9,383.8 733.1,389.7 733.3,389.7 733.5,387.4 733.7,387.1 733.9,387.0 734.1,386.0 734.3,386.3 734.5,387.6 734.7,383.9 734.9,386.8 735.1,387.7 735.3,383.4 735.5,385.5 735.7,383.7 735.9,383.9 736.1,387.7 736.2,384.3 736.4,391.7 736.6,386.1 736.8,384.7 737.0,385.7 737.2,386.1 737.4,386.6 737.6,386.6 737.8,386.5 738.0,387.9 738.2,388.0 738.4,385.7 738.6,386.2 738.8,383.8 739.0,384.0 739.2,384.3 739.4,387.6 739.6,383.4 739.8,385.1 740.0,384.8 740.2,386.0 740.4,383.2 740.6,383.5 740.8,386.3 741.0,384.5 741.1,382.9 741.3,386.2 741.5,384.0 741.7,382.6 741.9,385.4 742.1,387.0 742.3,382.6 742.5,381.4 742.7,378.6 742.9,386.9 743.1,382.1 743.3,382.6 743.5,381.2 743.7,382.8 743.9,381.0 744.1,386.2 744.3,384.5 744.5,382.1 744.7,380.7 744.9,384.3 745.1,381.5 745.3,385.8 745.5,383.8 745.7,383.2 745.9,380.9 746.0,383.8 746.2,380.7 746.4,385.7 746.6,379.5 746.8,382.7 747.0,388.1 747.2,382.5 747.4,385.0 747.6,385.6 747.8,384.3 748.0,383.4 748.2,385.7 748.4,385.8 748.6,382.6 748.8,386.9 749.0,386.3 749.2,381.8 749.4,384.8 749.6,384.9 749.8,384.1 750.0,382.6 750.2,381.4 750.4,384.8 750.6,380.5 750.8,382.4 750.9,379.6 751.1,381.9 751.3,383.4 751.5,380.0 751.7,384.2 751.9,384.2 752.1,382.9 752.3,383.1 752.5,384.4 752.7,382.7 752.9,377.4 753.1,380.2 753.3,378.5 753.5,379.9 753.7,376.1 753.9,379.2 754.1,378.2 754.3,379.5 754.5,376.1 754.7,377.2 754.9,373.1 755.1,376.7 755.3,376.6 755.5,373.7 755.7,376.1 755.8,373.1 756.0,376.6 756.2,373.7 756.4,374.4 756.6,378.4 756.8,376.1 757.0,377.9 757.2,376.8 757.4,374.4 757.6,377.6 757.8,374.9 758.0,374.2 758.2,373.3 758.4,371.6 758.6,375.1 758.8,373.4 759.0,374.7 759.2,373.5 759.4,374.9 759.6,372.4 759.8,374.0 760.0,375.5 760.2,376.0 760.4,373.3 760.6,371.3 760.7,376.2 760.9,375.7 761.1,371.8 761.3,375.7 761.5,374.1 761.7,371.1 761.9,373.1 762.1,370.3 762.3,372.0 762.5,371.8 762.7,372.4 762.9,374.7 763.1,369.4 763.3,366.0 763.5,373.6 763.7,371.5 763.9,373.9 764.1,373.6 764.3,375.2 764.5,367.6 764.7,374.7 764.9,371.3 765.1,370.3 765.3,374.3 765.5,373.5 765.6,368.0 765.8,369.4 766.0,373.5 766.2,367.4 766.4,370.9 766.6,371.0 766.8,369.4 767.0,368.5 767.2,371.0 767.4,368.7 767.6,366.9 767.8,370.0 768.0,365.3 768.2,367.2 768.4,368.9 768.6,364.8 768.8,370.5 769.0,367.9 769.2,366.8 769.4,364.5 769.6,366.8 769.8,365.4 770.0,366.7 770.2,364.4 770.4,365.9 770.5,361.9 770.7,361.5 770.9,362.8 771.1,359.9 771.3,363.2 771.5,363.6 771.7,359.6 771.9,362.5 772.1,361.2 772.3,360.8 772.5,364.7 772.7,360.9 772.9,361.4 773.1,359.9 773.3,359.8 773.5,360.4 773.7,360.4 773.9,359.6 774.1,362.1 774.3,359.1 774.5,359.2 774.7,362.9 774.9,359.5 775.1,360.6 775.3,360.0 775.4,357.5 775.6,360.9 775.8,358.4 776.0,357.9 776.2,357.5 776.4,357.9 776.6,358.5 776.8,351.9 777.0,359.1 777.2,351.5 777.4,352.9 777.6,356.6 777.8,354.6 778.0,356.2 778.2,351.8 778.4,354.2 778.6,355.1 778.8,351.8 779.0,351.8 779.2,353.4 779.4,353.9 779.6,347.2 779.8,351.6 780.0,352.8 780.2,355.1 780.3,349.4 780.5,351.9 780.7,349.2 780.9,349.3 781.1,349.9 781.3,354.8 781.5,352.3 781.7,353.2 781.9,350.9 782.1,353.5 782.3,351.2 782.5,352.8 782.7,348.1 782.9,349.5 783.1,352.9 783.3,356.2 783.5,355.8 783.7,349.6 783.9,351.5 784.1,351.5 784.3,357.8 784.5,350.8 784.7,353.0 784.9,355.4 785.1,354.4 785.2,350.4 785.4,357.7 785.6,348.9 785.8,354.3 786.0,353.1 786.2,351.1 786.4,353.6 786.6,353.7 786.8,352.3 787.0,353.9 787.2,354.8 787.4,355.9 787.6,351.0 787.8,354.8 788.0,356.4 788.2,358.7 788.4,359.2 788.6,353.1 788.8,355.9 789.0,357.9 789.2,359.3 789.4,361.6 789.6,357.4 789.8,355.5 790.0,358.5 790.1,359.2 790.3,357.4 790.5,357.0 790.7,360.5 790.9,356.5 791.1,358.3 791.3,360.3 791.5,360.2 791.7,360.1 791.9,358.1 792.1,352.6 792.3,358.6 792.5,362.0 792.7,362.7 792.9,364.3 793.1,362.3 793.3,364.4 793.5,361.4 793.7,362.6 793.9,366.4 794.1,360.5 794.3,361.0 794.5,365.0 794.7,364.4 794.9,359.2 795.0,365.7 795.2,361.4 795.4,361.8 795.6,365.6 795.8,364.7 796.0,365.0 796.2,367.0 796.4,366.3 796.6,358.8 796.8,365.1 797.0,366.2 797.2,364.9 797.4,364.5 797.6,365.8 797.8,365.9 798.0,365.5 798.2,365.5 798.4,363.7 798.6,366.4 798.8,364.8 799.0,368.3 799.2,365.6 799.4,366.1 799.6,364.4 799.8,366.8 799.9,368.7 800.1,365.2 800.3,370.4 800.5,368.3 800.7,367.9 800.9,370.1 801.1,369.5 801.3,364.9 801.5,371.4 801.7,370.8 801.9,369.7 802.1,363.4 802.3,362.2 802.5,366.7 802.7,372.4 802.9,373.0 803.1,371.5 803.3,371.4 803.5,367.0 803.7,371.9 803.9,370.3 804.1,372.2 804.3,370.7 804.5,374.7 804.7,372.7 804.8,374.4 805.0,373.8 805.2,372.7 805.4,371.3 805.6,372.1 805.8,373.1 806.0,375.4 806.2,379.7 806.4,376.6 806.6,375.9 806.8,378.2 807.0,374.3 807.2,377.5 807.4,377.7 807.6,372.8 807.8,378.2 808.0,376.6 808.2,377.9 808.4,377.8 808.6,378.9 808.8,377.2 809.0,380.9 809.2,381.4 809.4,377.6 809.6,380.4 809.7,379.7 809.9,383.1 810.1,379.2 810.3,381.3 810.5,381.0 810.7,378.8 810.9,384.1 811.1,382.8 811.3,380.1 811.5,384.5 811.7,385.1 811.9,380.3 812.1,383.2 812.3,383.4 812.5,383.9 812.7,384.4 812.9,384.0 813.1,381.6 813.3,385.5 813.5,383.1 813.7,384.8 813.9,387.3 814.1,390.3 814.3,389.6 814.5,385.8 814.6,387.0 814.8,390.4 815.0,389.1 815.2,390.0 815.4,386.9 815.6,389.9 815.8,390.3 816.0,392.0 816.2,393.0 816.4,388.4 816.6,392.7 816.8,389.6 817.0,390.5 817.2,393.3 817.4,391.1 817.6,391.9 817.8,394.2 818.0,395.6 818.2,392.6 818.4,389.4 818.6,391.8 818.8,390.4 819.0,390.8 819.2,392.3 819.4,391.1 819.5,391.6 819.7,391.4 819.9,391.3 820.1,387.8 820.3,391.0 820.5,391.1 820.7,394.4 820.9,393.0 821.1,391.9 821.3,390.2 821.5,392.3 821.7,388.4 821.9,392.5 822.1,389.8 822.3,389.8 822.5,393.3 822.7,391.0 822.9,390.7 823.1,388.6 823.3,393.4 823.5,385.8 823.7,391.7 823.9,391.2 824.1,391.5 824.3,389.3 824.4,388.4 824.6,393.9 824.8,391.3 825.0,392.1 825.2,387.0 825.4,392.1 825.6,393.0 825.8,391.6 826.0,386.5 826.2,387.5 826.4,384.5 826.6,390.1 826.8,391.4 827.0,389.9 827.2,388.3 827.4,387.3 827.6,390.7 827.8,386.9 828.0,392.6 828.2,389.9 828.4,391.6 828.6,389.0 828.8,388.1 829.0,389.5 829.2,386.8 829.3,387.9 829.5,388.0 829.7,386.3 829.9,389.1 830.1,385.8 830.3,384.1 830.5,387.2 830.7,387.4 830.9,386.9 831.1,387.4 831.3,387.7 831.5,387.9 831.7,387.3 831.9,387.1 832.1,384.0 832.3,388.1 832.5,389.1 832.7,386.2 832.9,385.4 833.1,388.8 833.3,385.8 833.5,387.4 833.7,388.0 833.9,389.2 834.1,393.2 834.2,386.6 834.4,380.4 834.6,387.3 834.8,385.5 835.0,388.3 835.2,387.8 835.4,388.9 835.6,387.0 835.8,388.9 836.0,386.1 836.2,388.7 836.4,385.0 836.6,385.4 836.8,387.0 837.0,388.6 837.2,385.4 837.4,387.4 837.6,388.8 837.8,389.0 838.0,385.4 838.2,391.4 838.4,387.1 838.6,388.7 838.8,391.0 839.0,386.6 839.1,384.3 839.3,390.7 839.5,385.5 839.7,388.8 839.9,386.8 840.1,392.5 840.3,389.5 840.5,392.4 840.7,390.0 840.9,388.0 841.1,390.9 841.3,387.2 841.5,388.2 841.7,391.2 841.9,391.0 842.1,387.6 842.3,389.3 842.5,389.2 842.7,387.2 842.9,392.1 843.1,387.3 843.3,389.6 843.5,389.8 843.7,390.1 843.9,383.7 844.0,390.3 844.2,388.7 844.4,392.6 844.6,387.0 844.8,391.9 845.0,391.1 845.2,388.4 845.4,390.4 845.6,391.3 845.8,387.4 846.0,386.5 846.2,389.3 846.4,391.3 846.6,390.7 846.8,390.2 847.0,388.8 847.2,389.1 847.4,391.8 847.6,391.1 847.8,393.4 848.0,391.4 848.2,390.4 848.4,389.4 848.6,390.1 848.8,393.2 848.9,389.2 849.1,389.5 849.3,390.7 849.5,391.2 849.7,392.9 849.9,389.9 850.1,394.5 850.3,390.4 850.5,390.7 850.7,390.8 850.9,393.0 851.1,392.1 851.3,390.7 851.5,388.2 851.7,387.6 851.9,390.8 852.1,390.8 852.3,390.0 852.5,390.7 852.7,388.8 852.9,390.7 853.1,392.8 853.3,391.1 853.5,390.4 853.7,390.6 853.8,392.2 854.0,389.0 854.2,389.4 854.4,388.7 854.6,386.8 854.8,392.8 855.0,391.6 855.2,388.7 855.4,393.9 855.6,388.8 855.8,391.1 856.0,388.7 856.2,392.9 856.4,391.2 856.6,391.6 856.8,391.5 857.0,394.8 857.2,385.8 857.4,389.5 857.6,390.6 857.8,391.5 858.0,390.2 858.2,390.4 858.4,392.1 858.6,392.3 858.7,389.4 858.9,392.9 859.1,390.6 859.3,391.0 859.5,394.7 859.7,393.6 859.9,386.8 860.1,392.1 860.3,392.5 860.5,391.3 860.7,389.3 860.9,393.5 861.1,389.6 861.3,390.5 861.5,389.0 861.7,390.1 861.9,387.5 862.1,392.8 862.3,389.2 862.5,390.5 862.7,389.7 862.9,393.5 863.1,394.6 863.3,391.4 863.5,390.8 863.6,390.9 863.8,388.5 864.0,388.5 864.2,389.3 864.4,390.6 864.6,389.1 864.8,389.8 865.0,390.4 865.2,391.6 865.4,390.6 865.6,389.1 865.8,390.2 866.0,387.7 866.2,392.6 866.4,391.7 866.6,391.2 866.8,386.8 867.0,389.6 867.2,390.5 867.4,389.4 867.6,391.6 867.8,387.2 868.0,391.3 868.2,392.5 868.4,389.2 868.5,389.1 868.7,387.9 868.9,391.2 869.1,389.8 869.3,390.1 869.5,388.8 869.7,391.1 869.9,390.2 870.1,389.8 870.3,389.3 870.5,390.8 870.7,389.3 870.9,388.8 871.1,389.1 871.3,389.0 871.5,387.8 871.7,393.5 871.9,393.1 872.1,386.8 872.3,388.6 872.5,388.1 872.7,393.1 872.9,389.0 873.1,390.9 873.3,388.3 873.4,389.4 873.6,391.7 873.8,394.2 874.0,390.3 874.2,392.7 874.4,393.0 874.6,392.2 874.8,391.8 875.0,387.4 875.2,390.5 875.4,388.3 875.6,383.5 875.8,388.1 876.0,386.5 876.2,384.2 876.4,386.6 876.6,383.1 876.8,383.4 877.0,382.7 877.2,386.2 877.4,381.9 877.6,386.4 877.8,383.8 878.0,385.3 878.2,383.0 878.3,383.0 878.5,383.5 878.7,385.0 878.9,384.5 879.1,385.8 879.3,382.5 879.5,387.3 879.7,388.6 879.9,387.6 880.1,387.9 880.3,388.1 880.5,386.7 880.7,386.2 880.9,388.4 881.1,389.3 881.3,389.1 881.5,390.6 881.7,388.8 881.9,390.0 882.1,388.3 882.3,387.9 882.5,393.1 882.7,390.8 882.9,390.0 883.1,388.4 883.2,391.2 883.4,394.1 883.6,389.0 883.8,389.7 884.0,391.3 884.2,388.6 884.4,386.6 884.6,391.8 884.8,390.1 885.0,392.6 885.2,392.3 885.4,390.8 885.6,387.8 885.8,393.1 886.0,391.7 886.2,391.1 886.4,391.0 886.6,390.8 886.8,391.8 887.0,388.5 887.2,391.1 887.4,388.8 887.6,389.2 887.8,390.7 888.0,389.9 888.1,391.0 888.3,390.7 888.5,389.6 888.7,392.1 888.9,391.7 889.1,390.2 889.3,389.3 889.5,393.6 889.7,388.0 889.9,391.9 890.1,389.4 890.3,392.3 890.5,390.4 890.7,394.3 890.9,391.6 891.1,390.1 891.3,389.3 891.5,391.8 891.7,390.5 891.9,387.2 892.1,388.0 892.3,386.9 892.5,393.5 892.7,393.0 892.9,390.0 893.0,392.4 893.2,389.7 893.4,389.7 893.6,389.7 893.8,391.2 894.0,388.7 894.2,390.6 894.4,389.7 894.6,386.1 894.8,386.9 895.0,391.2 895.2,389.2 895.4,388.6 895.6,389.3 895.8,388.8 896.0,389.3 896.2,391.2 896.4,388.5 896.6,390.1 896.8,391.4 897.0,389.9 897.2,385.3 897.4,391.9 897.6,387.3 897.8,388.5 897.9,390.7 898.1,393.2 898.3,390.9 898.5,389.8 898.7,388.9 898.9,388.5 899.1,387.7 899.3,391.3 899.5,389.5 899.7,389.9 899.9,387.0 900.1,390.1 900.3,386.5 900.5,390.8 900.7,393.4 900.9,388.0 901.1,387.5 901.3,392.4 901.5,388.8 901.7,392.3 901.9,387.4 902.1,390.7 902.3,391.9 902.5,390.8 902.7,388.3 902.8,384.9 903.0,389.9 903.2,388.7 903.4,390.4 903.6,393.4 903.8,387.2 904.0,389.5 904.2,391.6 904.4,394.1 904.6,390.4 904.8,392.5 905.0,388.6 905.2,390.5 905.4,390.3 905.6,391.6 905.8,390.3 906.0,390.1 906.2,392.4 906.4,390.4 906.6,390.1 906.8,390.8 907.0,390.0 907.2,392.2 907.4,391.5 907.6,388.6 907.7,390.3 907.9,387.0 908.1,388.5 908.3,390.3 908.5,392.8 908.7,391.1 908.9,392.4 909.1,389.0 909.3,392.9 909.5,391.5 909.7,389.3 909.9,389.5 910.1,390.0 910.3,387.6 910.5,387.4 910.7,388.9 910.9,390.8 911.1,390.1 911.3,393.6 911.5,392.3 911.7,389.6 911.9,392.6 912.1,389.5 912.3,389.9 912.5,391.4 912.6,395.1 912.8,390.1 913.0,394.1 913.2,390.0 913.4,392.6 913.6,392.9 913.8,391.8 914.0,391.9 914.2,390.0 914.4,387.3 914.6,390.5 914.8,390.5 915.0,393.9 915.2,390.7 915.4,391.1 915.6,391.5 915.8,389.1 916.0,390.8 916.2,392.5 916.4,390.1 916.6,388.2 916.8,390.5 917.0,392.4 917.2,390.2 917.4,389.4 917.5,391.9 917.7,387.4 917.9,390.4 918.1,390.2 918.3,388.6 918.5,390.1 918.7,392.2 918.9,392.0 919.1,390.6 919.3,392.4 919.5,391.4 919.7,387.8 919.9,392.1 920.1,390.1 920.3,390.4 920.5,390.5 920.7,393.0 920.9,389.3 921.1,391.3 921.3,390.0 921.5,388.9 921.7,386.5 921.9,390.7 922.1,387.9 922.3,387.8 922.4,387.9 922.6,386.4 922.8,383.9 923.0,389.6 923.2,387.3 923.4,387.0 923.6,385.5 923.8,384.5 924.0,384.6 924.2,384.6 924.4,384.5 924.6,386.6 924.8,381.2 925.0,380.4 925.2,382.3 925.4,384.5 925.6,383.9 925.8,380.0 926.0,385.3 926.2,387.4 926.4,384.4 926.6,386.8 926.8,386.3 927.0,385.1 927.2,389.3 927.3,387.4 927.5,385.2 927.7,390.2 927.9,384.7 928.1,392.9 928.3,385.0 928.5,388.2 928.7,386.1 928.9,390.9 929.1,392.5 929.3,387.3 929.5,390.8 929.7,387.6 929.9,386.5 930.1,390.3 930.3,392.3 930.5,390.2 930.7,390.3 930.9,392.0 931.1,391.0 931.3,392.1 931.5,392.2 931.7,391.4 931.9,391.5 932.1,391.9 932.2,390.4 932.4,390.1 932.6,389.4 932.8,392.3 933.0,389.7 933.2,392.9 933.4,393.3 933.6,390.9 933.8,390.9 934.0,393.8 934.2,391.5 934.4,394.9 934.6,388.9 934.8,388.3 935.0,391.6 935.2,391.6 935.4,390.5 935.6,388.3 935.8,391.2 936.0,390.4 936.2,392.3 936.4,391.8 936.6,389.8 936.8,390.5 937.0,392.9 937.1,390.9 937.3,389.8 937.5,390.5 937.7,394.7 937.9,395.5 938.1,392.4 938.3,392.8 938.5,392.3 938.7,392.0 938.9,387.4 939.1,395.7 939.3,390.9 939.5,392.2 939.7,392.5 939.9,389.8 940.1,388.6 940.3,392.5 940.5,392.0 940.7,392.6 940.9,394.5 941.1,389.4 941.3,390.0 941.5,392.1 941.7,393.5 941.9,393.9 942.0,389.9 942.2,390.9 942.4,390.5 942.6,389.8 942.8,392.2 943.0,389.0 943.2,392.6 943.4,389.9 943.6,395.1 943.8,390.5 944.0,393.3 944.2,393.6 944.4,390.7 944.6,392.5 944.8,392.3 945.0,390.1 945.2,391.1 945.4,395.7 945.6,392.4 945.8,392.7 946.0,388.1 946.2,387.8 946.4,392.4 946.6,390.8 946.8,388.8 946.9,389.8 947.1,390.0 947.3,387.7 947.5,392.8 947.7,387.3 947.9,395.1 948.1,387.6 948.3,389.7 948.5,392.5 948.7,391.7 948.9,393.1 949.1,389.8 949.3,387.2 949.5,393.0 949.7,389.7 949.9,391.7 950.1,393.8 950.3,394.4 950.5,387.0 950.7,391.9 950.9,388.2 951.1,389.5 951.3,388.9 951.5,393.9 951.7,391.3 951.8,389.1 952.0,392.6 952.2,389.0 952.4,393.4 952.6,389.7 952.8,391.7 953.0,393.1 953.2,388.6 953.4,392.2 953.6,391.6 953.8,391.4 954.0,388.5 954.2,391.0 954.4,389.3 954.6,391.4 954.8,386.7 955.0,390.2 955.2,388.8 955.4,387.9 955.6,392.7 955.8,388.1 956.0,389.1 956.2,391.1 956.4,388.1 956.6,392.1 956.7,388.0 956.9,387.8 957.1,388.8 957.3,388.9 957.5,392.8 957.7,391.4 957.9,388.9 958.1,391.2 958.3,387.6 958.5,390.2 958.7,389.0 958.9,388.0 959.1,391.7 959.3,389.8 959.5,389.5 959.7,385.8 959.9,388.4 960.1,389.3 960.3,384.3 960.5,390.2 960.7,388.0 960.9,388.3 961.1,386.0 961.3,384.0 961.5,386.8 961.6,386.6 961.8,386.7 962.0,390.8 962.2,386.0 962.4,390.2 962.6,385.1 962.8,387.6 963.0,384.2 963.2,384.4 963.4,388.1 963.6,385.6 963.8,381.1 964.0,385.1 964.2,385.2 964.4,383.4 964.6,380.6 964.8,381.1 965.0,382.2 965.2,381.0 965.4,380.2 965.6,377.3 965.8,382.6 966.0,380.1 966.2,375.9 966.4,374.3 966.5,378.5 966.7,375.9 966.9,371.1 967.1,375.2 967.3,374.7 967.5,371.7 967.7,371.1 967.9,373.9 968.1,369.2 968.3,368.1 968.5,365.8 968.7,369.6 968.9,371.6 969.1,368.1 969.3,364.1 969.5,367.0 969.7,367.5 969.9,363.4 970.1,364.3 970.3,361.8 970.5,365.2 970.7,357.1 970.9,353.5 971.1,355.2 971.3,356.8 971.4,352.9 971.6,354.1 971.8,351.3 972.0,352.7 972.2,349.0 972.4,347.2 972.6,346.3 972.8,346.6 973.0,348.0 973.2,349.0 973.4,345.3 973.6,349.1 973.8,344.9 974.0,348.2 974.2,344.2 974.4,345.3 974.6,347.1 974.8,345.3 975.0,352.6 975.2,347.2 975.4,348.5 975.6,344.8 975.8,346.8 976.0,350.9 976.2,351.0 976.3,350.2 976.5,350.6 976.7,348.9 976.9,351.4 977.1,350.2 977.3,349.6 977.5,352.7 977.7,357.7 977.9,354.6 978.1,357.1 978.3,355.2 978.5,357.5 978.7,361.5 978.9,360.4 979.1,359.9 979.3,364.1 979.5,362.3 979.7,364.6 979.9,368.0 980.1,369.1 980.3,362.6 980.5,366.3 980.7,364.1 980.9,366.7 981.1,368.3 981.2,367.0 981.4,371.5 981.6,369.1 981.8,366.4 982.0,370.6 982.2,368.3 982.4,370.5 982.6,370.5 982.8,372.8 983.0,369.8 983.2,372.9 983.4,375.0 983.6,373.7 983.8,372.3 984.0,377.2 984.2,376.7 984.4,375.3 984.6,375.6 984.8,378.4 985.0,381.1 985.2,378.3 985.4,380.5 985.6,385.3 985.8,383.0 986.0,384.4 986.1,384.7 986.3,388.3 986.5,384.4 986.7,387.0 986.9,387.6 987.1,389.2 987.3,388.0 987.5,384.2 987.7,386.9 987.9,388.9 988.1,391.7 988.3,387.2 988.5,391.9 988.7,388.5 988.9,390.4 989.1,390.0 989.3,387.4 989.5,389.8 989.7,388.4 989.9,391.9 990.1,392.0 990.3,390.2 990.5,390.0 990.7,390.0 990.9,392.1 991.0,390.1 991.2,387.3 991.4,390.4 991.6,395.9 991.8,387.8 992.0,391.1 992.2,390.0 992.4,392.4 992.6,392.3 992.8,389.3 993.0,391.5 993.2,387.7 993.4,390.5 993.6,386.9 993.8,391.9 994.0,388.8 994.2,390.8 994.4,388.6 994.6,391.3 994.8,389.8 995.0,388.3 995.2,390.5 995.4,389.8 995.6,388.4 995.8,388.8 995.9,390.6 996.1,388.1 996.3,390.7 996.5,390.8 996.7,389.1 996.9,390.7 997.1,387.9 997.3,390.1 997.5,388.8 997.7,391.4 997.9,391.2 998.1,394.2 998.3,388.9 998.5,391.2 998.7,389.2 998.9,391.1 999.1,393.8 999.3,392.1 999.5,390.0 999.7,389.9 999.9,387.6 1000.1,386.8 1000.3,389.9 1000.5,388.5 1000.7,391.0 1000.8,388.9 1001.0,391.5 1001.2,388.5 1001.4,388.2 1001.6,393.0 1001.8,388.3 1002.0,389.6 1002.2,389.9 1002.4,390.5 1002.6,385.3 1002.8,390.5 1003.0,387.6 1003.2,386.3 1003.4,391.0 1003.6,387.2 1003.8,390.8 1004.0,391.7 1004.2,389.0 1004.4,389.1 1004.6,386.0 1004.8,388.0 1005.0,393.0 1005.2,390.5 1005.4,390.8 1005.6,390.9 1005.7,390.4 1005.9,390.6 1006.1,390.7 1006.3,386.3 1006.5,386.3 1006.7,388.4 1006.9,390.3 1007.1,386.5 1007.3,390.5 1007.5,387.3 1007.7,392.7 1007.9,390.8 1008.1,393.7 1008.3,391.5 1008.5,386.2 1008.7,389.0 1008.9,390.2 1009.1,390.2 1009.3,388.2 1009.5,386.2 1009.7,387.2 1009.9,388.3 1010.1,388.7 1010.3,387.8 1010.5,387.9 1010.6,388.6 1010.8,390.1 1011.0,387.3 1011.2,388.9 1011.4,390.5 1011.6,387.6 1011.8,388.4 1012.0,386.3 1012.2,388.7 1012.4,388.8 1012.6,390.5 1012.8,389.3 1013.0,386.9 1013.2,389.7 1013.4,387.2 1013.6,388.0 1013.8,388.1 1014.0,393.4 1014.2,392.1 1014.4,386.6 1014.6,390.3 1014.8,391.6 1015.0,391.3 1015.2,389.6 1015.4,389.9 1015.5,389.6 1015.7,389.7 1015.9,389.3 1016.1,387.7 1016.3,391.5 1016.5,389.0 1016.7,394.0 1016.9,390.7 1017.1,390.6 1017.3,392.4 1017.5,391.2 1017.7,390.8 1017.9,388.3 1018.1,388.3 1018.3,388.0 1018.5,392.6 1018.7,389.6 1018.9,390.7 1019.1,391.2 1019.3,389.1 1019.5,390.7 1019.7,389.9 1019.9,389.0 1020.1,390.1 1020.3,388.8 1020.4,390.6 1020.6,390.5 1020.8,391.1 1021.0,394.0 1021.2,390.9 1021.4,393.6 1021.6,393.4 1021.8,390.2 1022.0,389.7 1022.2,390.1 1022.4,392.7 1022.6,391.7 1022.8,392.3 1023.0,392.6 1023.2,392.4 1023.4,393.9 1023.6,388.1 1023.8,391.2 1024.0,389.1 1024.2,394.1 1024.4,391.7 1024.6,392.0 1024.8,389.5 1025.0,392.0 1025.2,393.0 1025.3,391.2 1025.5,392.3 1025.7,392.3 1025.9,389.5 1026.1,392.1 1026.3,391.4 1026.5,390.3 1026.7,394.3 1026.9,393.2 1027.1,391.7 1027.3,391.2 1027.5,393.9 1027.7,390.2 1027.9,393.0 1028.1,394.3 1028.3,389.2 1028.5,391.6 1028.7,388.8 1028.9,397.3 1029.1,391.4 1029.3,392.6 1029.5,394.6 1029.7,390.3 1029.9,392.7 1030.1,390.1 1030.2,395.4 1030.4,391.7 1030.6,392.8 1030.8,392.0 1031.0,395.9 1031.2,392.6 1031.4,391.4 1031.6,390.5 1031.8,392.8 1032.0,389.8 1032.2,392.4 1032.4,391.5 1032.6,392.0 1032.8,390.1 1033.0,390.8 1033.2,390.1 1033.4,392.0 1033.6,394.8 1033.8,393.6 1034.0,393.7 1034.2,395.3 1034.4,388.4 1034.6,394.7 1034.8,390.0 1035.0,394.1 1035.1,391.8 1035.3,393.2 1035.5,386.8 1035.7,390.1 1035.9,391.8 1036.1,393.4 1036.3,390.3 1036.5,387.0 1036.7,389.8 1036.9,390.3 1037.1,393.3 1037.3,389.4 1037.5,393.9 1037.7,391.9 1037.9,391.9 1038.1,392.6 1038.3,393.6 1038.5,392.5 1038.7,391.2 1038.9,391.2 1039.1,391.9 1039.3,392.0 1039.5,390.6 1039.7,392.4 1039.9,391.7 1040.0,392.0 1040.2,391.7 1040.4,388.9 1040.6,390.6 1040.8,391.5 1041.0,390.6 1041.2,391.7 1041.4,392.7 1041.6,395.6 1041.8,394.4 1042.0,390.4 1042.2,391.4 1042.4,391.0 1042.6,390.4 1042.8,390.0 1043.0,390.9 1043.2,392.4 1043.4,394.0 1043.6,395.9 1043.8,394.0 1044.0,390.4 1044.2,391.1 1044.4,393.1 1044.6,393.2 1044.8,393.7 1044.9,388.6 1045.1,392.9 1045.3,391.1 1045.5,393.4 1045.7,390.2 1045.9,392.6 1046.1,390.1 1046.3,393.7 1046.5,391.2 1046.7,395.3 1046.9,388.3 1047.1,388.7 1047.3,393.6 1047.5,391.9 1047.7,391.4 1047.9,390.3 1048.1,392.2 1048.3,392.5 1048.5,391.2 1048.7,392.6 1048.9,395.1 1049.1,392.0 1049.3,394.1 1049.5,390.6 1049.7,390.2 1049.8,389.6 1050.0,388.8 1050.2,389.5 1050.4,389.9 1050.6,391.8 1050.8,388.1 1051.0,393.5 1051.2,387.9 1051.4,392.2 1051.6,391.6 1051.8,391.5 1052.0,390.1 1052.2,391.9 1052.4,386.5 1052.6,394.0 1052.8,391.6 1053.0,391.7 1053.2,390.6 1053.4,388.5 1053.6,389.6 1053.8,387.7 1054.0,390.1 1054.2,391.4 1054.4,387.2 1054.6,392.4 1054.7,390.2 1054.9,389.7"/>
</g>
<line x1="240.4" y1="115" x2="240.4" y2="353" stroke="#000" stroke-width="1.3" stroke-dasharray="5,4.7"/>
<rect x="80.5" y="20.4" width="980.5" height="723.6" fill="none" stroke="#000" stroke-width="8.6"/>
<g fill="#000"><rect x="174.4" y="730.2" width="8.4" height="10"/><rect x="272.4" y="730.2" width="8.4" height="10"/><rect x="370.5" y="730.2" width="8.4" height="10"/><rect x="468.6" y="730.2" width="8.4" height="10"/><rect x="566.6" y="730.2" width="8.4" height="10"/><rect x="664.7" y="730.2" width="8.4" height="10"/><rect x="762.8" y="730.2" width="8.4" height="10"/><rect x="860.9" y="730.2" width="8.4" height="10"/><rect x="958.9" y="730.2" width="8.4" height="10"/><rect x="125.3" y="737" width="8.4" height="3"/><rect x="223.4" y="737" width="8.4" height="3"/><rect x="321.5" y="737" width="8.4" height="3"/><rect x="419.5" y="737" width="8.4" height="3"/><rect x="517.6" y="737" width="8.4" height="3"/><rect x="615.7" y="737" width="8.4" height="3"/><rect x="713.8" y="737" width="8.4" height="3"/><rect x="811.8" y="737" width="8.4" height="3"/><rect x="909.9" y="737" width="8.4" height="3"/><rect x="1008.0" y="737" width="8.4" height="3"/></g>
<g font-family="Liberation Serif, serif" font-weight="bold" fill="#000">
<text x="80.5" y="791.6" font-size="42.7" letter-spacing="0" text-anchor="middle" >20</text>
<text x="178.6" y="791.6" font-size="42.7" letter-spacing="0" text-anchor="middle" >25</text>
<text x="276.6" y="791.6" font-size="42.7" letter-spacing="0" text-anchor="middle" >30</text>
<text x="374.7" y="791.6" font-size="42.7" letter-spacing="0" text-anchor="middle" >35</text>
<text x="472.8" y="791.6" font-size="42.7" letter-spacing="0" text-anchor="middle" >40</text>
<text x="570.9" y="791.6" font-size="42.7" letter-spacing="0" text-anchor="middle" >45</text>
<text x="668.9" y="791.6" font-size="42.7" letter-spacing="0" text-anchor="middle" >50</text>
<text x="767.0" y="791.6" font-size="42.7" letter-spacing="0" text-anchor="middle" >55</text>
<text x="865.1" y="791.6" font-size="42.7" letter-spacing="0" text-anchor="middle" >60</text>
<text x="963.1" y="791.6" font-size="42.7" letter-spacing="0" text-anchor="middle" >65</text>
<text x="1061.2" y="791.6" font-size="42.7" letter-spacing="0" text-anchor="middle" >70</text>
<text x="571.0" y="850.6" font-size="41.8" letter-spacing="0" text-anchor="middle" >2θ(degrees)</text>
<text transform="translate(42,394.2) rotate(-90)" font-size="42" text-anchor="middle">Intensity(a.u)</text>
<text x="204.4" y="102.4" font-size="35" letter-spacing="2.2" text-anchor="start" >(111)</text>
<text x="261.7" y="189.2" font-size="35" letter-spacing="1.2" text-anchor="start" >(100)</text>
<text x="322.2" y="224.2" font-size="35" letter-spacing="1.0" text-anchor="start" >(002)</text>
<text x="401.1" y="211.8" font-size="35" letter-spacing="1.1" text-anchor="start" >(101)</text>
<text x="571.7" y="284.8" font-size="35" letter-spacing="0.5" text-anchor="start" >(102)</text>
<text x="749.9" y="328.8" font-size="35" letter-spacing="1.1" text-anchor="start" >(110)</text>
<text x="941.7" y="328.8" font-size="35" letter-spacing="1.8" text-anchor="start" >(112)</text>
<text x="196.0" y="341.8" font-size="35" letter-spacing="1.4" text-anchor="start" >(111)</text>
<text x="575.6" y="514.5" font-size="35" letter-spacing="0.65" text-anchor="start" >(220)</text>
<text x="747.6" y="554.9" font-size="35" letter-spacing="1.1" text-anchor="start" >(311)</text>
<text x="574.6" y="197.9" font-size="35" letter-spacing="0.4" text-anchor="start" >OLA=10</text>
<text x="361.0" y="583.7" font-size="35.2" letter-spacing="0.3" text-anchor="start" >OLA=0~5</text>
</g>
<rect x="872.4" y="40.6" width="171" height="180" fill="none" stroke="#000" stroke-width="1.2"/>
<g stroke-width="5.5" stroke-linecap="round">
<line x1="872.4" y1="85.6" x2="929.4" y2="85.6" stroke="#000"/>
<line x1="872.4" y1="125.8" x2="929.4" y2="125.8" stroke="#f00"/>
<line x1="872.4" y1="165.8" x2="929.4" y2="165.8" stroke="#00f"/>
<line x1="872.4" y1="205.9" x2="929.4" y2="205.9" stroke="#008000"/>
</g>
<g font-family="Liberation Serif, serif" font-weight="bold" fill="#000">
<text x="937.4" y="93.5" font-size="30.5" letter-spacing="1.1" text-anchor="start" >OLA0</text>
<text x="937.4" y="133.7" font-size="30.5" letter-spacing="1.1" text-anchor="start" >OLA3</text>
<text x="937.4" y="173.7" font-size="30.5" letter-spacing="1.1" text-anchor="start" >OLA5</text>
<text x="937.4" y="213.8" font-size="30.5" letter-spacing="1.1" text-anchor="start" >OLA10</text>
</g>
</svg>
</body></html>
